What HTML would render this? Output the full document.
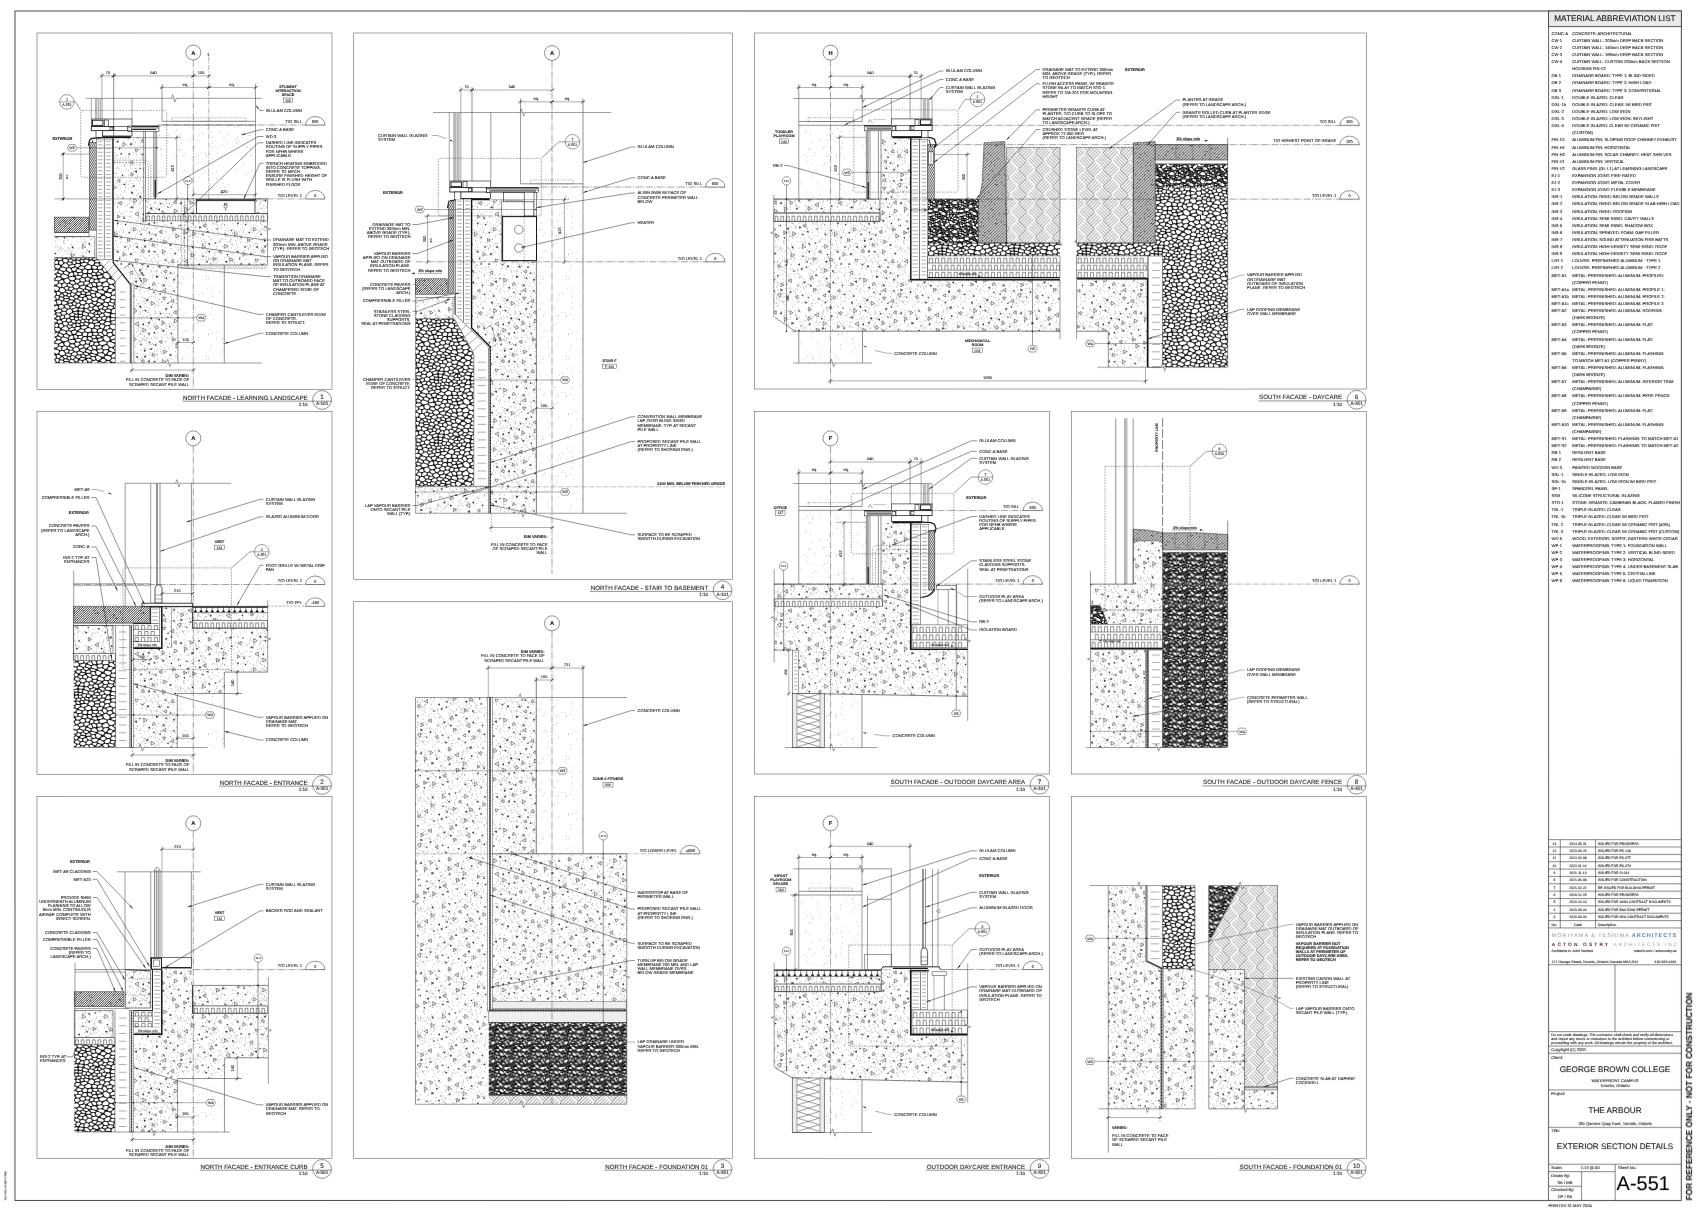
<!DOCTYPE html><html><head><meta charset="utf-8"><title>A-551 Exterior Section Details</title><style>html,body{margin:0;padding:0;background:#fff}svg{display:block}text{font-family:"Liberation Sans",sans-serif;fill:#1a1a1a;text-rendering:geometricPrecision;stroke:#1a1a1a;stroke-width:0.1px}</style></head><body><svg width="1700" height="1213" viewBox="0 0 1700 1213" fill="none"><defs><pattern id="conc" width="120" height="110" patternUnits="userSpaceOnUse"><rect width="120" height="110" fill="#fff"/><path d="M28.56 59.87h0M44.39 66.43h0M75.09 7.21h0M1.58 92.12h0M31.12 25.78h0M119.48 51.73h0M100.38 52.4h0M76.69 16.57h0M76.18 95.48h0M62.78 81.54h0M80.57 7.04h0M90.99 65.02h0M36.15 3.41h0M103.86 52h0M86.26 96.67h0M85.7 101.32h0M47.4 88.1h0M53.35 102.91h0M105.46 10.72h0M16.32 23.87h0M115.86 47.98h0M75.2 33.11h0M60.87 42.45h0M42.11 64.36h0M70.11 99.46h0M81.84 102.18h0M102.77 109.01h0M80.55 17.94h0M103.28 106.11h0M108.56 62.6h0M85.66 23.22h0M99.79 63.09h0M34.19 6.98h0M102.47 108.88h0M10.62 88.07h0M49.26 16.58h0M35.27 84.57h0M104.73 4.86h0M73.74 4.94h0M86.21 36.4h0M105.71 107.87h0M60.65 109.84h0M37.16 8.47h0M71.97 3.45h0M23.69 44.87h0M73.26 17.18h0M5.09 95.46h0M37.66 105.45h0M107.6 41.56h0M55.25 57.21h0M77.27 65.52h0M67.11 68.21h0M112.87 55.77h0M51.74 79.23h0M28.52 33.12h0M117.34 57.32h0M65.81 1.26h0M49.83 63.8h0M2.41 67.74h0M75.86 6.61h0M75.28 51.29h0M81.51 38.78h0M84.83 81.18h0M2.66 6.66h0M81.12 105.96h0M30.13 50.19h0M71.12 35.2h0M43.67 34.39h0M44.3 65.52h0M36.05 41.49h0M92.67 2.96h0M68.31 80.87h0M37.2 24.48h0M96.46 26.26h0M22.49 47.88h0M83.77 11.2h0M38.64 36.71h0M100.02 48.23h0M102.66 18.62h0M40.41 71.53h0M106.19 49.62h0M27 13.3h0M63.56 20.99h0M96.81 92.23h0M22.03 30.65h0M96.87 70.61h0M96.75 37.98h0M15.56 32.11h0M95.26 29.83h0M41.56 45.86h0M50.37 45.05h0M110.47 17.16h0M0.56 103.76h0M105.6 108.56h0M52.12 104.52h0M111.29 24.43h0M89.46 92.04h0M79.56 57.09h0M34.69 37.52h0M27.3 7.49h0M70.64 31.57h0M97.22 4.96h0M108.43 76.31h0M110.86 98.62h0M107.96 63.46h0M1.58 81.98h0M20.62 32.99h0M79.55 57.75h0M49.65 103.29h0M73.46 37.55h0M30.3 94.78h0M57.26 86.06h0M42.22 21.71h0M64.16 89.85h0M20.56 87.08h0M110.61 88.67h0M98.82 0.83h0M75.43 94.88h0M5.99 29.85h0M32.23 58h0M50.76 52.02h0M93.18 0.2h0M6.58 13.95h0M14.96 7.53h0M116.96 93.99h0M10.34 55.23h0M37.91 34.6h0M42.15 71.16h0M70.39 39.69h0M22.93 36.17h0M14.85 61.11h0M85.93 41.83h0M9.59 19.64h0M44.79 66.49h0M93.91 41.83h0M96.14 68.52h0M51.79 40.97h0M59.54 77.32h0M50.46 76.35h0M55.3 26.96h0M64.3 76.47h0M8.59 46.74h0M51.1 96.76h0M112.38 41.17h0M107.74 87h0M31.46 51.06h0M14.78 89.45h0M79.47 97.61h0M95.1 73.43h0M88.05 62.02h0M12.38 64.65h0M0.59 15.79h0M92.92 4.87h0M11.02 10.92h0M105.66 19.71h0M2.82 92.57h0M14.55 92.83h0M80.82 91.98h0M114.29 63.7h0M95.85 3.99h0M92.09 56.25h0M85.82 11.74h0M89.88 102.8h0M7.34 35.67h0M67.68 91.09h0M29.06 19.77h0M30 67.76h0M90.43 43.31h0M44.1 43.63h0M42.03 46h0M9.99 55.03h0M116.77 45.41h0M89.69 17.67h0M82.9 83.17h0M80.86 56.88h0M58.05 70.72h0M107.69 16.43h0M11.5 82.3h0M109.99 56.9h0M53.17 79.08h0M22.33 29.41h0M23.9 64.42h0M37.78 25.55h0M82.94 104.88h0M35.5 77.59h0M49.58 93.9h0M70.16 29.39h0M26.11 2.54h0M57.54 42.1h0M20.67 39.65h0M38.65 85.16h0M17.23 109.03h0M57.55 65.89h0M56.17 91.81h0M98.59 61.28h0M57.76 79.28h0M102.8 44.03h0M88.03 105.63h0M56.09 25.26h0M28.17 78.95h0M81.04 105.46h0M102.47 26.63h0M22.75 28.45h0M22.46 77.52h0M103.03 98.97h0M30.6 95.16h0M37.61 46.56h0M87.48 9.45h0M11.12 91.73h0M35.01 39.23h0M69.64 74.31h0M0.83 36.83h0M52.35 53.45h0M25.21 64.36h0M114.64 43h0M65.32 13.11h0M32.97 73.2h0M13.5 97.59h0M109.05 10.66h0M112.95 41.16h0M92.69 83.31h0M35.46 74.35h0M78.49 88.67h0M31.87 82.96h0M115.36 74.01h0M64.34 12.46h0M59.27 38.74h0M86.17 74.64h0M67.97 20.02h0M77.48 69.4h0M21.49 97.89h0M78.64 13.54h0M111.82 15.55h0M39.78 79.25h0M71.69 61.04h0M77.7 50.35h0M37.49 19.4h0M8.23 78.74h0M90.54 59.74h0M88.76 39.51h0M31.9 42.17h0M104.7 4.63h0M60.57 27.19h0M92.27 38.95h0M39.94 44.37h0M64.98 84.89h0M42.35 93.16h0M13.46 29.75h0M11.96 12.4h0M93.48 80h0M22.18 20.81h0M50 81.76h0M97.89 82.36h0M71.03 16.11h0M47.81 21.3h0M63.31 62.52h0M24.25 27.52h0M93.8 3.31h0M96.38 98.03h0M113.92 42.15h0M66.31 64.14h0M76.04 107.47h0M82.4 32.93h0M103.2 53.25h0M72.16 79.95h0M0.28 84.75h0M79.43 54.11h0M62.84 50.66h0M23.21 58.25h0M4.45 55.05h0M77.52 48.86h0M67.92 105.49h0M107.05 14.91h0M95.09 68.56h0M6.07 39.59h0M28.01 8.56h0M64.67 102.28h0M38.77 95.76h0M83.36 14.78h0M102.99 66.12h0M111.24 78.75h0M88.77 37.8h0M96.8 102.49h0M103.38 48.07h0M90.82 53.35h0M13.09 4.7h0M9.35 22.03h0M19.3 54.69h0M83.91 59.12h0M50.65 71.42h0M36.56 51.08h0M90.85 44.16h0M21.67 98.94h0M86.36 40.36h0M44.52 58.23h0M71.58 24.62h0M0.32 22.99h0M93.98 15.78h0M55.2 21.48h0M25.11 18.78h0M48.45 18.51h0M3.3 12.11h0M20.19 53.93h0M7.17 2.47h0M53.76 44.85h0M84.41 5.62h0M48.4 43.63h0M3.2 106.21h0M26.27 10.37h0M56.95 18.12h0M74.69 38.1h0M14.87 5.71h0M87.32 30.26h0M94.54 51.19h0M111.95 33.06h0M30 29.24h0M97.76 69.2h0M41.37 10.31h0M81.89 106.62h0M71.07 0.4h0M3.64 9.96h0M20.44 4.03h0M6.47 71.97h0M108.04 22.08h0M116.86 52.46h0M96.43 100.91h0M112.81 3.76h0M36.57 66.76h0M113.58 9.66h0M35.21 93.49h0M13.76 42.88h0M40.1 74.81h0M111.42 19.21h0M88.78 80.73h0M100.28 60.87h0M110.82 39.91h0M49.77 25.23h0M93.54 52.87h0M32.33 18.67h0M86.48 66.63h0M85.28 42.55h0M58.45 16.93h0M85.28 2.52h0M56.03 83.43h0M81.28 10.68h0M28.46 92.8h0M77.09 96.64h0M104.67 49.49h0M107.63 80.61h0M40.05 40.71h0M8.65 43.93h0M114.68 11.55h0M68.27 12.11h0M9.71 71.41h0M28.88 5.37h0M18.32 70.9h0M70.27 1.28h0M27.59 106.4h0M26.41 61.87h0M50.35 85.93h0M72.52 86.75h0M64.23 20.7h0M21.31 8.7h0M99.06 12.38h0M2.88 106.31h0M23.91 98.26h0M10.29 51.18h0M26.73 91.24h0M73.85 70.6h0M91.37 95.89h0M41.53 66.34h0M53.47 12.2h0M100.25 65.38h0M97.78 22.66h0M64.7 51.06h0M87.36 8.5h0M41.54 53.3h0M8.58 60.8h0M88.24 46.51h0M77.81 66.65h0M25.7 38.56h0M119.49 36.87h0M51.7 9.26h0M26.15 18.18h0M111.71 79.9h0M104.97 108.52h0M73.46 102.45h0M64.29 46.06h0M113.77 99.34h0M113.95 53.26h0M92.82 44.77h0M119.68 101.23h0M35.05 102.76h0M22.15 10.55h0M86.68 32.37h0M62.33 70.32h0M4.87 81.97h0M33.12 47.56h0M41.37 81.63h0M89.62 31.6h0M12.4 32.93h0M49.33 8.53h0M18.39 83.9h0M84.05 107.4h0M117.56 96.38h0M44.71 17.75h0M37.43 50.95h0M63.11 59.63h0M43.17 93.8h0M34.22 50.95h0M106.42 88.79h0M35.69 26.69h0M96.8 1.11h0M15.78 58.39h0M64.3 18.23h0M6.03 22.43h0M92.4 51.23h0M117.51 86.41h0M117.51 3.86h0M22.2 1.45h0M51.88 37.21h0M6.15 60.06h0M11.26 34.28h0M29.67 88.23h0M50.19 28.64h0M5.28 47.25h0M75.3 74.27h0M109.51 88.94h0M29.68 14.92h0M91 86.85h0M61.06 91.41h0M66.22 30.76h0M20.25 1.88h0M77.17 98.67h0M108.74 51.42h0M79.86 102.15h0M97.68 66.29h0M49.73 57.03h0M20.49 20.12h0M82.05 109.13h0M65.65 44.9h0M42.23 50.04h0M96.35 49.78h0M115.11 17.08h0M37.79 57.42h0M49.43 93.62h0M99.31 102.45h0M73.5 3.37h0M68.94 60.47h0M58.51 30.78h0M85.13 100.28h0M12.29 73.56h0M44.56 56.63h0M107.48 105.64h0M77.23 21.46h0M110.49 19.92h0M46 91.1h0M37.94 29.8h0M113.99 103.82h0M38.09 43.18h0M33.83 14.47h0M30.03 107.82h0M9.51 25.27h0M24 8.75h0M63.15 81.73h0M100.59 69.42h0M98.14 0.59h0M33.86 105.73h0M8.33 29.44h0M57.94 29.46h0M65.54 5.19h0M28.31 105.33h0M17.31 99.6h0M21.35 109.21h0M80.95 71.16h0M17.07 6h0M91.14 19.38h0M22.75 90.5h0M104.98 5.37h0M115.29 58.82h0M45.89 11.78h0M46.78 108.63h0M33.69 14.44h0M17.43 13.96h0M42.29 100.65h0M9.24 21.12h0M112.72 109.66h0M117.59 27.05h0M42.52 104.59h0M58.21 77.38h0M37.59 2.35h0M41.44 82.3h0M93.83 62.58h0M55.69 59.19h0M53.07 58.79h0M99.96 22.05h0M71.32 102.61h0M101.8 19.74h0M115.61 92.4h0M20.15 29.25h0M24.28 5.84h0M117.4 45.02h0M104.72 12.6h0M1.67 95.68h0M95.28 109.07h0M82.26 57.78h0M91.92 10.18h0M64.85 48.53h0M17.56 66.04h0M38.78 55.7h0M44.82 34.99h0M43.01 66.11h0M117.66 102.98h0M103.46 91.87h0M34.42 107.44h0M32.37 13.55h0M60.1 80.54h0M40.92 70.98h0M33.89 106.36h0M54.35 52.56h0M63.77 96.24h0M118.38 58.13h0M52.99 67.96h0M8.31 46.8h0M101.7 85.52h0M7.12 93.99h0M46.08 107.94h0M43.99 23.61h0M65.84 97.22h0M51.73 95.42h0M85.36 39.77h0M36.07 55.59h0M47.88 40.98h0M78.21 96.26h0M70.13 16.08h0M26.39 40.8h0M73.76 15.35h0M9.79 35.27h0M33.96 3.24h0M64.66 101.34h0M64.12 81.12h0M99.41 92.15h0M109.57 48.55h0M81.89 13.28h0M105.6 41.61h0M57.04 97.93h0M34.41 20.89h0M98.83 65.87h0M10.18 3.09h0M42.15 0.82h0M99.89 20.2h0M32.9 42.77h0M61.41 47.56h0M75.44 72.58h0M52.35 10.67h0M117.49 76.03h0M10.03 48.59h0M90.43 109.1h0M7.92 1.04h0M57.59 46.43h0M107.33 90.91h0M39.79 46.06h0M69.94 97.26h0M24.23 43.11h0M10.61 70.54h0M3.19 102.86h0M62.85 63.13h0M10.23 25.55h0M56.25 94.31h0M64.69 31.31h0M117.85 72.76h0M63.41 22.26h0M35.83 98.98h0M15.95 58.47h0M74.4 39.03h0M92.24 100.1h0M102.9 81.18h0M24.43 6.59h0M51.94 34.33h0M23.27 95.85h0M25.93 90.5h0M112.52 13.17h0M109.63 43.69h0M25.43 20.51h0M4.53 54.86h0M46.12 93.66h0M99.96 6.27h0M48.16 42.81h0M21.32 27.58h0M31.6 76.35h0M40.82 12.23h0M26.45 48.64h0M67.78 27h0M83.95 23.7h0M80.5 67.03h0M21.09 82.62h0M47.31 59.35h0M71.73 69.09h0M53.08 6.16h0M94.4 94.56h0M58.82 63.69h0M32.22 98.85h0M82.28 24.41h0M98.1 108.47h0M41.51 109.51h0M57.98 19.66h0M86.03 37.28h0M87.88 64.18h0M12.92 58.09h0M102.1 52.56h0M64.72 94.95h0M53.6 54.2h0M69.94 90.62h0M24.37 10.29h0M91.34 60.78h0M36.33 98.14h0M106.15 59.56h0M118.61 91.96h0M89.77 32.04h0M1.3 74.65h0M88.21 38.57h0M57.45 62.39h0M29.98 76.74h0M67.5 42.41h0M13.15 60.93h0M38.36 79.74h0M20.7 43.38h0M23.55 44.91h0M69.17 11.76h0M6.58 53.05h0M24.19 55.56h0M20.06 11.09h0M64.5 101.55h0M104.22 56.71h0M47.68 7.27h0M33.16 34.57h0M112.98 12.89h0M113.76 52.44h0M52.09 28.85h0M115.51 20.47h0M68.56 56.18h0M23.94 24.53h0M118.25 86.99h0M88.01 99.32h0M11.83 77.39h0M90.06 24.79h0M54.85 107.19h0M39.21 83.86h0M19.83 73.39h0M32.33 55.97h0M44.69 95.74h0M89.38 55.46h0M82.47 47.04h0M96.51 28.32h0M65.3 64.42h0M46.57 5.13h0M20.39 70.45h0M25.36 83.4h0M60.59 104.84h0M101.74 80.01h0M44.7 4.79h0M66.8 82.02h0M110.53 22.29h0M19.01 107.85h0M88.73 53.31h0M88.62 16.44h0M65.29 73.55h0M72.45 17.73h0M16.41 68.73h0M106.12 15.19h0M0.85 9.11h0M94.23 42.99h0M54.69 109.34h0M73.34 28.97h0M84.12 0.22h0M33.78 76.85h0M20.5 3.59h0M62.19 36.06h0M116.54 11.18h0M96.26 42.73h0M96.65 48.96h0M80.09 35.93h0M26.95 49.77h0M96.02 37.98h0M27.59 45.75h0M11.51 34.73h0M68.74 60.01h0M71.69 31.9h0M2.98 2.91h0M40.68 21.61h0M68.28 29.19h0M91.43 66.15h0M79.48 80.91h0M62.59 46.92h0M37.01 6.92h0M95.33 55.01h0M11.97 101.93h0M69.84 68.59h0M52.64 13.87h0M119.94 18.5h0M43.95 109.93h0M14.65 54.94h0M57.56 27.24h0M110.95 45.56h0M1.39 52.09h0M0.57 77.93h0M104.28 99.62h0M5.75 74.27h0M36.57 51.99h0M36.05 33.55h0M15.93 68.83h0M10.63 106.06h0M5.26 106.05h0M22.99 9.18h0M89.38 58.4h0M92.27 55.93h0M75.66 9.09h0M80.86 56.37h0M115.47 0.68h0M8.2 74.39h0M111.14 46.39h0M85.31 61.66h0M46.91 51.2h0M72.2 3.18h0M36.67 81.19h0M30.97 52.05h0M30.81 39.34h0M78.07 81.81h0M114.82 52.45h0M24.33 37.06h0M7.02 26.35h0M70.15 67.22h0M28.98 19.98h0M11.77 19.65h0M60.17 28.07h0M106.04 62.13h0M40.82 47.42h0M4.8 80.62h0M90.13 40h0M87.06 29.97h0M26.34 25.11h0M23.6 66.64h0M77.05 80.05h0M12.45 84.29h0M57.39 41.63h0M60.37 47.6h0M24.01 43.45h0M77.53 78.67h0M109.8 21.38h0M106.92 88.04h0M85.56 107.75h0M16.55 85.43h0M107.93 13.42h0M71.36 104.17h0M35.16 94.08h0M108.76 47.86h0M17.42 23.71h0M99.58 46.44h0M37.88 48.72h0M111.38 27.94h0M2.19 104.41h0M38.03 42.4h0M117.1 31.01h0M10.29 97.65h0M29.26 24.37h0M112.52 25.23h0M108.14 36.64h0M36.39 23.74h0M65.08 61.61h0M47.8 55.82h0M35.77 92.14h0M112.06 82.84h0M98.37 7.78h0M30.04 22.41h0M18.58 106.53h0M108.63 100.56h0M66.94 12.82h0M51.24 6.18h0M108.56 29.21h0M34.58 104.03h0M24.06 101.49h0M37.34 73.13h0M12.8 98.82h0M47.84 37.96h0M78.52 65.27h0M30.12 13.66h0M69.06 2.71h0M104.58 37.81h0M20.35 36.07h0M13.66 34.83h0M65.19 44.76h0M40.11 31.99h0M58.38 85.66h0M52.53 84.47h0M57.92 13.24h0M20.43 93.24h0M57.51 42.07h0M61.88 93.08h0M45.04 39.77h0M43.92 1.19h0M65.38 52.71h0M59.49 49.68h0M56.7 78.7h0M22.34 107.95h0M13.76 95.3h0M21.01 87.47h0M31.26 8.61h0M64.88 92.29h0M101.46 96.47h0M117.56 5.85h0M45.48 11.76h0M90.62 49.67h0M89.29 87.53h0M119.88 74.45h0M105.03 60.33h0M9.68 98.02h0M10.93 9.43h0M99.64 30.86h0M79.49 3.15h0M25.3 78.72h0M4.52 56.17h0M112.5 23.57h0M84.57 81.82h0M74.4 84.3h0M83.78 1.57h0M23.02 59.01h0M116.38 23.87h0M70.42 14.12h0M101.62 48.97h0M62.64 73.63h0M16.38 80.17h0M95.99 94.55h0M33.77 25.78h0M19.79 98.93h0M52.56 42.88h0M62.46 76.84h0M38.17 36.99h0M91.95 85.44h0M35.52 8.1h0M111.37 80.27h0M71.31 44.51h0M115.06 47.37h0M25.99 11.04h0M42.13 66.08h0M43.74 104.18h0M77.98 50.4h0M79.24 66.19h0M74.11 54.47h0M62.76 54.04h0M99.76 21.11h0M94.26 32.81h0M101.85 8.01h0M58.2 48.72h0M85.39 22.26h0M31.49 14.62h0M67.37 63.42h0M0.06 19.57h0M23.96 105.29h0M54.6 62.21h0M34.76 72.57h0M97.56 73.83h0M0.17 48.35h0M58.66 4.9h0M94.79 35.07h0M35.2 68.78h0M70.18 54.61h0M103.12 57.08h0M41.18 7.08h0M66.35 39.98h0M64.39 38.22h0M0.83 4.16h0M18.95 10.33h0M102.17 63.88h0M28.62 78.17h0M76.14 6.82h0M90.15 25.17h0M119.68 15.61h0M34.3 27.4h0M103.46 90.05h0M69.53 16.39h0M51.44 77.22h0M6.95 101.3h0M100.96 102.49h0M83.83 67.94h0M117.01 29.36h0M36.67 13.55h0M21.65 87.83h0M11.43 81.85h0M47.55 96.54h0M91.16 75.55h0M101.4 4.68h0M31.85 40.55h0M51.52 73.74h0M105.5 81.4h0M111.44 76.56h0M42.78 55.86h0M89.82 89.64h0M44.39 39.09h0M73.74 25.12h0M105.96 0.01h0M77.84 53.42h0M23.4 62.72h0M56.9 105.83h0M106.16 64.52h0M104.57 97.2h0M19.82 91.01h0M100 108.99h0M91.16 43.13h0M24.77 71.81h0M25.29 83.3h0M68.92 90.84h0M42.78 33.33h0M108.53 72.88h0M45.39 61.67h0M52.26 70.72h0M62.01 31.41h0M117.56 97.38h0M91.04 30.6h0M23.31 80.42h0M98.68 71.8h0M25.62 79.24h0M62.79 41.07h0M70.67 49.36h0M77.85 82.68h0M117.93 12.23h0M68.53 103.99h0M78.84 63.76h0M102.36 3.45h0M95.12 68.55h0M70.11 34.18h0M74.31 13.79h0M63.06 28.35h0M111.8 88.51h0M56.74 83.05h0M46.18 57.6h0M19.38 94.37h0M91.69 83.6h0M9.99 90.14h0M1.44 62.17h0M58.54 6.52h0M50.61 97.58h0M74.91 34.59h0M97.72 39.1h0M107.65 44.1h0M9.31 106.89h0M8.53 27.84h0M92.53 12.67h0M65.3 94.5h0M70.8 38.29h0M90.96 90.82h0M69.52 68.96h0M38.68 44.82h0M119.02 106.9h0M0.2 21.59h0M27.03 87.22h0M24.07 18.63h0M91.91 18.58h0M117.29 50.09h0M107.83 90.17h0M24.86 86.42h0M49.79 24.44h0M5.53 77.35h0M67.33 33.35h0M99.94 21.67h0M53.37 9.6h0M42.05 97.32h0M60.01 16.89h0M28.39 70.88h0M33.33 97.59h0M7.27 95.58h0M74.63 90.45h0M42.51 7.6h0M20.66 68.95h0M3.11 12.12h0M93.87 96.58h0M102.73 92.12h0M66.6 96.28h0M83.71 61.31h0M51.08 2.68h0M10.76 27.46h0M55.31 13.31h0M116.46 63.41h0M88.85 98.2h0M27.15 97.48h0M114.97 29.42h0M15.06 88h0M106.77 87.84h0M49 66.24h0M13.67 25.79h0M50.26 81.92h0M10.65 102.11h0M3.58 106.66h0M28.43 90.07h0M98.17 104.99h0M56.42 76.87h0M35.04 91.61h0M13.06 97.21h0M71.08 6.81h0M112.96 34.76h0M8.18 28.49h0M3.28 30.94h0M85.19 108.74h0M75.76 93.94h0M98.67 78.62h0M46.13 27.7h0M18.72 60.17h0M24.5 81.39h0M38.46 63.72h0M65.57 69.07h0M18.64 28.19h0M82.64 23.45h0M80.58 106.15h0M46.7 105.78h0M73.71 103.88h0M63.15 82.81h0M81.91 21.48h0M62.15 63.9h0M55.64 72.6h0M109.09 87.45h0M97.47 15.78h0M84.38 69.01h0M112.6 0.28h0M20.69 107.32h0M44.7 77.62h0M71.01 43.78h0M52.63 61.84h0M118.22 58.67h0M94.83 33.38h0M85.41 66.51h0M89.21 96.75h0M9.58 106.38h0M73.22 28.58h0M55.72 10.65h0M27.73 92.16h0M85.34 95.29h0M19.48 11.9h0M45.52 54.53h0M85.3 32.81h0M88.47 64.26h0M34.64 86.65h0M8.84 65.14h0M22.54 4.69h0M57.4 57.18h0M73.5 41.28h0M111.54 86.26h0M18.48 0.52h0M115.27 45.22h0M12.59 19.55h0M84.02 19.43h0M44.77 74.45h0M42.28 71.89h0M113.8 87.22h0M75.39 68.82h0M37.15 70.45h0M77.89 64.57h0M58.89 82.67h0M24.54 78.48h0M117.42 3.95h0M30.25 108.43h0M9.9 89.96h0M69.72 7.65h0M75.56 0.84h0M101.92 33.26h0M110.87 98.74h0M16.39 44.33h0M18.3 83.36h0M11.44 8.11h0M13.93 94.46h0M29.65 35.53h0M53.54 60.7h0M49.58 104.18h0M40.87 52.35h0M103.46 26.8h0M20.88 91.99h0M37.91 98.11h0M98.65 41.02h0M39.95 11.15h0M104.82 48.68h0M41.06 19.42h0M27.11 96.13h0M15.68 61h0M74.96 57.24h0M60.28 43.72h0M23 90.31h0M107.62 62.03h0M30.2 100.35h0M24.21 18.8h0M75.1 91.46h0M68.67 12.07h0M117.47 17.18h0M41.24 108.71h0M95.06 83.13h0M9.09 93.7h0M48.01 1.18h0M94.69 102.33h0M5.71 49.96h0M108.18 36.57h0M36.35 85.68h0M52.95 109.79h0M102.72 94.44h0M84.84 21.43h0M82.44 63.64h0M57.94 62.31h0M36.63 21.76h0M109.46 40.36h0M12.7 107.41h0M61.29 74.34h0M40.7 16.38h0M39.89 91.68h0M32.87 100.35h0M36.53 98.67h0M21.48 48.8h0M15.46 16.34h0M62.7 40.15h0M64.5 23.81h0M37.26 35.4h0M107.8 8.9h0M49.95 93.99h0M68.66 28.13h0M119.67 11.92h0M16.44 1.87h0M52.7 94.46h0M33.88 31.41h0M95.78 8.53h0M2.08 72.98h0M10.58 58.01h0M17.37 66.19h0M102.16 49.83h0M32.8 68.57h0M84.02 6.26h0M28.78 41.43h0M60.7 30.1h0M78.99 28.1h0M108.57 38.69h0M26.59 8.63h0M15.19 23.71h0M105.92 45.83h0M53.16 105.57h0M115.99 84.23h0M28.82 36.01h0M60.61 28.39h0M41.65 23.38h0M28.94 82.44h0M72.4 49.01h0M56.6 67.48h0M82.16 2.51h0M101.2 50.89h0M41.04 105.44h0M90.8 38.55h0M2.94 48.09h0" stroke="#555" stroke-width="0.55" stroke-linecap="round" fill="none"/><path d="M54.51 42.46L50.84 42.12L52.96 39.11ZM14.9 103.94L18.34 101.95L18.35 105.93ZM55.73 9.28L52.71 11.03L52.71 7.54ZM35.14 24.67L32.3 26.31L32.29 23.04ZM42.57 70.2L45.81 68.33L45.82 72.07ZM33.45 62.05L35.75 64.69L32.31 65.37ZM42.45 77.11L46.01 77.24L44.12 80.25ZM13.94 64.4L10.93 66.14L10.93 62.66ZM21.14 31.31L24.07 29.61L24.08 33ZM116.32 77.45L113.08 79.32L113.08 75.58ZM39.07 -2.35L35.84 -0.49L35.84 -4.21ZM39.07 107.65L35.84 109.51L35.84 105.79ZM17.19 90.7L13.67 92.73L13.67 88.67ZM96.3 69.76L93.69 71.8L93.22 68.52ZM53.19 92.3L56.16 90.58L56.17 94.01ZM27.12 60.05L23.85 61.94L23.85 58.16ZM96.11 38.93L93.07 40.69L93.07 37.18ZM45.73 31.55L42.37 33.49L42.37 29.61ZM107.73 50.47L104.65 52.26L104.64 48.69ZM50.76 81.24L53.78 79.49L53.79 82.98ZM113.27 39.52L109.82 41.51L109.82 37.54ZM16.49 9.46L13.38 11.25L13.38 7.67ZM57.77 100.96L54.38 102.92L54.37 99ZM-1.91 93.22L1.06 91.5L1.07 94.93ZM118.09 93.22L121.06 91.5L121.07 94.93ZM74.46 35.28L71.19 37.17L71.19 33.39ZM60.88 72.95L60.4 77.01L57.12 74.56ZM117.79 14.28L114.43 16.22L114.43 12.34ZM43.53 51.44L46.3 49.83L46.31 53.04ZM91.56 98.56L88.11 100.55L88.11 96.57ZM82.73 5.59L86.11 3.63L86.12 7.54ZM6.18 34.37L2.92 36.26L2.92 32.49ZM42.09 100.92L44.95 102.91L41.8 104.4ZM64.01 65L60.88 66.81L60.88 63.2ZM64.27 41.39L67.56 39.48L67.57 43.28ZM99.96 0.27L96.48 2.28L96.48 -1.73ZM99.96 110.27L96.48 112.28L96.48 108.27ZM14.95 38.94L18.49 39.52L16.22 42.3ZM73.08 92.73L70.11 94.45L70.11 91.01ZM106.71 103.48L103.16 105.53L103.16 101.43ZM91.46 55.84L93.63 58.77L90 59.18ZM66.96 12.72L63.76 14.57L63.76 10.88ZM61.04 45.78L58.12 47.46L58.12 44.1ZM91.4 89.25L88.35 91.01L88.35 87.49ZM26.33 0.05L22.93 2.01L22.92 -1.92ZM26.33 110.05L22.93 112.01L22.92 108.08ZM39.1 11.93L41.97 10.27L41.98 13.58ZM67.99 60.6L71.29 58.69L71.3 62.5ZM106.35 65.64L109.9 63.58L109.91 67.69ZM67.5 98.99L64.36 100.81L64.35 97.18ZM9.54 52.59L12.72 50.74L12.73 54.42ZM100.96 30.12L101.09 33.26L98.31 31.81ZM108.24 26.36L104.72 28.4L104.72 24.33ZM78.15 78.55L75.04 77.13L77.82 75.14ZM46.9 21.69L43.74 23.51L43.74 19.87ZM10.42 19.98L7.52 21.65L7.52 18.3ZM82.7 24.54L85.78 27.04L82.08 28.46ZM102.81 75.4L105.75 73.69L105.76 77.09ZM-2.77 70.59L-0.05 69.02L-0.05 72.16ZM117.23 70.59L119.95 69.02L119.95 72.16ZM59.2 15.93L55.9 17.84L55.9 14.03ZM95.13 95L98.46 93.06L98.46 96.91ZM34.69 83.28L31.12 85.34L31.12 81.22ZM76.26 13.7L72.7 15.76L72.69 11.65ZM0.24 106.61L-2.57 108.23L-2.57 104.99ZM120.24 106.61L117.43 108.23L117.43 104.99Z" stroke="#222" stroke-width="0.5" fill="none"/><path d="M25.73 80.19L28.1 78.82L28.1 81.55ZM10.25 97.26L12.58 95.91L12.59 98.6ZM6.7 3.71L5.84 5.75L4.51 3.98ZM52.78 59.73L54.71 58.61L54.71 60.84ZM3.12 74.42L5.07 73.29L5.07 75.54ZM96.07 9.03L97.82 8.02L97.82 10.04ZM89.51 64.8L91.93 64.91L90.62 66.95ZM6.44 26.9L4.44 28.06L4.44 25.75ZM106.39 34.22L108.42 33.8L107.77 35.77ZM47.77 45.67L49.37 47.42L47.05 47.92ZM104.5 -1.71L102.15 -0.36L102.15 -3.07ZM104.5 108.29L102.15 109.64L102.15 106.93ZM20.99 44.48L22.81 43.43L22.81 45.53ZM33.32 31.7L35.35 30.52L35.36 32.87ZM52.69 70.92L54.6 69.81L54.61 72.02ZM81.57 7.39L79.19 8.76L79.19 6.02ZM12.28 76.04L14.4 74.81L14.41 77.26ZM39.27 93.65L41.15 92.56L41.16 94.73ZM96.56 23.06L94.8 24.07L94.8 22.04ZM100.4 98.56L102.31 97.45L102.31 99.65ZM88.24 104.19L90.36 102.96L90.37 105.41ZM29.57 19L31.71 17.74L31.73 20.22ZM78.33 98.66L76.2 99.9L76.2 97.43ZM44.35 40.23L46.28 39.11L46.28 41.34ZM85.69 83.94L85.23 81.49L87.58 82.32ZM87.16 77.41L88.93 76.38L88.94 78.43ZM38.08 46.85L40.27 45.59L40.27 48.11ZM4.68 -3.02L4.94 -0.73L2.83 -1.64ZM4.68 106.98L4.94 109.27L2.83 108.36ZM86.31 11.81L88.52 10.53L88.52 13.09ZM50.7 105.73L50.07 107.71L48.68 106.18ZM105.17 58.56L107.41 57.26L107.42 59.85ZM50.2 3.55L52.04 2.48L52.04 4.61ZM32.81 72.2L34.56 71.19L34.57 73.21ZM0.75 38.78L-0.97 39.77L-0.97 37.79ZM120.75 38.78L119.03 39.77L119.03 37.79ZM50.36 87.11L52.18 86.06L52.19 88.16ZM65.74 1.22L67.63 0.13L67.63 2.31ZM65.74 111.22L67.63 110.13L67.63 112.31ZM110.85 96.92L111.46 94.66L113.11 96.31ZM14.54 61.65L16.9 60.28L16.91 63.01ZM27.42 102.84L29.65 101.54L29.66 104.12ZM1.79 88.11L3.46 87.15L3.47 89.08ZM121.79 88.11L123.46 87.15L123.47 89.08ZM29.5 98.33L31.88 96.95L31.88 99.7ZM77.74 44.57L79.91 43.32L79.92 45.82ZM59.09 5.53L60.91 4.47L60.92 6.58ZM82.84 48.08L82.11 50.6L80.29 48.71ZM111.85 62.4L114 61.15L114.01 63.64ZM21.86 104.25L23.93 103.05L23.94 105.44ZM63.24 17.77L65.06 16.72L65.06 18.82ZM-3.81 31.74L-1.52 30.42L-1.52 33.06ZM116.19 31.74L118.48 30.42L118.48 33.06ZM30.54 11.58L29.58 13.47L28.42 11.7ZM69.04 72.04L71.29 70.73L71.3 73.34ZM9.67 34.66L10.97 32.5L12.19 34.71ZM19.75 14.31L21.77 13.13L21.78 15.47ZM10.63 44.67L8.23 44.74L9.37 42.63ZM24.05 90.72L26.01 89.58L26.02 91.85ZM97.5 78.86L99.48 77.71L99.48 80ZM109.09 87.44L111.43 86.09L111.44 88.79ZM87.9 31.69L89.89 30.54L89.89 32.83ZM49.13 25.08L51.33 23.8L51.34 26.35ZM10.51 82.78L12.82 81.44L12.83 84.12ZM33.16 2.66L35.08 1.54L35.09 3.77ZM33.16 112.66L35.08 111.54L35.09 113.77ZM-3.43 3.18L-1.38 1.99L-1.37 4.36ZM116.57 3.18L118.62 1.99L118.63 4.36ZM56.61 55.68L58.56 54.55L58.56 56.8ZM106.63 82.61L104.7 83.72L104.7 81.5ZM78.25 1.67L78.55 -0.66L80.42 0.75ZM78.25 111.67L78.55 109.34L80.42 110.75ZM27.7 3.8L29.73 2.62L29.74 4.97ZM27.5 31.36L29.77 30.04L29.78 32.67ZM18.68 86.68L21.01 85.33L21.01 88.03ZM114.41 51.02L112.33 52.22L112.33 49.82ZM67.94 77.27L66.18 78.29L66.18 76.25ZM37.66 99.44L39.87 98.16L39.87 100.71ZM1.31 65.33L3.16 64.26L3.16 66.39ZM121.31 65.33L123.16 64.26L123.16 66.39ZM44.83 0.8L42.61 2.09L42.6 -0.48ZM44.83 110.8L42.61 112.09L42.6 109.52ZM27.85 67.72L29.95 66.49L29.96 68.93ZM85.28 47.77L86.57 46.02L87.44 48.02ZM8.07 12.68L9.91 11.61L9.91 13.73ZM97.59 55.73L95.04 56.09L96 53.7ZM26.49 46.4L28.79 45.07L28.79 47.73ZM81.56 14.56L83.43 13.47L83.43 15.64ZM82.43 37.31L82.46 35L84.45 36.19ZM73.97 27.18L71.8 28.43L71.8 25.92ZM23.69 26.61L25.86 25.36L25.86 27.87ZM107.54 71.5L109.93 70.12L109.93 72.88ZM77.66 90.89L79.63 89.74L79.64 92.02ZM59.39 93.24L61.7 91.91L61.71 94.57ZM44.58 88.98L46.84 87.67L46.85 90.29ZM83.15 62.52L85.2 61.33L85.21 63.7ZM21.28 58.54L19.5 59.57L19.5 57.51ZM42.46 64.94L44.36 63.84L44.36 66.03ZM60.48 71.35L60.53 68.6L62.88 70.02ZM59.67 -0.37L57.85 0.69L57.85 -1.42ZM59.67 109.63L57.85 110.69L57.85 108.58ZM112.62 10.49L110.88 11.5L110.88 9.49ZM15.49 27.01L17.82 25.66L17.83 28.35ZM0.07 17.53L1.96 16.43L1.97 18.62ZM120.07 17.53L121.96 16.43L121.97 18.62ZM104.05 14.3L105.92 13.22L105.92 15.38ZM46.75 83.3L48.61 82.22L48.61 84.37ZM49.34 53.16L51.18 52.1L51.18 54.22ZM36.28 58.17L35.93 55.45L38.45 56.5ZM36.91 14.45L35.69 16.46L34.55 14.4ZM81.36 75.36L83.28 74.25L83.29 76.48ZM45.21 58.78L46.5 57.11L47.3 59.06ZM88.19 40.92L87.57 42.94L86.13 41.39ZM0.93 42.42L2.58 44.14L0.27 44.71ZM120.93 42.42L122.58 44.14L120.27 44.71ZM87.85 23.79L89.85 22.63L89.86 24.95ZM73.96 103.14L71.6 104.5L71.6 101.78ZM56.66 33.6L54.48 34.85L54.48 32.34ZM66.38 8.69L68.72 7.33L68.73 10.04ZM104.88 41.78L107.13 40.48L107.13 43.08ZM26.14 20.83L23.95 22.09L23.95 19.56ZM49.23 97.13L47.56 98.1L47.56 96.17ZM38.86 74.04L40.7 72.97L40.7 75.1ZM75.07 51L73.2 52.09L73.2 49.92Z" stroke="none" fill="#333"/></pattern><pattern id="lconc" width="90" height="80" patternUnits="userSpaceOnUse"><rect width="90" height="80" fill="#fff"/><path d="M56.06 59.34h0M71.57 75.4h0M66.59 73.79h0M2.61 37.25h0M84.9 51.92h0M81.08 9.06h0M42.22 19.73h0M48.94 45.92h0M1.18 17.34h0M25.15 73.31h0M68.92 12.77h0M71.74 11.1h0M55.57 10.14h0M0.16 69.71h0M18.85 17.24h0M88.42 69.79h0M26.04 76.92h0M48.53 54.23h0M18.43 75.28h0M62.16 77.33h0M80.44 23.9h0M32.51 13.28h0M13.11 5.21h0M27.12 48.25h0M0.3 54.23h0M30.41 24.8h0M73.67 38.46h0M28.42 38.5h0M63.42 4.56h0M87.76 1.83h0M67.48 67.59h0M1.63 63.02h0M32.96 46.28h0M0.82 3.74h0M16.28 76.41h0M17.69 60.46h0M83.67 75.36h0M30.99 28.38h0M47.22 62.05h0M9.72 59.87h0M71.75 68.78h0M3.3 75.66h0M8.21 27.26h0M54.97 73.45h0M30.6 73.94h0M49.06 25h0M28.51 14.2h0M7.04 11.91h0M62.03 79.74h0M14.54 3.88h0M88.8 42.68h0M36.53 18.99h0M53.46 66.1h0M41.01 33.74h0M5.01 73.29h0M2.94 39.49h0M75.46 10.45h0M65.85 75.98h0M56.74 63.04h0M9.6 34.76h0M13.43 67.58h0M26.53 36.25h0M89.94 68.18h0M87.84 36.28h0M43.93 58.36h0M43.11 23.28h0M36.34 11.72h0M33.93 79.07h0M86.38 50.16h0M44.94 27.08h0M8.02 21.78h0M70.38 69.39h0M32.52 62.88h0M69.74 55.57h0M59.76 60.77h0M32.71 56.36h0M25.28 38.85h0M69.28 55.27h0M26.45 75.64h0M58.47 46.45h0M1.04 43.76h0M22.56 53.73h0M41.66 65.33h0M58.27 63.81h0M31.31 51.53h0M66.4 66.26h0M31.5 67.43h0M78.29 55.07h0M87.85 76.52h0M46.63 42.35h0M14.96 66.93h0M84.36 38.18h0M62.23 57.57h0M65.73 13.75h0M70.23 46.47h0M59.9 33.66h0M56.14 61.98h0M57.32 57.63h0M2.49 12.8h0M39.7 52.01h0M19.71 54.88h0M56.78 3.35h0M42.44 18.1h0M4.87 10.68h0M28.56 14.52h0M17.4 2.85h0M41.88 30.42h0M55.06 47.21h0M21.41 72.25h0M0.06 32.43h0" stroke="#555" stroke-width="0.45" stroke-linecap="round" fill="none"/></pattern><pattern id="stone" width="72" height="63" patternUnits="userSpaceOnUse"><rect width="72" height="63" fill="#1a1a1a"/><path d="M-1.3 57.3Q-2.1 57.0 -3.1 57.3Q-4.0 57.5 -4.8 58.6Q-5.5 59.6 -5.2 60.5Q-4.9 61.3 -3.9 61.6Q-2.9 61.8 -1.2 60.9Q0.5 59.9 -0.1 58.8Q-0.6 57.6 -1.3 57.3ZM-3.6 31.7Q-4.2 31.9 -4.4 32.8Q-4.6 33.7 -3.5 34.3Q-2.5 34.9 -1.1 34.7Q0.4 34.6 0.5 34.0Q0.6 33.5 -1.2 32.5Q-3.0 31.5 -3.6 31.7ZM-0.5 20.6Q-2.0 21.0 -2.7 22.4Q-3.5 23.7 -3.4 24.0Q-3.2 24.3 -0.8 24.1Q1.7 23.8 1.3 22.0Q0.9 20.2 -0.5 20.6ZM0.7 49.7Q1.6 48.8 -0.3 48.3Q-2.3 47.8 -3.1 49.0Q-3.9 50.2 -3.8 50.4Q-3.7 50.6 -2.0 50.6Q-0.2 50.6 0.7 49.7ZM-0.8 18.0Q-1.7 16.5 -2.6 16.2Q-3.4 15.9 -4.2 16.2Q-4.9 16.5 -5.2 17.4Q-5.4 18.3 -3.8 19.2Q-2.2 20.2 -1.1 19.8Q0.1 19.5 -0.8 18.0ZM-2.0 38.0Q-0.9 38.4 0.4 37.5Q1.7 36.5 1.2 35.9Q0.6 35.4 -0.8 35.6Q-2.3 35.7 -2.7 36.7Q-3.2 37.6 -2.0 38.0ZM-4.3 10.6Q-4.8 11.0 -3.9 12.1Q-3.1 13.2 -1.5 12.6Q0.0 11.9 -0.3 11.3Q-0.7 10.7 -2.3 10.5Q-3.8 10.2 -4.3 10.6ZM-2.2 7.6Q-3.2 7.9 -3.3 8.7Q-3.5 9.4 -2.0 9.7Q-0.6 9.9 0.3 9.1Q1.2 8.4 0.0 7.8Q-1.1 7.2 -2.2 7.6ZM0.1 52.2Q-0.3 51.4 -2.0 51.4Q-3.8 51.5 -3.9 51.7Q-4.0 51.9 -2.9 53.0Q-1.8 54.2 -0.7 53.6Q0.4 52.9 0.1 52.2ZM54.9 -3.0Q54.3 -3.7 51.7 -3.1Q49.0 -2.5 49.7 -1.0Q50.3 0.5 51.0 0.5Q51.6 0.6 53.5 -0.5Q55.3 -1.5 55.4 -1.9Q55.5 -2.3 54.9 -3.0ZM37.9 -0.3Q38.4 -1.7 35.9 -2.1Q33.4 -2.6 32.7 -2.2Q32.1 -1.7 32.6 -0.5Q33.1 0.8 34.2 1.1Q35.4 1.4 36.4 1.3Q37.4 1.1 37.9 -0.3ZM60.8 -0.8Q60.2 -1.5 58.2 -1.7Q56.3 -1.9 56.2 -1.6Q56.1 -1.3 56.9 -0.3Q57.7 0.7 58.7 0.8Q59.8 1.0 60.6 0.4Q61.5 -0.1 60.8 -0.8ZM11.1 -1.9Q10.6 -0.6 10.9 -0.4Q11.1 -0.1 13.0 0.2Q14.9 0.5 15.3 0.4Q15.6 0.2 15.9 -0.5Q16.2 -1.3 13.9 -2.3Q11.5 -3.2 11.1 -1.9ZM44.7 0.4Q45.5 1.8 47.0 1.7Q48.5 1.5 49.0 1.1Q49.5 0.8 48.8 -0.9Q48.1 -2.5 47.6 -2.7Q47.0 -2.9 45.5 -2.0Q43.9 -1.1 44.7 0.4ZM63.1 -0.3Q64.0 -0.2 65.1 -0.8Q66.3 -1.5 66.0 -2.3Q65.7 -3.1 64.1 -3.3Q62.4 -3.6 61.7 -2.7Q61.0 -1.9 61.7 -1.1Q62.3 -0.4 63.1 -0.3ZM2.2 0.2Q2.6 -0.7 1.7 -1.5Q0.8 -2.3 -0.7 -1.4Q-2.2 -0.6 -1.8 0.2Q-1.3 0.9 0.3 1.0Q1.9 1.2 2.2 0.2ZM6.2 50.7Q7.1 50.6 7.5 49.8Q7.9 49.0 6.5 48.1Q5.1 47.2 4.4 47.4Q3.7 47.5 3.1 48.3Q2.5 49.1 3.9 49.9Q5.2 50.8 6.2 50.7ZM54.9 60.0Q54.3 59.3 51.7 59.9Q49.0 60.5 49.7 62.0Q50.3 63.5 51.0 63.5Q51.6 63.6 53.5 62.5Q55.3 61.5 55.4 61.1Q55.5 60.7 54.9 60.0ZM36.6 2.2Q35.6 2.2 34.7 3.9Q33.8 5.5 34.0 5.7Q34.1 6.0 36.1 6.2Q38.1 6.5 37.9 4.3Q37.6 2.1 36.6 2.2ZM36.1 40.9Q33.8 40.4 32.9 41.5Q32.0 42.5 33.7 43.7Q35.3 44.9 36.5 45.0Q37.7 45.1 38.6 44.1Q39.5 43.1 38.9 42.2Q38.3 41.3 36.1 40.9ZM26.8 2.8Q25.6 3.2 25.5 4.0Q25.3 4.7 26.2 5.4Q27.1 6.2 28.3 5.3Q29.6 4.5 29.3 3.6Q29.1 2.7 28.5 2.5Q27.9 2.3 26.8 2.8ZM67.4 12.6Q66.4 11.3 65.5 11.3Q64.6 11.3 63.1 12.6Q61.7 13.8 61.7 14.0Q61.8 14.2 64.3 15.0Q66.7 15.8 67.5 15.5Q68.2 15.2 68.3 14.5Q68.4 13.9 67.4 12.6ZM69.4 0.5Q68.9 -0.3 67.9 -0.6Q66.9 -0.9 65.7 -0.2Q64.6 0.4 64.9 1.5Q65.2 2.6 66.0 3.0Q66.8 3.4 67.9 3.1Q69.1 2.7 69.5 2.0Q69.9 1.3 69.4 0.5ZM67.1 7.3Q66.3 6.8 64.7 7.1Q63.1 7.5 62.8 7.9Q62.6 8.3 63.6 9.4Q64.6 10.5 65.5 10.5Q66.5 10.5 67.1 10.0Q67.7 9.6 67.8 8.7Q67.9 7.8 67.1 7.3ZM53.7 43.9Q54.4 43.9 55.2 43.4Q56.0 43.0 55.9 41.5Q55.8 40.0 54.2 40.5Q52.5 41.0 52.2 41.7Q52.0 42.3 52.5 43.1Q52.9 43.9 53.7 43.9ZM13.4 32.8Q14.1 33.2 15.9 32.0Q17.7 30.8 17.2 30.2Q16.7 29.7 15.2 29.5Q13.7 29.3 12.9 29.8Q12.0 30.4 12.3 31.4Q12.6 32.5 13.4 32.8ZM31.6 23.7Q32.1 25.2 33.8 25.9Q35.5 26.7 36.4 26.3Q37.3 25.9 37.5 25.6Q37.7 25.2 37.5 23.9Q37.4 22.6 35.7 21.7Q34.1 20.7 33.3 20.9Q32.5 21.0 31.8 21.6Q31.0 22.3 31.6 23.7ZM55.0 18.4Q53.1 19.2 53.0 20.2Q53.0 21.3 54.2 21.4Q55.3 21.6 56.3 21.0Q57.3 20.5 57.6 19.1Q57.8 17.7 57.4 17.6Q57.0 17.5 55.0 18.4ZM18.4 27.8Q17.5 29.3 18.3 29.9Q19.1 30.6 20.1 30.2Q21.2 29.9 21.6 28.7Q21.9 27.6 20.6 27.0Q19.2 26.4 18.4 27.8ZM49.2 25.4Q50.1 25.1 50.3 23.9Q50.6 22.7 48.2 21.9Q45.9 21.0 45.5 21.1Q45.1 21.3 44.9 22.3Q44.6 23.4 45.7 24.5Q46.9 25.5 47.6 25.6Q48.3 25.7 49.2 25.4ZM14.7 48.0Q15.7 47.2 14.6 45.8Q13.6 44.5 12.4 45.2Q11.1 45.9 11.1 46.9Q11.1 48.0 12.4 48.4Q13.7 48.8 14.7 48.0ZM28.8 1.7Q29.4 1.9 30.8 1.4Q32.2 0.9 31.8 -0.3Q31.3 -1.5 30.9 -1.5Q30.5 -1.5 29.1 -0.7Q27.7 0.1 27.9 0.8Q28.2 1.5 28.8 1.7ZM53.3 32.3Q52.2 31.1 50.5 31.2Q48.8 31.2 48.3 31.4Q47.9 31.7 48.0 33.0Q48.1 34.4 49.2 34.9Q50.4 35.5 51.2 35.5Q52.0 35.4 53.2 34.5Q54.5 33.5 53.3 32.3ZM67.6 42.7Q67.2 43.5 68.3 44.1Q69.4 44.8 70.0 44.4Q70.6 44.1 70.3 42.9Q70.0 41.8 69.0 41.8Q68.0 41.9 67.6 42.7ZM22.0 38.4Q24.7 39.1 25.1 38.6Q25.4 38.1 24.7 36.7Q24.1 35.2 22.7 35.2Q21.3 35.2 20.6 35.6Q19.9 35.9 19.6 36.8Q19.3 37.7 22.0 38.4ZM68.9 57.3Q68.0 57.5 67.2 58.6Q66.5 59.6 66.8 60.5Q67.1 61.3 68.1 61.6Q69.1 61.8 70.8 60.9Q72.5 59.9 71.9 58.8Q71.4 57.6 70.7 57.3Q69.9 57.0 68.9 57.3ZM35.9 52.2Q35.5 51.0 34.1 50.8Q32.6 50.6 31.7 51.3Q30.8 51.9 31.4 53.0Q32.0 54.0 33.4 54.3Q34.8 54.5 35.5 53.9Q36.3 53.3 35.9 52.2ZM36.1 7.1Q34.1 6.8 33.1 7.9Q32.1 9.1 32.8 9.7Q33.4 10.2 35.2 10.2Q37.1 10.3 37.9 9.4Q38.7 8.6 38.4 8.0Q38.1 7.4 36.1 7.1ZM20.9 18.7Q21.1 19.7 22.6 20.0Q24.1 20.4 24.8 19.9Q25.6 19.5 25.7 18.8Q25.8 18.1 25.5 17.9Q25.2 17.6 22.9 17.7Q20.7 17.8 20.9 18.7ZM27.3 28.3Q27.6 29.4 29.0 29.9Q30.4 30.4 32.5 29.6Q34.6 28.8 34.8 28.1Q35.0 27.4 33.4 26.7Q31.8 26.0 29.4 26.6Q26.9 27.3 27.3 28.3ZM56.7 53.7Q55.6 53.7 54.4 54.8Q53.2 55.8 53.9 57.1Q54.7 58.5 56.7 57.6Q58.7 56.6 58.3 55.1Q57.8 53.6 56.7 53.7ZM60.4 16.1Q59.3 17.1 61.4 18.2Q63.6 19.3 64.6 18.7Q65.7 18.2 66.0 17.3Q66.2 16.5 63.9 15.8Q61.5 15.0 60.4 16.1ZM56.2 45.9Q57.3 47.4 57.6 47.4Q57.8 47.3 58.6 46.1Q59.3 44.8 59.0 44.5Q58.8 44.2 57.7 43.9Q56.5 43.7 55.8 44.1Q55.1 44.5 56.2 45.9ZM44.4 4.0Q44.4 4.4 45.4 5.5Q46.4 6.6 46.9 6.6Q47.5 6.6 48.5 5.7Q49.5 4.7 49.0 3.6Q48.4 2.4 47.0 2.5Q45.5 2.7 44.9 3.1Q44.4 3.6 44.4 4.0ZM56.7 28.2Q58.3 28.8 60.1 27.8Q61.9 26.9 61.1 26.0Q60.2 25.2 58.8 25.2Q57.4 25.2 56.2 26.2Q55.0 27.1 55.1 27.3Q55.1 27.6 56.7 28.2ZM-3.4 25.4Q-3.5 25.6 -2.4 27.0Q-1.3 28.4 0.2 28.3Q1.7 28.3 2.6 27.5Q3.5 26.7 2.8 25.7Q2.2 24.7 -0.5 24.9Q-3.2 25.1 -3.4 25.4ZM6.2 33.2Q5.2 32.2 4.7 32.2Q4.2 32.1 2.8 32.8Q1.4 33.6 1.3 34.2Q1.2 34.8 1.9 35.5Q2.6 36.2 3.6 36.4Q4.6 36.6 5.7 36.0Q6.8 35.4 7.0 34.8Q7.1 34.3 6.2 33.2ZM58.2 60.5Q60.3 60.7 61.0 59.8Q61.7 59.0 61.1 58.3Q60.6 57.6 59.9 57.5Q59.3 57.3 57.5 58.3Q55.7 59.3 55.9 59.8Q56.2 60.2 58.2 60.5ZM18.1 40.7Q17.5 39.7 15.9 40.5Q14.2 41.3 14.0 42.1Q13.8 42.9 15.9 42.8Q18.0 42.7 18.4 42.2Q18.8 41.7 18.1 40.7ZM14.1 35.5Q13.6 36.6 15.7 37.3Q17.8 38.1 18.1 37.9Q18.4 37.7 18.7 36.8Q19.0 35.9 16.8 35.2Q14.5 34.4 14.1 35.5ZM22.0 9.9Q21.6 9.1 20.8 8.7Q20.1 8.3 19.0 8.4Q17.9 8.6 17.0 9.9Q16.1 11.3 16.2 11.6Q16.2 11.8 18.1 12.5Q19.9 13.2 20.6 13.0Q21.3 12.7 21.8 11.8Q22.3 10.8 22.0 9.9ZM48.8 53.5Q49.1 54.6 50.8 54.9Q52.5 55.2 53.6 54.3Q54.6 53.4 53.1 52.6Q51.6 51.7 50.1 52.1Q48.6 52.4 48.8 53.5ZM11.6 4.0Q12.2 4.0 12.8 3.7Q13.5 3.5 13.9 2.4Q14.4 1.3 12.7 1.0Q11.0 0.8 10.6 1.4Q10.1 2.1 10.6 3.0Q11.0 3.9 11.6 4.0ZM56.6 4.1Q57.6 4.6 58.8 4.4Q60.1 4.1 59.8 3.0Q59.5 1.8 58.6 1.7Q57.7 1.5 56.7 2.6Q55.7 3.7 56.6 4.1ZM39.5 59.6Q39.3 61.1 41.3 61.2Q43.3 61.3 44.8 60.4Q46.4 59.5 46.0 58.5Q45.6 57.5 43.8 57.1Q42.0 56.6 40.9 57.3Q39.8 58.0 39.5 59.6ZM68.1 30.9Q68.8 30.6 69.4 29.7Q70.0 28.8 68.9 27.5Q67.9 26.2 65.9 26.8Q63.9 27.4 64.4 28.9Q64.8 30.3 66.1 30.7Q67.5 31.1 68.1 30.9ZM61.0 36.0Q60.4 36.2 59.6 37.5Q58.9 38.8 60.5 39.7Q62.2 40.6 63.5 40.0Q64.9 39.4 65.1 38.9Q65.3 38.4 64.2 37.3Q63.2 36.1 62.4 36.0Q61.7 35.8 61.0 36.0ZM4.1 17.6Q4.9 16.3 4.0 15.8Q3.2 15.4 1.2 15.9Q-0.8 16.4 0.1 17.8Q1.0 19.3 2.1 19.1Q3.3 19.0 4.1 17.6ZM6.5 57.4Q6.7 58.6 8.9 58.8Q11.1 59.0 11.6 58.0Q12.0 57.0 9.2 56.5Q6.3 56.1 6.5 57.4ZM28.4 10.1Q27.8 10.8 28.2 12.0Q28.5 13.1 29.8 13.4Q31.2 13.8 31.9 12.3Q32.7 10.7 32.0 10.1Q31.4 9.5 30.2 9.5Q29.0 9.4 28.4 10.1ZM9.0 12.4Q9.2 13.1 10.9 13.7Q12.5 14.3 14.0 13.1Q15.4 12.0 15.3 11.8Q15.3 11.6 13.8 11.1Q12.3 10.7 10.5 11.2Q8.7 11.7 9.0 12.4ZM59.2 5.2Q57.9 5.4 57.6 6.6Q57.4 7.8 58.2 8.1Q58.9 8.5 60.4 8.2Q61.8 8.0 62.0 7.6Q62.3 7.1 61.4 6.0Q60.6 4.9 59.2 5.2ZM48.7 35.6Q47.6 35.1 45.8 35.7Q44.1 36.3 43.6 36.9Q43.1 37.6 44.8 38.6Q46.5 39.6 47.6 39.1Q48.7 38.7 49.3 37.4Q49.8 36.2 48.7 35.6ZM42.5 15.1Q41.8 15.3 41.1 16.4Q40.3 17.4 41.0 18.6Q41.7 19.7 43.2 20.1Q44.7 20.5 45.2 20.4Q45.6 20.2 46.1 19.1Q46.7 17.9 46.1 17.1Q45.6 16.2 44.4 15.6Q43.3 15.0 42.5 15.1ZM15.3 19.6Q15.4 18.0 14.1 17.5Q12.8 17.0 11.8 17.7Q10.9 18.3 10.7 19.1Q10.6 20.0 11.1 20.4Q11.5 20.9 13.3 21.1Q15.1 21.2 15.3 19.6ZM19.7 50.0Q20.1 49.4 19.4 48.5Q18.7 47.6 17.5 47.6Q16.4 47.6 15.3 48.5Q14.2 49.4 14.5 50.2Q14.7 51.0 15.6 51.3Q16.5 51.6 17.9 51.1Q19.4 50.6 19.7 50.0ZM22.8 48.9Q24.7 48.8 25.4 47.5Q26.0 46.2 25.0 45.8Q24.1 45.4 22.4 45.7Q20.7 46.0 20.1 46.6Q19.4 47.2 20.1 48.1Q20.8 49.0 22.8 48.9ZM34.0 57.1Q35.1 56.4 34.8 55.8Q34.6 55.3 33.3 55.1Q32.0 54.9 31.3 55.8Q30.7 56.7 31.8 57.3Q32.9 57.9 34.0 57.1ZM22.2 54.7Q21.1 55.5 21.4 56.3Q21.8 57.1 23.2 57.6Q24.7 58.1 25.4 58.0Q26.1 57.8 26.3 57.6Q26.5 57.3 26.0 56.1Q25.5 54.9 24.5 54.4Q23.4 54.0 22.2 54.7ZM8.1 7.6Q8.4 7.3 8.4 6.4Q8.3 5.6 7.5 5.5Q6.7 5.3 5.7 5.7Q4.6 6.1 4.5 6.8Q4.3 7.6 6.0 7.7Q7.7 7.8 8.1 7.6ZM9.9 19.0Q10.0 18.3 7.8 17.6Q5.6 16.9 4.8 18.0Q4.1 19.2 5.1 19.7Q6.1 20.3 7.9 20.0Q9.7 19.7 9.9 19.0ZM14.4 60.0Q16.7 61.0 17.1 60.8Q17.6 60.6 17.7 60.0Q17.8 59.4 16.5 58.2Q15.3 57.0 14.1 57.1Q12.9 57.2 12.5 58.1Q12.0 59.1 14.4 60.0ZM62.7 35.2Q63.3 35.3 65.0 34.5Q66.6 33.6 66.8 32.7Q67.0 31.8 65.7 31.5Q64.5 31.1 63.5 31.6Q62.4 32.1 62.3 33.6Q62.1 35.1 62.7 35.2ZM0.3 43.9Q1.1 44.0 2.2 43.0Q3.4 42.1 3.4 42.0Q3.3 41.8 1.4 41.3Q-0.4 40.9 -0.8 41.2Q-1.2 41.5 -0.9 42.7Q-0.5 43.9 0.3 43.9ZM48.5 45.6Q46.8 44.9 46.1 45.1Q45.5 45.2 45.1 46.4Q44.7 47.5 45.9 48.0Q47.2 48.5 48.7 47.7Q50.2 46.9 50.2 46.6Q50.2 46.2 48.5 45.6ZM21.9 0.6Q22.1 -0.0 21.6 -0.5Q21.1 -1.0 19.6 -1.4Q18.0 -1.7 17.5 -1.4Q17.1 -1.2 16.8 -0.4Q16.5 0.3 18.1 1.2Q19.7 2.1 20.7 1.7Q21.7 1.2 21.9 0.6ZM67.2 51.0Q67.2 50.4 65.2 49.7Q63.1 48.9 62.8 49.0Q62.4 49.2 62.1 50.6Q61.8 52.0 62.9 52.5Q64.1 52.9 65.7 52.2Q67.2 51.6 67.2 51.0ZM5.0 55.9Q4.6 55.8 2.5 56.6Q0.3 57.5 0.8 58.3Q1.3 59.1 3.5 58.8Q5.8 58.6 5.6 57.3Q5.5 56.1 5.0 55.9ZM15.8 23.3Q15.9 24.6 17.5 25.1Q19.0 25.5 19.6 24.7Q20.2 23.9 19.5 22.9Q18.8 22.0 17.3 22.0Q15.7 22.0 15.8 23.3ZM30.4 15.8Q31.1 14.7 29.7 14.3Q28.2 13.9 27.1 14.3Q26.0 14.7 25.9 15.8Q25.8 17.0 26.1 17.2Q26.4 17.5 28.0 17.2Q29.6 17.0 30.4 15.8ZM14.0 56.2Q15.3 56.2 16.3 55.4Q17.3 54.7 16.7 53.6Q16.2 52.4 15.3 52.1Q14.4 51.8 13.3 52.5Q12.2 53.1 12.5 54.7Q12.8 56.3 14.0 56.2ZM11.5 31.5Q11.2 30.6 9.9 30.2Q8.5 29.9 7.3 30.9Q6.1 31.9 6.9 32.8Q7.7 33.7 9.7 33.1Q11.7 32.5 11.5 31.5ZM4.6 24.1Q3.4 24.6 3.9 25.6Q4.3 26.5 5.8 26.7Q7.3 26.9 8.4 26.0Q9.5 25.1 9.4 24.9Q9.4 24.7 7.6 24.1Q5.8 23.5 4.6 24.1ZM-0.3 6.0Q-0.5 6.6 0.7 7.2Q2.0 7.9 2.7 7.8Q3.4 7.7 3.6 6.8Q3.8 5.9 3.0 5.4Q2.2 4.9 1.1 5.1Q-0.1 5.4 -0.3 6.0ZM41.5 47.0Q43.8 47.3 44.2 46.2Q44.6 45.0 43.5 44.3Q42.4 43.7 41.3 43.6Q40.2 43.6 39.3 44.6Q38.4 45.6 38.7 46.1Q39.1 46.7 41.5 47.0ZM1.8 56.0Q3.9 55.1 3.6 54.5Q3.3 54.0 2.2 53.8Q1.0 53.6 -0.2 54.3Q-1.4 55.0 -1.5 55.6Q-1.6 56.3 -0.9 56.6Q-0.3 56.8 1.8 56.0ZM69.6 55.6Q69.7 54.9 68.6 53.7Q67.4 52.5 66.0 53.0Q64.6 53.6 64.8 54.3Q64.9 55.1 66.3 55.9Q67.8 56.7 68.7 56.5Q69.6 56.3 69.6 55.6ZM6.2 36.7Q5.2 37.2 5.5 38.2Q5.8 39.3 7.1 39.5Q8.4 39.8 9.6 39.1Q10.9 38.5 11.0 38.1Q11.1 37.8 9.1 37.0Q7.2 36.1 6.2 36.7ZM17.5 16.9Q19.2 16.6 19.3 15.3Q19.4 14.0 17.7 13.3Q16.0 12.6 14.5 13.8Q13.0 14.9 13.1 15.6Q13.2 16.3 14.6 16.7Q15.9 17.2 17.5 16.9ZM39.6 14.5Q38.4 13.9 36.2 14.6Q34.0 15.3 35.0 16.4Q36.1 17.5 37.8 17.3Q39.6 17.0 40.3 16.0Q40.9 15.1 39.6 14.5ZM54.9 13.7Q54.5 14.5 55.8 15.6Q57.1 16.7 57.7 16.8Q58.3 16.8 59.6 15.6Q60.9 14.4 59.7 13.5Q58.5 12.7 56.9 12.7Q55.4 12.8 54.9 13.7ZM69.5 38.7Q68.2 38.3 67.2 38.5Q66.1 38.7 65.9 39.1Q65.7 39.6 66.8 40.3Q67.9 41.0 69.0 41.0Q70.2 40.9 70.6 40.6Q71.0 40.3 70.9 39.7Q70.8 39.2 69.5 38.7ZM5.2 43.7Q3.9 42.8 2.9 43.6Q1.8 44.5 2.7 45.6Q3.6 46.6 4.3 46.5Q5.0 46.4 5.7 45.5Q6.5 44.6 5.2 43.7ZM41.3 9.5Q39.3 9.1 38.5 10.0Q37.8 10.8 38.2 11.9Q38.7 13.1 40.2 13.8Q41.6 14.5 42.3 14.3Q43.1 14.2 43.7 13.1Q44.3 12.0 43.8 10.9Q43.2 9.9 41.3 9.5ZM53.0 57.3Q52.3 56.0 50.6 55.7Q48.8 55.4 47.6 56.4Q46.4 57.3 46.9 58.3Q47.3 59.3 47.9 59.5Q48.5 59.7 51.1 59.2Q53.7 58.6 53.0 57.3ZM35.9 31.1Q34.8 29.6 32.8 30.4Q30.8 31.2 30.6 32.4Q30.4 33.6 31.0 34.0Q31.5 34.4 33.8 34.3Q36.1 34.1 36.6 33.3Q37.1 32.5 35.9 31.1ZM58.3 34.4Q60.1 35.4 60.7 35.2Q61.3 35.1 61.4 33.6Q61.6 32.1 60.2 31.6Q58.9 31.2 57.6 32.3Q56.4 33.5 58.3 34.4ZM30.4 34.6Q29.8 34.2 27.4 34.5Q24.9 34.9 25.5 36.3Q26.1 37.7 28.2 37.5Q30.3 37.2 30.6 36.1Q30.9 35.0 30.4 34.6ZM57.3 48.4Q56.6 48.7 57.2 50.7Q57.7 52.7 59.3 52.3Q60.9 52.0 61.3 50.6Q61.6 49.1 59.8 48.6Q58.1 48.1 57.3 48.4ZM27.9 21.1Q26.0 20.2 25.3 20.7Q24.6 21.1 24.8 22.1Q25.0 23.2 27.4 22.6Q29.8 22.0 27.9 21.1ZM15.6 1.1Q15.3 1.3 14.8 2.4Q14.4 3.5 15.5 3.9Q16.6 4.3 17.9 3.7Q19.2 3.0 17.6 2.0Q15.9 1.0 15.6 1.1ZM45.2 52.5Q42.7 52.7 42.2 53.6Q41.8 54.4 42.0 55.1Q42.2 55.8 44.0 56.2Q45.8 56.7 47.0 55.8Q48.3 54.8 48.0 53.6Q47.7 52.4 45.2 52.5ZM28.1 50.4Q30.3 51.2 31.2 50.6Q32.0 50.0 31.8 49.3Q31.6 48.7 29.3 47.5Q26.9 46.4 26.2 47.8Q25.5 49.2 25.7 49.5Q25.8 49.7 28.1 50.4ZM24.3 32.9Q24.2 31.5 22.9 31.1Q21.5 30.7 20.6 31.0Q19.8 31.2 20.6 32.8Q21.4 34.3 22.9 34.3Q24.3 34.3 24.3 32.9ZM54.0 12.0Q53.5 11.4 52.1 11.2Q50.7 11.0 50.3 11.3Q49.9 11.7 50.3 12.8Q50.8 13.9 51.5 14.2Q52.1 14.4 52.9 14.3Q53.7 14.2 54.1 13.4Q54.6 12.5 54.0 12.0ZM38.0 46.5Q37.6 45.9 36.5 45.9Q35.3 45.8 33.9 47.1Q32.4 48.5 32.6 49.2Q32.8 49.8 34.3 50.0Q35.8 50.2 36.6 49.9Q37.4 49.5 37.9 48.3Q38.4 47.1 38.0 46.5ZM9.0 26.6Q7.9 27.5 8.3 28.3Q8.7 29.1 10.1 29.4Q11.5 29.7 12.3 29.2Q13.1 28.6 12.9 27.5Q12.6 26.3 11.4 26.0Q10.1 25.7 9.0 26.6ZM38.7 4.2Q38.9 6.1 41.2 5.2Q43.6 4.3 43.6 4.0Q43.6 3.7 41.1 3.1Q38.5 2.4 38.7 4.2ZM72.5 34.0Q72.6 33.5 70.8 32.5Q69.0 31.5 68.4 31.7Q67.8 31.9 67.6 32.8Q67.4 33.7 68.5 34.3Q69.5 34.9 70.9 34.7Q72.4 34.6 72.5 34.0ZM42.7 29.4Q42.3 28.5 40.0 27.6Q37.6 26.7 36.7 27.1Q35.8 27.5 35.6 28.2Q35.4 29.0 36.6 30.5Q37.8 32.0 39.2 32.0Q40.5 31.9 41.8 31.2Q43.1 30.4 42.7 29.4ZM0.5 11.1Q0.9 11.7 1.8 11.9Q2.7 12.1 3.3 11.7Q3.9 11.2 3.5 9.9Q3.1 8.7 2.6 8.7Q2.1 8.7 1.1 9.6Q0.1 10.4 0.5 11.1ZM45.4 31.4Q43.7 31.0 42.5 31.7Q41.3 32.5 42.6 34.0Q44.0 35.4 45.6 34.9Q47.2 34.3 47.1 33.1Q47.0 31.8 45.4 31.4ZM36.8 40.0Q38.5 40.5 40.0 39.2Q41.5 37.9 39.3 37.1Q37.2 36.4 36.1 38.0Q35.0 39.6 36.8 40.0ZM28.3 53.8Q26.4 54.7 26.8 55.8Q27.3 56.9 28.5 56.7Q29.8 56.4 30.5 55.4Q31.3 54.4 30.7 53.6Q30.2 52.8 28.3 53.8ZM5.9 0.6Q6.1 -0.4 4.8 -0.4Q3.4 -0.4 3.0 0.5Q2.7 1.5 4.1 1.6Q5.6 1.7 5.9 0.6ZM12.7 7.7Q12.2 8.1 12.4 9.0Q12.6 9.9 14.0 10.3Q15.4 10.7 16.3 9.5Q17.1 8.2 15.2 7.8Q13.3 7.3 12.7 7.7ZM6.8 14.4Q8.4 13.2 8.2 12.6Q7.9 12.0 6.2 11.9Q4.6 11.8 3.9 12.3Q3.2 12.8 3.4 13.7Q3.6 14.6 4.4 15.1Q5.2 15.5 6.8 14.4ZM71.4 20.6Q70.0 21.0 69.3 22.4Q68.5 23.7 68.6 24.0Q68.8 24.3 71.2 24.1Q73.7 23.8 73.2 22.0Q72.7 20.1 71.4 20.6ZM33.3 20.0Q34.0 19.9 34.7 19.0Q35.3 18.0 34.2 16.7Q33.0 15.5 32.5 15.4Q32.0 15.3 31.2 16.3Q30.3 17.4 31.4 18.8Q32.5 20.1 33.3 20.0ZM64.2 44.7Q63.9 45.2 64.1 45.7Q64.3 46.3 66.5 46.1Q68.7 45.9 68.8 45.7Q68.8 45.5 67.7 44.8Q66.5 44.0 65.5 44.2Q64.5 44.3 64.2 44.7ZM4.5 20.4Q3.5 19.8 2.6 20.0Q1.8 20.1 2.2 22.0Q2.6 23.9 4.0 23.4Q5.4 22.8 5.5 21.9Q5.6 21.0 4.5 20.4ZM21.2 26.3Q22.5 26.9 24.0 26.7Q25.4 26.5 24.9 25.1Q24.3 23.7 22.6 24.0Q20.9 24.3 20.4 25.0Q19.9 25.7 21.2 26.3ZM55.6 25.6Q56.7 24.7 55.9 23.6Q55.2 22.4 53.9 22.2Q52.7 22.1 52.1 22.4Q51.4 22.7 51.2 23.9Q50.9 25.1 52.7 25.8Q54.4 26.5 55.6 25.6ZM51.4 41.4Q51.7 40.8 50.4 40.2Q49.0 39.5 48.1 39.8Q47.1 40.2 47.7 41.1Q48.2 42.0 49.7 41.9Q51.2 41.9 51.4 41.4ZM32.7 60.8Q32.1 61.3 32.6 62.5Q33.1 63.8 34.2 64.1Q35.4 64.4 36.4 64.3Q37.4 64.1 37.9 62.7Q38.4 61.3 35.9 60.9Q33.4 60.4 32.7 60.8ZM65.3 26.0Q67.7 25.3 67.9 25.0Q68.0 24.7 67.9 24.3Q67.7 24.0 65.5 23.1Q63.2 22.1 62.6 22.4Q62.0 22.7 61.4 23.7Q60.9 24.7 61.9 25.6Q62.8 26.6 65.3 26.0ZM8.7 59.6Q6.8 59.5 6.6 60.7Q6.5 61.8 8.2 61.9Q9.9 62.0 10.2 60.9Q10.6 59.8 8.7 59.6ZM1.7 40.5Q3.6 40.9 4.3 40.2Q5.0 39.5 4.7 38.4Q4.4 37.4 3.4 37.2Q2.5 37.0 1.0 38.0Q-0.4 39.1 -0.3 39.6Q-0.2 40.1 1.7 40.5ZM32.7 59.2Q32.6 58.7 31.3 58.0Q30.0 57.3 28.5 57.7Q26.9 58.1 28.7 59.4Q30.5 60.6 31.0 60.6Q31.5 60.7 32.1 60.2Q32.8 59.8 32.7 59.2ZM54.5 9.5Q55.4 8.5 54.3 8.1Q53.2 7.7 51.9 8.3Q50.6 8.8 50.8 9.5Q50.9 10.2 52.2 10.4Q53.5 10.6 54.5 9.5ZM12.3 40.2Q11.2 39.3 10.1 39.8Q9.0 40.4 9.4 41.1Q9.7 41.8 11.4 42.1Q13.1 42.5 13.2 41.8Q13.4 41.1 12.3 40.2ZM49.8 3.2Q50.3 4.4 51.5 4.5Q52.7 4.6 53.5 4.2Q54.3 3.7 53.0 2.6Q51.6 1.4 50.9 1.4Q50.2 1.3 49.7 1.7Q49.2 2.1 49.8 3.2ZM45.2 8.5Q44.0 9.6 44.5 10.6Q45.0 11.5 47.1 11.3Q49.2 11.1 49.7 10.8Q50.1 10.4 49.9 9.6Q49.7 8.8 48.6 8.1Q47.5 7.4 47.0 7.4Q46.4 7.4 45.2 8.5ZM25.7 45.1Q26.8 45.5 28.5 44.1Q30.1 42.8 27.6 41.6Q25.0 40.4 24.4 41.0Q23.8 41.7 24.2 43.2Q24.5 44.7 25.7 45.1ZM59.4 46.3Q58.8 47.4 60.4 47.9Q62.1 48.4 62.4 48.3Q62.8 48.1 63.2 47.4Q63.6 46.7 63.3 46.1Q63.1 45.5 61.6 45.4Q60.0 45.2 59.4 46.3ZM7.3 53.9Q8.7 52.6 8.0 52.0Q7.2 51.4 6.3 51.5Q5.4 51.6 4.7 52.6Q4.1 53.6 4.4 54.3Q4.8 55.0 5.4 55.1Q6.0 55.3 7.3 53.9ZM44.0 22.2Q44.3 21.3 42.9 20.9Q41.5 20.6 39.8 21.5Q38.2 22.5 38.3 23.6Q38.5 24.7 41.2 24.0Q43.8 23.2 44.0 22.2ZM25.6 6.1Q24.7 5.3 23.2 5.5Q21.7 5.7 21.2 6.7Q20.7 7.7 21.3 8.0Q21.9 8.3 24.3 7.6Q26.6 6.8 25.6 6.1ZM51.9 45.4Q51.0 46.1 51.0 46.5Q51.1 46.9 52.2 47.6Q53.4 48.3 54.9 48.0Q56.5 47.8 55.4 46.3Q54.3 44.8 53.6 44.7Q52.8 44.7 51.9 45.4ZM36.0 60.0Q38.3 60.4 38.6 59.2Q38.9 58.1 37.3 57.5Q35.7 57.0 34.6 57.8Q33.5 58.6 33.5 59.1Q33.6 59.6 36.0 60.0ZM12.4 5.8Q12.0 4.9 11.4 4.8Q10.8 4.7 10.0 5.1Q9.1 5.5 9.2 6.3Q9.3 7.1 10.4 7.3Q11.6 7.5 12.1 7.1Q12.7 6.7 12.4 5.8ZM71.7 48.3Q69.7 47.8 68.9 49.0Q68.1 50.2 68.2 50.4Q68.3 50.6 70.0 50.6Q71.8 50.6 72.7 49.7Q73.6 48.8 71.7 48.3ZM53.2 29.0Q54.3 27.8 54.2 27.6Q54.1 27.3 52.3 26.6Q50.5 25.8 49.6 26.1Q48.8 26.4 48.9 28.4Q49.0 30.3 50.6 30.3Q52.1 30.3 53.2 29.0ZM30.2 3.5Q30.4 4.4 31.8 4.7Q33.1 5.0 33.9 3.6Q34.7 2.1 33.7 1.8Q32.8 1.6 31.3 2.1Q29.9 2.6 30.2 3.5ZM48.8 17.4Q50.3 17.4 50.9 16.2Q51.5 15.1 51.0 14.9Q50.5 14.7 48.5 15.4Q46.5 16.1 47.0 16.8Q47.4 17.5 48.8 17.4ZM54.2 34.9Q52.8 35.8 54.5 37.5Q56.2 39.1 57.1 38.9Q58.0 38.6 58.8 37.3Q59.5 36.0 57.5 35.0Q55.5 34.0 54.2 34.9ZM8.1 16.8Q10.4 17.6 11.4 17.0Q12.3 16.4 12.3 15.7Q12.2 15.1 10.6 14.5Q9.0 13.9 7.4 15.0Q5.9 16.1 8.1 16.8ZM-1.8 30.1Q-2.3 30.9 -0.6 31.8Q1.0 32.8 2.3 32.2Q3.5 31.5 2.6 30.3Q1.7 29.1 0.2 29.2Q-1.2 29.2 -1.8 30.1ZM20.2 4.6Q19.5 3.8 18.3 4.4Q17.1 5.0 17.3 6.3Q17.6 7.5 18.7 7.5Q19.9 7.5 20.4 6.4Q20.9 5.4 20.2 4.6ZM48.0 50.4Q48.3 51.6 49.9 51.2Q51.4 50.9 52.1 49.9Q52.7 48.9 51.7 48.3Q50.6 47.7 49.2 48.4Q47.7 49.2 48.0 50.4ZM37.1 50.6Q36.4 50.9 36.7 52.0Q37.1 53.1 39.1 53.5Q41.1 53.9 41.5 53.1Q42.0 52.3 41.8 52.0Q41.6 51.7 39.7 51.0Q37.7 50.3 37.1 50.6ZM35.1 37.7Q36.5 35.8 36.3 35.4Q36.1 35.0 33.9 35.1Q31.7 35.3 31.4 36.3Q31.1 37.4 32.4 38.5Q33.7 39.6 35.1 37.7ZM13.2 21.9Q11.6 21.8 10.9 23.1Q10.1 24.4 10.2 24.6Q10.3 24.9 11.6 25.2Q12.9 25.5 14.0 25.1Q15.0 24.7 15.0 23.4Q14.9 22.0 13.2 21.9ZM71.2 18.0Q70.3 16.5 69.4 16.2Q68.6 15.9 67.8 16.2Q67.1 16.5 66.8 17.4Q66.6 18.3 68.2 19.2Q69.8 20.2 70.9 19.8Q72.1 19.5 71.2 18.0ZM7.8 42.8Q8.9 42.0 8.5 41.3Q8.2 40.6 6.9 40.3Q5.6 40.1 4.9 40.8Q4.2 41.6 4.2 41.8Q4.2 42.0 5.5 42.8Q6.8 43.5 7.8 42.8ZM73.2 35.9Q72.6 35.4 71.2 35.6Q69.7 35.7 69.3 36.7Q68.8 37.6 70.0 38.0Q71.1 38.4 72.4 37.5Q73.7 36.5 73.2 35.9ZM56.2 61.4Q56.1 61.7 56.9 62.7Q57.7 63.7 58.7 63.8Q59.8 64.0 60.6 63.4Q61.5 62.9 60.8 62.2Q60.2 61.5 58.2 61.3Q56.3 61.1 56.2 61.4ZM26.2 60.4Q26.3 62.1 26.7 62.3Q27.2 62.5 28.4 61.7Q29.6 61.0 27.8 59.9Q26.0 58.8 26.2 60.4ZM39.8 36.4Q42.3 37.3 42.8 36.6Q43.3 36.0 41.9 34.4Q40.4 32.8 39.2 32.8Q37.9 32.9 37.3 33.7Q36.8 34.6 37.1 35.0Q37.3 35.5 39.8 36.4ZM11.1 61.1Q10.6 62.4 10.9 62.6Q11.1 62.9 13.0 63.2Q14.9 63.5 15.3 63.4Q15.6 63.2 15.9 62.5Q16.2 61.7 13.9 60.7Q11.5 59.8 11.1 61.1ZM41.1 2.2Q43.9 2.9 44.3 2.5Q44.7 2.2 43.9 0.7Q43.1 -0.9 41.2 -0.9Q39.3 -1.0 38.8 0.2Q38.2 1.5 41.1 2.2ZM38.7 48.6Q38.3 49.6 40.0 50.2Q41.7 50.9 42.5 49.5Q43.3 48.1 41.2 47.8Q39.1 47.6 38.7 48.6ZM22.6 16.9Q24.9 16.8 25.0 15.7Q25.1 14.7 23.4 14.1Q21.6 13.5 20.9 13.8Q20.3 14.0 20.3 15.5Q20.2 17.0 22.6 16.9ZM10.1 33.9Q7.9 34.5 7.8 35.0Q7.7 35.4 9.6 36.2Q11.6 37.1 12.2 36.8Q12.8 36.5 13.2 35.2Q13.7 33.9 13.0 33.6Q12.2 33.2 10.1 33.9ZM60.9 42.7Q59.6 43.8 59.8 44.1Q60.0 44.4 61.6 44.5Q63.2 44.7 63.4 44.3Q63.7 43.9 62.9 42.7Q62.1 41.5 60.9 42.7ZM69.7 10.5Q68.2 10.2 67.7 10.6Q67.2 11.0 68.1 12.1Q68.9 13.2 70.5 12.6Q72.0 11.9 71.7 11.3Q71.3 10.7 69.7 10.5ZM57.4 8.9Q56.4 8.6 55.3 9.8Q54.3 11.0 54.8 11.5Q55.3 12.0 56.7 11.9Q58.2 11.8 58.3 10.5Q58.4 9.2 57.4 8.9ZM10.4 10.2Q11.8 9.9 11.6 9.1Q11.3 8.3 10.2 8.1Q9.0 7.9 8.7 8.2Q8.3 8.4 8.7 9.5Q9.0 10.6 10.4 10.2ZM-1.2 3.8Q-0.3 4.5 0.8 4.3Q2.0 4.1 2.2 3.2Q2.4 2.3 0.5 2.0Q-1.4 1.8 -1.7 2.4Q-2.1 3.0 -1.2 3.8ZM47.0 43.3Q47.5 42.4 46.9 41.4Q46.3 40.4 46.0 40.4Q45.7 40.3 44.4 41.7Q43.2 43.1 44.2 43.8Q45.2 44.4 45.9 44.2Q46.5 44.1 47.0 43.3ZM17.4 21.1Q18.9 21.1 19.6 20.5Q20.3 19.9 20.0 18.8Q19.8 17.7 18.0 17.8Q16.3 18.0 16.1 19.6Q15.9 21.1 17.4 21.1ZM41.4 6.0Q38.8 7.0 39.1 7.7Q39.5 8.3 41.4 8.7Q43.4 9.0 44.5 8.0Q45.6 7.0 44.8 6.0Q43.9 5.1 41.4 6.0ZM51.3 18.7Q50.4 18.2 48.9 18.3Q47.5 18.3 47.0 19.3Q46.5 20.3 48.8 21.1Q51.0 22.0 51.6 21.7Q52.2 21.4 52.2 20.3Q52.2 19.2 51.3 18.7ZM12.8 51.8Q13.9 51.2 13.6 50.4Q13.4 49.6 12.0 49.2Q10.7 48.7 9.7 49.0Q8.8 49.2 8.4 50.1Q7.9 50.9 8.7 51.5Q9.5 52.2 10.6 52.3Q11.7 52.4 12.8 51.8ZM-1.5 45.1Q-2.3 45.6 -2.4 45.9Q-2.5 46.3 -2.3 46.6Q-2.2 47.0 -0.1 47.5Q1.9 48.0 2.4 47.5Q2.9 47.1 1.9 45.9Q1.0 44.8 0.1 44.8Q-0.8 44.7 -1.5 45.1ZM48.1 28.5Q48.0 26.5 47.4 26.5Q46.7 26.4 45.0 27.4Q43.2 28.3 43.6 29.3Q43.9 30.2 45.6 30.6Q47.4 31.0 47.8 30.8Q48.2 30.5 48.1 28.5ZM20.1 58.7Q18.6 59.6 18.5 60.1Q18.4 60.5 19.8 60.8Q21.2 61.1 22.5 59.9Q23.8 58.7 22.7 58.3Q21.5 57.9 20.1 58.7ZM60.6 9.1Q59.3 9.3 59.2 10.6Q59.0 12.0 60.1 12.6Q61.2 13.2 62.5 12.0Q63.8 10.9 62.9 9.9Q61.9 8.9 60.6 9.1ZM56.8 6.5Q57.0 5.3 56.0 4.8Q55.1 4.3 54.2 4.8Q53.3 5.3 53.4 6.1Q53.5 7.0 55.0 7.3Q56.5 7.7 56.8 6.5ZM36.3 21.0Q37.7 21.8 39.3 20.9Q40.8 20.0 40.2 18.9Q39.6 17.9 37.9 18.1Q36.1 18.4 35.5 19.3Q34.8 20.2 36.3 21.0ZM15.4 45.4Q16.5 46.8 17.6 46.8Q18.7 46.8 19.3 46.2Q19.9 45.6 19.0 44.5Q18.1 43.5 16.2 43.7Q14.3 44.0 15.4 45.4ZM19.2 42.6Q18.8 43.1 19.7 44.1Q20.6 45.1 22.1 44.9Q23.6 44.6 23.3 43.3Q23.0 42.1 21.3 42.1Q19.5 42.2 19.2 42.6ZM24.2 51.6Q25.1 50.1 24.9 49.9Q24.8 49.7 22.8 49.8Q20.8 49.8 20.5 50.3Q20.2 50.8 21.7 52.0Q23.2 53.1 24.2 51.6ZM28.2 7.7Q29.0 8.6 30.2 8.6Q31.3 8.7 32.3 7.5Q33.3 6.3 31.8 5.8Q30.2 5.2 28.8 6.0Q27.5 6.9 28.2 7.7ZM63.9 54.4Q63.7 53.6 62.5 53.2Q61.3 52.8 60.0 53.1Q58.7 53.5 59.1 55.0Q59.6 56.5 60.2 56.6Q60.8 56.8 62.4 56.0Q64.1 55.2 63.9 54.4ZM53.6 37.8Q52.0 36.2 51.3 36.3Q50.6 36.4 50.1 37.6Q49.6 38.8 50.9 39.5Q52.3 40.2 53.7 39.8Q55.2 39.3 53.6 37.8ZM28.2 40.9Q31.0 42.2 32.0 41.2Q32.9 40.1 31.7 39.1Q30.5 38.0 28.3 38.3Q26.1 38.6 25.8 39.1Q25.4 39.6 28.2 40.9ZM22.6 12.0Q22.2 12.8 23.9 13.4Q25.6 13.9 26.6 13.5Q27.6 13.2 27.3 12.2Q27.0 11.2 25.1 11.2Q23.1 11.2 22.6 12.0ZM27.1 1.0Q26.8 0.3 26.3 0.0Q25.8 -0.2 24.3 0.0Q22.9 0.2 22.7 0.7Q22.6 1.3 23.9 1.9Q25.3 2.5 26.3 2.1Q27.3 1.6 27.1 1.0ZM4.4 2.5Q3.2 2.6 3.0 3.4Q2.8 4.3 3.5 4.8Q4.3 5.3 5.2 4.9Q6.2 4.6 5.9 3.6Q5.6 2.5 4.4 2.5ZM3.4 30.0Q4.4 31.2 4.8 31.3Q5.3 31.4 6.6 30.3Q7.9 29.3 7.5 28.5Q7.1 27.7 5.7 27.5Q4.2 27.3 3.3 28.0Q2.5 28.8 3.4 30.0ZM58.4 19.1Q58.2 20.5 59.9 21.2Q61.7 21.9 62.3 21.7Q62.9 21.4 63.0 20.7Q63.1 20.0 60.9 18.9Q58.6 17.7 58.4 19.1ZM67.6 19.9Q66.0 18.9 65.0 19.5Q64.0 20.1 63.8 20.7Q63.7 21.4 65.8 22.3Q67.9 23.1 68.5 22.0Q69.1 20.8 67.6 19.9ZM40.8 39.6Q39.1 41.0 39.7 41.9Q40.2 42.8 41.3 42.8Q42.3 42.8 43.6 41.4Q44.9 40.0 43.7 39.1Q42.4 38.2 40.8 39.6ZM24.4 27.5Q22.8 27.8 22.4 28.8Q22.1 29.9 23.3 30.3Q24.6 30.7 25.7 30.1Q26.8 29.5 26.4 28.4Q25.9 27.3 24.4 27.5ZM70.8 5.8Q71.1 5.1 70.1 4.4Q69.2 3.6 68.2 3.9Q67.1 4.1 67.0 5.1Q66.8 6.1 67.6 6.6Q68.4 7.1 69.5 6.8Q70.6 6.4 70.8 5.8ZM24.6 3.8Q24.8 3.2 23.4 2.6Q22.1 2.0 21.1 2.4Q20.1 2.9 20.9 3.9Q21.6 4.9 23.0 4.6Q24.5 4.4 24.6 3.8ZM12.5 37.6Q11.9 37.8 11.8 38.2Q11.7 38.6 12.8 39.5Q13.9 40.5 15.6 39.7Q17.3 38.9 15.2 38.1Q13.1 37.3 12.5 37.6ZM44.9 14.9Q45.9 15.5 47.9 14.7Q49.9 14.0 49.5 13.0Q49.1 12.0 47.1 12.2Q45.1 12.4 44.5 13.4Q43.9 14.4 44.9 14.9ZM37.6 56.7Q39.3 57.3 40.4 56.6Q41.4 56.0 41.2 55.4Q41.0 54.8 38.9 54.3Q36.9 53.9 36.2 54.5Q35.4 55.1 35.7 55.6Q35.9 56.2 37.6 56.7ZM43.3 49.8Q42.4 51.4 42.5 51.6Q42.7 51.9 45.0 51.7Q47.4 51.5 47.1 50.4Q46.9 49.3 45.5 48.8Q44.2 48.3 43.3 49.8ZM48.8 62.1Q48.1 60.5 47.6 60.3Q47.0 60.1 45.5 61.0Q43.9 61.9 44.7 63.4Q45.5 64.8 47.0 64.7Q48.5 64.5 49.0 64.1Q49.5 63.8 48.8 62.1ZM8.2 20.8Q6.4 21.1 6.3 21.9Q6.2 22.8 7.8 23.3Q9.5 23.8 10.1 22.6Q10.8 21.4 10.4 21.0Q10.0 20.6 8.2 20.8ZM65.6 3.7Q64.9 3.4 63.2 4.1Q61.5 4.7 62.2 5.7Q63.0 6.6 64.5 6.3Q66.0 6.0 66.2 5.0Q66.3 4.1 65.6 3.7ZM65.8 56.6Q64.5 55.9 63.0 56.6Q61.5 57.4 62.0 58.0Q62.5 58.6 64.1 58.8Q65.8 59.1 66.4 58.2Q67.1 57.3 65.8 56.6ZM31.2 21.0Q31.8 20.5 30.7 19.2Q29.6 17.9 28.1 18.1Q26.7 18.3 26.6 18.9Q26.5 19.5 28.5 20.5Q30.6 21.5 31.2 21.0ZM17.2 34.4Q19.5 35.2 20.1 34.9Q20.6 34.6 19.7 33.0Q18.9 31.4 18.6 31.3Q18.4 31.3 16.7 32.5Q14.9 33.6 17.2 34.4ZM25.0 53.7Q25.8 54.1 27.9 53.0Q29.9 51.9 27.8 51.3Q25.8 50.6 24.9 52.0Q24.1 53.4 25.0 53.7ZM49.2 6.1Q48.3 7.0 49.2 7.5Q50.1 8.1 51.4 7.5Q52.7 7.0 52.6 6.2Q52.5 5.4 51.3 5.4Q50.2 5.3 49.2 6.1ZM72.0 7.8Q70.9 7.2 69.8 7.6Q68.8 7.9 68.7 8.7Q68.5 9.4 70.0 9.7Q71.4 9.9 72.3 9.1Q73.2 8.4 72.0 7.8ZM44.3 26.8Q46.0 25.8 45.0 24.9Q44.0 24.0 41.1 25.0Q38.2 26.0 40.4 26.8Q42.6 27.7 44.3 26.8ZM29.5 44.4Q27.8 45.8 29.8 46.8Q31.9 47.9 33.2 46.6Q34.5 45.4 32.9 44.2Q31.3 43.0 29.5 44.4ZM10.3 47.0Q10.3 46.0 8.7 45.6Q7.1 45.2 6.5 46.0Q5.8 46.7 7.2 47.6Q8.6 48.4 9.4 48.2Q10.3 47.9 10.3 47.0ZM54.7 49.1Q53.5 49.1 52.9 50.1Q52.3 51.1 53.9 52.0Q55.5 52.9 56.1 52.8Q56.8 52.7 56.3 50.8Q55.8 49.0 54.7 49.1ZM-2.9 14.6Q-3.0 15.2 -2.2 15.4Q-1.4 15.7 0.6 15.1Q2.7 14.6 2.6 13.8Q2.4 13.0 1.5 12.7Q0.7 12.5 -1.1 13.3Q-2.8 14.1 -2.9 14.6ZM27.9 23.4Q25.5 23.9 25.9 25.2Q26.3 26.5 28.8 25.9Q31.2 25.2 30.8 24.0Q30.3 22.8 27.9 23.4ZM21.0 52.5Q19.6 51.4 18.3 51.8Q17.1 52.3 17.6 53.4Q18.1 54.5 19.3 54.7Q20.4 54.9 21.4 54.2Q22.4 53.6 21.0 52.5ZM3.6 59.7Q1.4 60.0 1.3 60.0Q1.3 60.1 2.3 60.9Q3.3 61.8 4.5 61.7Q5.6 61.6 5.8 60.5Q5.9 59.4 3.6 59.7ZM2.3 52.9Q3.4 53.1 3.9 52.3Q4.5 51.4 3.3 50.6Q2.1 49.8 1.3 50.5Q0.5 51.1 0.9 51.9Q1.3 52.7 2.3 52.9ZM21.3 41.3Q23.2 41.2 23.7 40.6Q24.3 39.9 21.6 39.2Q18.8 38.5 18.5 38.8Q18.1 39.1 18.8 40.2Q19.5 41.3 21.3 41.3ZM7.8 9.9Q7.5 8.7 5.7 8.5Q3.9 8.4 4.3 9.7Q4.8 11.0 6.4 11.1Q8.0 11.2 7.8 9.9ZM37.4 12.1Q37.0 11.1 35.2 11.1Q33.5 11.1 32.7 12.7Q31.9 14.2 32.6 14.4Q33.2 14.7 35.5 13.9Q37.8 13.1 37.4 12.1ZM12.0 44.4Q13.3 43.7 13.2 43.5Q13.1 43.4 11.3 43.0Q9.5 42.6 8.4 43.4Q7.3 44.2 9.0 44.7Q10.6 45.2 12.0 44.4ZM62.6 3.4Q64.3 2.7 64.0 1.7Q63.7 0.6 63.0 0.6Q62.2 0.5 61.3 1.0Q60.3 1.6 60.6 2.8Q60.9 4.0 62.6 3.4ZM51.7 43.5Q51.3 42.8 49.8 42.8Q48.2 42.8 47.8 43.5Q47.4 44.3 49.0 44.9Q50.5 45.4 51.3 44.8Q52.1 44.2 51.7 43.5ZM16.9 25.8Q15.5 25.4 14.5 25.8Q13.5 26.2 13.7 27.3Q14.0 28.5 15.3 28.7Q16.7 28.9 17.5 27.5Q18.3 26.2 16.9 25.8ZM56.9 31.9Q58.3 30.6 58.1 30.1Q58.0 29.6 56.5 29.0Q54.9 28.4 53.9 29.5Q52.9 30.7 54.2 31.9Q55.5 33.2 56.9 31.9ZM64.0 40.7Q62.9 41.2 63.7 42.3Q64.5 43.4 65.4 43.3Q66.4 43.2 66.8 42.4Q67.2 41.6 66.2 40.9Q65.1 40.2 64.0 40.7ZM15.1 6.8Q16.7 7.2 16.5 6.2Q16.3 5.1 15.0 4.7Q13.8 4.2 13.3 4.5Q12.8 4.7 13.2 5.6Q13.5 6.5 15.1 6.8ZM71.3 53.6Q72.4 52.9 72.1 52.2Q71.7 51.4 70.0 51.4Q68.2 51.5 68.1 51.7Q68.0 51.9 69.1 53.0Q70.2 54.2 71.3 53.6ZM65.0 36.8Q66.0 37.8 67.0 37.7Q68.0 37.5 68.4 36.5Q68.8 35.5 67.9 35.0Q67.0 34.4 65.5 35.1Q64.1 35.9 65.0 36.8ZM61.7 61.9Q62.3 62.6 63.1 62.7Q64.0 62.8 65.1 62.2Q66.3 61.5 66.0 60.7Q65.7 59.9 64.1 59.7Q62.4 59.4 61.7 60.3Q61.0 61.1 61.7 61.9ZM60.6 23.5Q61.1 22.6 59.4 21.9Q57.7 21.2 56.9 21.7Q56.0 22.2 56.8 23.3Q57.5 24.4 58.8 24.4Q60.1 24.3 60.6 23.5ZM23.6 60.3Q21.9 61.6 22.3 62.0Q22.7 62.4 24.1 62.2Q25.4 62.0 25.3 60.5Q25.2 58.9 23.6 60.3ZM20.3 21.0Q19.6 21.6 20.2 22.5Q20.9 23.4 22.4 23.2Q23.9 22.9 23.8 22.1Q23.7 21.2 22.3 20.8Q20.9 20.5 20.3 21.0ZM55.0 16.0Q53.8 15.1 53.1 15.2Q52.4 15.3 51.7 16.4Q51.1 17.6 51.9 18.0Q52.7 18.4 54.4 17.7Q56.1 17.0 55.0 16.0ZM56.8 41.4Q56.9 42.9 57.9 43.1Q58.9 43.3 60.1 42.2Q61.3 41.1 59.8 40.3Q58.2 39.4 57.4 39.7Q56.6 39.9 56.8 41.4ZM6.7 3.5Q7.0 4.5 7.8 4.7Q8.6 4.8 9.4 4.5Q10.2 4.1 9.8 3.3Q9.3 2.5 7.9 2.5Q6.5 2.5 6.7 3.5ZM28.6 30.7Q27.3 30.2 26.2 30.8Q25.1 31.4 25.1 32.7Q25.2 34.0 27.4 33.7Q29.6 33.4 29.8 32.3Q29.9 31.2 28.6 30.7ZM-0.7 61.6Q-2.2 62.4 -1.8 63.2Q-1.3 63.9 0.3 64.0Q1.9 64.2 2.2 63.2Q2.6 62.3 1.7 61.5Q0.8 60.7 -0.7 61.6ZM68.9 47.0Q68.8 46.8 66.5 47.0Q64.3 47.1 64.0 47.7Q63.7 48.2 65.6 48.9Q67.4 49.6 68.2 48.4Q69.1 47.3 68.9 47.0ZM60.6 30.9Q62.0 31.3 63.0 30.9Q64.0 30.4 63.3 28.9Q62.7 27.4 60.7 28.4Q58.8 29.5 59.0 29.9Q59.1 30.4 60.6 30.9ZM6.7 0.8Q6.5 1.7 7.9 1.7Q9.4 1.7 9.8 1.0Q10.3 0.3 10.1 0.1Q10.0 -0.1 8.4 -0.1Q6.9 -0.1 6.7 0.8ZM24.7 8.3Q22.5 9.0 22.8 9.7Q23.1 10.4 25.1 10.3Q27.2 10.3 27.7 9.7Q28.2 9.0 27.6 8.3Q26.9 7.6 24.7 8.3ZM20.6 56.5Q20.2 55.7 19.1 55.5Q17.9 55.3 17.0 56.0Q16.1 56.6 17.2 57.7Q18.3 58.8 19.6 58.0Q20.9 57.3 20.6 56.5ZM54.0 0.2Q52.5 1.1 53.8 2.1Q55.0 3.2 56.0 2.1Q56.9 1.1 56.2 0.2Q55.5 -0.6 54.0 0.2ZM9.5 55.7Q11.9 56.1 11.7 54.7Q11.4 53.3 10.4 53.1Q9.5 53.0 8.3 54.2Q7.1 55.4 9.5 55.7ZM67.9 66.1Q69.1 65.7 69.5 65.0Q69.9 64.3 69.4 63.5Q68.9 62.7 67.9 62.4Q66.9 62.1 65.7 62.8Q64.6 63.4 64.9 64.5Q65.2 65.6 66.0 66.0Q66.8 66.4 67.9 66.1ZM31.8 62.7Q31.3 61.5 30.9 61.5Q30.5 61.5 29.1 62.3Q27.7 63.1 27.9 63.8Q28.2 64.5 28.8 64.7Q29.4 64.9 30.8 64.4Q32.2 63.9 31.8 62.7ZM18.1 64.2Q19.7 65.1 20.7 64.7Q21.7 64.2 21.9 63.6Q22.1 63.0 21.6 62.5Q21.1 62.0 19.6 61.6Q18.0 61.3 17.5 61.6Q17.1 61.8 16.8 62.6Q16.5 63.3 18.1 64.2ZM5.9 63.6Q6.1 62.6 4.8 62.6Q3.4 62.6 3.0 63.5Q2.7 64.5 4.1 64.6Q5.6 64.7 5.9 63.6ZM43.9 63.7Q43.1 62.1 41.2 62.1Q39.3 62.0 38.8 63.2Q38.2 64.4 41.0 65.2Q43.9 65.9 44.3 65.5Q44.7 65.2 43.9 63.7ZM24.3 63.0Q22.9 63.2 22.7 63.7Q22.6 64.3 23.9 64.9Q25.3 65.5 26.3 65.1Q27.3 64.6 27.1 64.0Q26.8 63.3 26.3 63.0Q25.8 62.8 24.3 63.0ZM10.1 63.1Q10.0 62.9 8.4 62.9Q6.9 62.9 6.7 63.8Q6.5 64.7 7.9 64.7Q9.4 64.7 9.8 64.0Q10.3 63.3 10.1 63.1ZM54.0 63.2Q52.5 64.1 53.8 65.1Q55.0 66.2 56.0 65.1Q56.9 64.1 56.2 63.2Q55.5 62.4 54.0 63.2ZM71.3 -1.4Q69.8 -0.6 70.2 0.2Q70.7 0.9 72.3 1.0Q73.9 1.2 74.2 0.2Q74.6 -0.7 73.7 -1.5Q72.8 -2.3 71.3 -1.4ZM72.2 28.3Q73.7 28.3 74.6 27.5Q75.5 26.7 75.0 25.8Q74.5 24.8 71.6 24.9Q68.8 25.1 68.6 25.4Q68.5 25.6 69.6 27.0Q70.7 28.4 72.2 28.3ZM76.0 15.8Q75.2 15.4 73.2 15.9Q71.2 16.4 72.3 17.9Q73.3 19.4 74.3 19.2Q75.3 19.0 76.1 17.6Q76.9 16.3 76.0 15.8ZM71.2 41.2Q70.8 41.5 71.1 42.7Q71.5 43.9 72.3 43.9Q73.1 44.0 74.2 43.0Q75.4 42.1 75.4 42.0Q75.3 41.8 73.4 41.3Q71.6 40.9 71.2 41.2ZM77.6 57.3Q77.5 56.1 77.0 55.9Q76.6 55.8 74.5 56.6Q72.3 57.5 72.8 58.3Q73.3 59.1 75.5 58.8Q77.8 58.6 77.6 57.3ZM74.7 7.8Q75.4 7.7 75.6 6.8Q75.8 5.9 75.0 5.4Q74.2 4.9 73.1 5.1Q71.9 5.4 71.7 6.0Q71.5 6.6 72.7 7.2Q74.0 7.9 74.7 7.8ZM71.1 56.6Q71.7 56.8 73.8 56.0Q75.9 55.1 75.6 54.5Q75.3 54.0 74.2 53.8Q73.0 53.6 71.8 54.3Q70.6 55.0 70.5 55.6Q70.4 56.3 71.1 56.6ZM73.1 9.6Q72.1 10.4 72.5 11.1Q72.9 11.7 73.8 11.9Q74.7 12.1 75.3 11.7Q75.9 11.2 75.5 9.9Q75.1 8.7 74.6 8.7Q74.1 8.7 73.1 9.6ZM73.0 38.0Q71.6 39.1 71.7 39.6Q71.8 40.1 73.7 40.5Q75.6 40.9 76.3 40.2Q77.0 39.5 76.7 38.4Q76.4 37.4 75.4 37.2Q74.5 37.0 73.0 38.0ZM74.6 30.3Q73.7 29.1 72.2 29.2Q70.8 29.2 70.2 30.1Q69.7 30.9 71.4 31.8Q73.0 32.8 74.3 32.2Q75.5 31.5 74.6 30.3ZM74.2 3.2Q74.4 2.3 74.2 2.2Q74.0 2.0 72.3 1.9Q70.6 1.8 70.3 2.4Q69.9 3.0 70.8 3.8Q71.7 4.5 72.8 4.3Q74.0 4.1 74.2 3.2ZM70.5 45.1Q69.7 45.6 69.6 45.9Q69.5 46.3 69.7 46.6Q69.8 47.0 71.9 47.5Q73.9 48.0 74.4 47.5Q74.9 47.1 73.9 45.9Q73.0 44.8 72.1 44.8Q71.2 44.7 70.5 45.1ZM74.6 13.8Q74.4 13.0 73.5 12.7Q72.7 12.5 70.9 13.3Q69.2 14.1 69.1 14.6Q69.0 15.2 69.8 15.4Q70.6 15.7 72.6 15.1Q74.7 14.6 74.6 13.8ZM72.9 51.9Q73.3 52.7 74.3 52.9Q75.4 53.1 75.9 52.3Q76.5 51.4 75.3 50.6Q74.1 49.8 73.3 50.5Q72.5 51.1 72.9 51.9ZM74.2 63.2Q74.6 62.3 73.7 61.5Q72.8 60.7 71.3 61.6Q69.8 62.4 70.2 63.2Q70.7 63.9 72.3 64.0Q73.9 64.2 74.2 63.2Z" fill="#fff"/></pattern><pattern id="gravel" width="18.2" height="18.2" patternUnits="userSpaceOnUse"><rect width="18.2" height="18.2" fill="#0c0c0c"/><g fill="#fff"><ellipse cx="10.19" cy="-1.38" rx="2.27" ry="1.27" transform="rotate(35 10.19 -1.38)"/><ellipse cx="10.19" cy="16.82" rx="2.27" ry="1.27" transform="rotate(35 10.19 16.82)"/><ellipse cx="9.24" cy="10.69" rx="2.29" ry="1.21" transform="rotate(35 9.24 10.69)"/><ellipse cx="1.71" cy="5.52" rx="2.1" ry="1.42" transform="rotate(-35 1.71 5.52)"/><ellipse cx="19.91" cy="5.52" rx="2.1" ry="1.42" transform="rotate(-35 19.91 5.52)"/><ellipse cx="14.74" cy="12.62" rx="2.18" ry="1.43"/><ellipse cx="-0.32" cy="-0.64" rx="0.99" ry="0.69" transform="rotate(20 -0.32 -0.64)"/><ellipse cx="-0.32" cy="17.56" rx="0.99" ry="0.69" transform="rotate(20 -0.32 17.56)"/><ellipse cx="17.88" cy="-0.64" rx="0.99" ry="0.69" transform="rotate(20 17.88 -0.64)"/><ellipse cx="17.88" cy="17.56" rx="0.99" ry="0.69" transform="rotate(20 17.88 17.56)"/><ellipse cx="11.2" cy="2.87" rx="1.37" ry="0.77"/><ellipse cx="4.4" cy="0.55" rx="1.1" ry="0.75"/><ellipse cx="4.4" cy="18.75" rx="1.1" ry="0.75"/><ellipse cx="8.32" cy="5.06" rx="1.21" ry="0.8"/><ellipse cx="5.74" cy="4.18" rx="1.38" ry="0.83" transform="rotate(-35 5.74 4.18)"/><ellipse cx="1.28" cy="13.95" rx="1.28" ry="0.71" transform="rotate(35 1.28 13.95)"/><ellipse cx="19.48" cy="13.95" rx="1.28" ry="0.71" transform="rotate(35 19.48 13.95)"/><ellipse cx="15.41" cy="7.03" rx="1.24" ry="0.93" transform="rotate(20 15.41 7.03)"/><ellipse cx="15.42" cy="0.01" rx="1.46" ry="0.98" transform="rotate(35 15.42 0.01)"/><ellipse cx="15.42" cy="18.21" rx="1.46" ry="0.98" transform="rotate(35 15.42 18.21)"/><ellipse cx="7.23" cy="1.33" rx="1.36" ry="1.09" transform="rotate(20 7.23 1.33)"/><ellipse cx="7.23" cy="19.53" rx="1.36" ry="1.09" transform="rotate(20 7.23 19.53)"/><ellipse cx="14.17" cy="4.91" rx="1.23" ry="1" transform="rotate(20 14.17 4.91)"/><ellipse cx="5.54" cy="16.1" rx="1.3" ry="0.95"/><ellipse cx="6.77" cy="8.25" rx="1.3" ry="0.72"/><ellipse cx="16.7" cy="3.71" rx="1.29" ry="0.68" transform="rotate(35 16.7 3.71)"/><ellipse cx="-0.36" cy="11.96" rx="1.33" ry="0.95"/><ellipse cx="17.84" cy="11.96" rx="1.33" ry="0.95"/><ellipse cx="13.41" cy="16.38" rx="1.28" ry="0.84" transform="rotate(20 13.41 16.38)"/><ellipse cx="6.4" cy="12.47" rx="1.52" ry="1.05"/><ellipse cx="12.01" cy="8.04" rx="1.42" ry="0.88"/><ellipse cx="7.84" cy="14.67" rx="0.44" ry="0.26"/><ellipse cx="15.24" cy="15.45" rx="0.52" ry="0.35"/><ellipse cx="10.38" cy="5.62" rx="0.66" ry="0.39"/><ellipse cx="0.35" cy="2.47" rx="0.68" ry="0.34"/><ellipse cx="18.55" cy="2.47" rx="0.68" ry="0.34"/><ellipse cx="2.56" cy="0.85" rx="0.45" ry="0.32"/><ellipse cx="3.63" cy="8.65" rx="0.56" ry="0.37"/><ellipse cx="0.2" cy="8.59" rx="0.45" ry="0.31"/><ellipse cx="18.4" cy="8.59" rx="0.45" ry="0.31"/><ellipse cx="13.15" cy="2.36" rx="0.64" ry="0.36"/><ellipse cx="17.19" cy="8.44" rx="0.54" ry="0.4"/><ellipse cx="3.73" cy="13.14" rx="0.55" ry="0.41"/><ellipse cx="11.68" cy="13.06" rx="0.65" ry="0.34"/><ellipse cx="16.56" cy="15.58" rx="0.49" ry="0.29"/><ellipse cx="13.98" cy="8.87" rx="0.55" ry="0.3"/><ellipse cx="2.56" cy="2.71" rx="0.62" ry="0.34"/><ellipse cx="9.39" cy="7.29" rx="0.63" ry="0.39"/><ellipse cx="1.2" cy="9.8" rx="0.61" ry="0.42"/><ellipse cx="12.5" cy="5.86" rx="0.49" ry="0.32"/><ellipse cx="3.71" cy="15.29" rx="0.43" ry="0.26"/><ellipse cx="16.87" cy="1.73" rx="0.58" ry="0.37"/><ellipse cx="8.26" cy="13.46" rx="0.47" ry="0.33"/><ellipse cx="-0.32" cy="14.65" rx="0.56" ry="0.34"/><ellipse cx="17.88" cy="14.65" rx="0.56" ry="0.34"/><ellipse cx="16.48" cy="10.01" rx="0.45" ry="0.33"/><ellipse cx="2.09" cy="11.36" rx="0.55" ry="0.33"/><ellipse cx="1.32" cy="1.57" rx="0.53" ry="0.33"/><ellipse cx="9.98" cy="13.58" rx="0.53" ry="0.34"/><ellipse cx="12.91" cy="10.36" rx="0.5" ry="0.29"/><ellipse cx="7.27" cy="17.01" rx="0.51" ry="0.33"/><ellipse cx="4.52" cy="6.58" rx="0.66" ry="0.35"/><ellipse cx="3.55" cy="10.26" rx="0.52" ry="0.28"/><ellipse cx="11.85" cy="14.64" rx="0.64" ry="0.45"/><ellipse cx="12.13" cy="4.67" rx="0.47" ry="0.29"/><ellipse cx="1.32" cy="16.76" rx="0.5" ry="0.33"/><ellipse cx="6.02" cy="6.23" rx="0.46" ry="0.27"/><ellipse cx="2.26" cy="-0.48" rx="0.58" ry="0.39"/><ellipse cx="2.26" cy="17.72" rx="0.58" ry="0.39"/><ellipse cx="2.26" cy="8.13" rx="0.45" ry="0.29"/><ellipse cx="16.35" cy="5.6" rx="0.45" ry="0.27"/><ellipse cx="9.1" cy="3.27" rx="0.58" ry="0.46"/><ellipse cx="4.33" cy="2.66" rx="0.6" ry="0.4"/><ellipse cx="7.47" cy="6.63" rx="0.4" ry="0.26"/><ellipse cx="17.05" cy="6.55" rx="0.4" ry="0.29"/><ellipse cx="3.03" cy="12.11" rx="0.49" ry="0.37"/><ellipse cx="15" cy="2.9" rx="0.65" ry="0.45"/><ellipse cx="4.62" cy="9.24" rx="0.43" ry="0.28"/><ellipse cx="2.41" cy="16.3" rx="0.55" ry="0.3"/><ellipse cx="12.76" cy="-0.04" rx="0.55" ry="0.31"/><ellipse cx="12.76" cy="18.16" rx="0.55" ry="0.31"/><ellipse cx="11.81" cy="11.34" rx="0.48" ry="0.29"/></g></pattern><pattern id="gravel2" width="31" height="29" patternUnits="userSpaceOnUse"><rect width="31" height="29" fill="#0c0c0c"/><g fill="#fff"><ellipse cx="21.24" cy="19.84" rx="2.11" ry="1.35" transform="rotate(35 21.24 19.84)"/><ellipse cx="5.76" cy="6.69" rx="2.31" ry="1.42"/><ellipse cx="6.98" cy="21.29" rx="1.88" ry="1.1" transform="rotate(20 6.98 21.29)"/><ellipse cx="16.47" cy="6.2" rx="2.06" ry="1.14" transform="rotate(20 16.47 6.2)"/><ellipse cx="13.38" cy="24.29" rx="2.11" ry="1.21" transform="rotate(35 13.38 24.29)"/><ellipse cx="0.45" cy="8" rx="2.36" ry="1.23"/><ellipse cx="31.45" cy="8" rx="2.36" ry="1.23"/><ellipse cx="27.01" cy="23.48" rx="2.06" ry="1.35" transform="rotate(20 27.01 23.48)"/><ellipse cx="24.61" cy="7.44" rx="2.31" ry="1.78" transform="rotate(35 24.61 7.44)"/><ellipse cx="13.32" cy="10.56" rx="2.31" ry="1.36" transform="rotate(20 13.32 10.56)"/><ellipse cx="9.73" cy="3.4" rx="2" ry="1.47"/><ellipse cx="24.75" cy="-0.42" rx="2.5" ry="1.61"/><ellipse cx="24.75" cy="28.58" rx="2.5" ry="1.61"/><ellipse cx="17.18" cy="21.7" rx="2.52" ry="1.41" transform="rotate(-35 17.18 21.7)"/><ellipse cx="20.98" cy="12.86" rx="1.09" ry="0.8" transform="rotate(-35 20.98 12.86)"/><ellipse cx="6.28" cy="15.16" rx="1.17" ry="0.75" transform="rotate(20 6.28 15.16)"/><ellipse cx="14.24" cy="17.56" rx="1.18" ry="0.81"/><ellipse cx="4.05" cy="14.23" rx="1.38" ry="0.86"/><ellipse cx="2.27" cy="18.89" rx="1.11" ry="0.72" transform="rotate(20 2.27 18.89)"/><ellipse cx="12.08" cy="20.85" rx="1.48" ry="1.04" transform="rotate(35 12.08 20.85)"/><ellipse cx="1.34" cy="4.11" rx="1.43" ry="0.93" transform="rotate(-35 1.34 4.11)"/><ellipse cx="32.34" cy="4.11" rx="1.43" ry="0.93" transform="rotate(-35 32.34 4.11)"/><ellipse cx="25.98" cy="18.53" rx="1.47" ry="0.9"/><ellipse cx="-0.89" cy="17.5" rx="1.05" ry="0.82" transform="rotate(20 -0.89 17.5)"/><ellipse cx="30.11" cy="17.5" rx="1.05" ry="0.82" transform="rotate(20 30.11 17.5)"/><ellipse cx="6.56" cy="17.9" rx="1.43" ry="0.99" transform="rotate(-35 6.56 17.9)"/><ellipse cx="18.33" cy="10.42" rx="1.18" ry="0.93" transform="rotate(-35 18.33 10.42)"/><ellipse cx="10.58" cy="8.56" rx="1.49" ry="0.85"/><ellipse cx="21.2" cy="3.26" rx="1.2" ry="0.85" transform="rotate(35 21.2 3.26)"/><ellipse cx="16.84" cy="1.13" rx="1.47" ry="0.84" transform="rotate(20 16.84 1.13)"/><ellipse cx="16.84" cy="30.13" rx="1.47" ry="0.84" transform="rotate(20 16.84 30.13)"/><ellipse cx="-0.94" cy="14.98" rx="1.22" ry="0.83"/><ellipse cx="30.06" cy="14.98" rx="1.22" ry="0.83"/><ellipse cx="20.75" cy="8.6" rx="1.32" ry="0.7" transform="rotate(35 20.75 8.6)"/><ellipse cx="15.54" cy="26.4" rx="1.17" ry="0.74" transform="rotate(35 15.54 26.4)"/><ellipse cx="2.69" cy="21.99" rx="1.1" ry="0.92" transform="rotate(-35 2.69 21.99)"/><ellipse cx="0.13" cy="22.44" rx="1.35" ry="0.84" transform="rotate(35 0.13 22.44)"/><ellipse cx="31.13" cy="22.44" rx="1.35" ry="0.84" transform="rotate(35 31.13 22.44)"/><ellipse cx="8.97" cy="12.61" rx="1.09" ry="0.68"/><ellipse cx="26.77" cy="3.25" rx="1.01" ry="0.83"/><ellipse cx="7.69" cy="25.17" rx="1.04" ry="0.78"/><ellipse cx="20.66" cy="27.13" rx="1.23" ry="0.81" transform="rotate(-35 20.66 27.13)"/><ellipse cx="28.53" cy="12.78" rx="1.42" ry="0.91"/><ellipse cx="19.24" cy="24.35" rx="1.48" ry="0.73"/><ellipse cx="25.19" cy="15.47" rx="1.18" ry="0.89"/><ellipse cx="1.61" cy="0.88" rx="1.16" ry="0.69" transform="rotate(20 1.61 0.88)"/><ellipse cx="1.61" cy="29.88" rx="1.16" ry="0.69" transform="rotate(20 1.61 29.88)"/><ellipse cx="9.56" cy="-0.11" rx="1.25" ry="0.7" transform="rotate(-35 9.56 -0.11)"/><ellipse cx="9.56" cy="28.89" rx="1.25" ry="0.7" transform="rotate(-35 9.56 28.89)"/><ellipse cx="28.34" cy="27.02" rx="1.25" ry="0.65"/><ellipse cx="-0.8" cy="2.58" rx="1.16" ry="0.81" transform="rotate(20 -0.8 2.58)"/><ellipse cx="30.2" cy="2.58" rx="1.16" ry="0.81" transform="rotate(20 30.2 2.58)"/><ellipse cx="3.99" cy="1.94" rx="1.19" ry="0.65" transform="rotate(20 3.99 1.94)"/><ellipse cx="19.25" cy="15.05" rx="1.12" ry="0.66" transform="rotate(20 19.25 15.05)"/><ellipse cx="8.73" cy="16.79" rx="1.23" ry="0.85" transform="rotate(-35 8.73 16.79)"/><ellipse cx="28.11" cy="8.13" rx="1.42" ry="0.81" transform="rotate(-35 28.11 8.13)"/><ellipse cx="21.84" cy="16.69" rx="1.19" ry="0.62" transform="rotate(20 21.84 16.69)"/><ellipse cx="17.47" cy="18.27" rx="1.36" ry="0.86" transform="rotate(35 17.47 18.27)"/><ellipse cx="24.27" cy="12.77" rx="1.29" ry="0.76" transform="rotate(-35 24.27 12.77)"/><ellipse cx="27.62" cy="16.18" rx="1.26" ry="0.83" transform="rotate(-35 27.62 16.18)"/><ellipse cx="4.1" cy="-1.19" rx="1.39" ry="0.87" transform="rotate(20 4.1 -1.19)"/><ellipse cx="4.1" cy="27.81" rx="1.39" ry="0.87" transform="rotate(20 4.1 27.81)"/><ellipse cx="22.66" cy="14.48" rx="1.17" ry="0.69" transform="rotate(35 22.66 14.48)"/><ellipse cx="14.5" cy="3.38" rx="1.26" ry="0.78"/><ellipse cx="24.4" cy="20.62" rx="1.42" ry="0.87"/><ellipse cx="2.19" cy="25.83" rx="1.25" ry="0.87"/><ellipse cx="11.31" cy="17.95" rx="1.07" ry="0.68"/><ellipse cx="6.81" cy="10.33" rx="1.05" ry="0.62"/><ellipse cx="15.16" cy="15.08" rx="1.17" ry="0.91" transform="rotate(35 15.16 15.08)"/><ellipse cx="0.5" cy="12.02" rx="1.53" ry="1.02"/><ellipse cx="31.5" cy="12.02" rx="1.53" ry="1.02"/><ellipse cx="-1.1" cy="0.11" rx="1.22" ry="0.72" transform="rotate(20 -1.1 0.11)"/><ellipse cx="-1.1" cy="29.11" rx="1.22" ry="0.72" transform="rotate(20 -1.1 29.11)"/><ellipse cx="29.9" cy="0.11" rx="1.22" ry="0.72" transform="rotate(20 29.9 0.11)"/><ellipse cx="29.9" cy="29.11" rx="1.22" ry="0.72" transform="rotate(20 29.9 29.11)"/><ellipse cx="17.99" cy="12.95" rx="1.28" ry="0.85" transform="rotate(-35 17.99 12.95)"/><ellipse cx="3.08" cy="11.28" rx="1.49" ry="0.86" transform="rotate(20 3.08 11.28)"/><ellipse cx="11.03" cy="6.07" rx="0.51" ry="0.43"/><ellipse cx="28.5" cy="17.94" rx="0.41" ry="0.29"/><ellipse cx="10.17" cy="15.05" rx="0.6" ry="0.39"/><ellipse cx="12.57" cy="6.33" rx="0.51" ry="0.29"/><ellipse cx="14.49" cy="-0.25" rx="0.46" ry="0.28"/><ellipse cx="14.49" cy="28.75" rx="0.46" ry="0.28"/><ellipse cx="4.64" cy="18.39" rx="0.66" ry="0.46"/><ellipse cx="3.17" cy="16.28" rx="0.44" ry="0.3"/><ellipse cx="28.43" cy="20.02" rx="0.61" ry="0.34"/><ellipse cx="26.64" cy="11.95" rx="0.62" ry="0.34"/><ellipse cx="1.37" cy="27.8" rx="0.48" ry="0.31"/><ellipse cx="0.91" cy="16.14" rx="0.49" ry="0.29"/><ellipse cx="18.83" cy="5.2" rx="0.4" ry="0.25"/><ellipse cx="21.44" cy="5.17" rx="0.59" ry="0.42"/><ellipse cx="1.83" cy="24.18" rx="0.39" ry="0.25"/><ellipse cx="16.9" cy="8.64" rx="0.51" ry="0.34"/><ellipse cx="-0.27" cy="20.26" rx="0.73" ry="0.45"/><ellipse cx="30.73" cy="20.26" rx="0.73" ry="0.45"/><ellipse cx="29.58" cy="4.33" rx="0.52" ry="0.36"/><ellipse cx="13.98" cy="19.53" rx="0.67" ry="0.4"/><ellipse cx="24.58" cy="10.44" rx="0.76" ry="0.42"/><ellipse cx="9.4" cy="24" rx="0.66" ry="0.37"/><ellipse cx="27.2" cy="6.27" rx="0.54" ry="0.36"/><ellipse cx="1.46" cy="14.77" rx="0.57" ry="0.39"/><ellipse cx="16.22" cy="28.26" rx="0.61" ry="0.45"/><ellipse cx="24.08" cy="4.17" rx="0.64" ry="0.36"/><ellipse cx="28.47" cy="5.06" rx="0.62" ry="0.43"/><ellipse cx="4.25" cy="19.73" rx="0.62" ry="0.41"/><ellipse cx="20.42" cy="10.43" rx="0.61" ry="0.38"/><ellipse cx="4.96" cy="10.67" rx="0.62" ry="0.38"/><ellipse cx="23.9" cy="25.98" rx="0.45" ry="0.3"/><ellipse cx="11.44" cy="13.02" rx="0.67" ry="0.48"/><ellipse cx="8.87" cy="9.67" rx="0.6" ry="0.39"/><ellipse cx="17.94" cy="28.26" rx="0.62" ry="0.4"/><ellipse cx="12.51" cy="14.65" rx="0.57" ry="0.38"/><ellipse cx="19.53" cy="7.06" rx="0.51" ry="0.28"/><ellipse cx="28.07" cy="0.09" rx="0.43" ry="0.24"/><ellipse cx="28.07" cy="29.09" rx="0.43" ry="0.24"/><ellipse cx="6.02" cy="24.76" rx="0.65" ry="0.39"/><ellipse cx="13.63" cy="1.46" rx="0.37" ry="0.24"/><ellipse cx="22.66" cy="21.84" rx="0.44" ry="0.32"/><ellipse cx="15.88" cy="10.32" rx="0.52" ry="0.4"/><ellipse cx="11.98" cy="28.51" rx="0.47" ry="0.4"/><ellipse cx="4.88" cy="23.49" rx="0.42" ry="0.28"/><ellipse cx="4.76" cy="12.27" rx="0.65" ry="0.4"/><ellipse cx="17.2" cy="15.92" rx="0.43" ry="0.33"/><ellipse cx="10.94" cy="22.68" rx="0.68" ry="0.38"/><ellipse cx="20.42" cy="1.5" rx="0.69" ry="0.47"/><ellipse cx="6.82" cy="-0.13" rx="0.48" ry="0.32"/><ellipse cx="6.82" cy="28.87" rx="0.48" ry="0.32"/><ellipse cx="26.02" cy="10.4" rx="0.69" ry="0.44"/><ellipse cx="23.1" cy="10.52" rx="0.46" ry="0.29"/><ellipse cx="9.45" cy="21.44" rx="0.42" ry="0.28"/><ellipse cx="3.3" cy="24.19" rx="0.5" ry="0.36"/><ellipse cx="10.43" cy="26.22" rx="0.55" ry="0.28"/><ellipse cx="9.37" cy="20.04" rx="0.59" ry="0.49"/><ellipse cx="5.7" cy="0.99" rx="0.63" ry="0.39"/><ellipse cx="-0.36" cy="27.4" rx="0.48" ry="0.33"/><ellipse cx="30.64" cy="27.4" rx="0.48" ry="0.33"/><ellipse cx="0.99" cy="20.89" rx="0.42" ry="0.29"/><ellipse cx="6.34" cy="3.89" rx="0.4" ry="0.28"/><ellipse cx="22.2" cy="0.72" rx="0.56" ry="0.31"/><ellipse cx="6.51" cy="12.22" rx="0.62" ry="0.44"/><ellipse cx="21.24" cy="6.77" rx="0.59" ry="0.38"/><ellipse cx="18.92" cy="8.6" rx="0.38" ry="0.25"/><ellipse cx="22.76" cy="24.41" rx="0.43" ry="0.31"/><ellipse cx="18.79" cy="2.88" rx="0.58" ry="0.43"/><ellipse cx="27.95" cy="11.06" rx="0.46" ry="0.32"/><ellipse cx="3.85" cy="4.31" rx="0.72" ry="0.47"/><ellipse cx="8.12" cy="1.11" rx="0.71" ry="0.5"/><ellipse cx="21.06" cy="-0.01" rx="0.59" ry="0.3"/><ellipse cx="21.06" cy="28.99" rx="0.59" ry="0.3"/><ellipse cx="21.54" cy="24.11" rx="0.55" ry="0.35"/><ellipse cx="12.46" cy="3.45" rx="0.5" ry="0.27"/><ellipse cx="9.21" cy="7.29" rx="0.46" ry="0.32"/><ellipse cx="23.95" cy="17.11" rx="0.6" ry="0.31"/><ellipse cx="15.49" cy="12.45" rx="0.5" ry="0.35"/><ellipse cx="24.16" cy="22.73" rx="0.63" ry="0.49"/><ellipse cx="4.63" cy="16.31" rx="0.76" ry="0.42"/><ellipse cx="19.63" cy="16.67" rx="0.48" ry="0.3"/><ellipse cx="18.61" cy="27.05" rx="0.51" ry="0.31"/><ellipse cx="11.08" cy="27.32" rx="0.4" ry="0.28"/><ellipse cx="14.36" cy="20.84" rx="0.38" ry="0.29"/><ellipse cx="22.39" cy="26.34" rx="0.46" ry="0.3"/><ellipse cx="29.41" cy="24.57" rx="0.59" ry="0.44"/><ellipse cx="24.32" cy="24.41" rx="0.45" ry="0.28"/><ellipse cx="8.32" cy="5.49" rx="0.44" ry="0.34"/><ellipse cx="29.79" cy="10.08" rx="0.6" ry="0.39"/><ellipse cx="-0.25" cy="25.44" rx="0.5" ry="0.29"/><ellipse cx="30.75" cy="25.44" rx="0.5" ry="0.29"/><ellipse cx="16.55" cy="3.22" rx="0.36" ry="0.3"/><ellipse cx="12.64" cy="4.99" rx="0.49" ry="0.37"/><ellipse cx="2.97" cy="6.03" rx="0.47" ry="0.27"/><ellipse cx="26.51" cy="25.93" rx="0.48" ry="0.3"/><ellipse cx="7.14" cy="26.92" rx="0.53" ry="0.3"/><ellipse cx="29.12" cy="22.09" rx="0.42" ry="0.27"/><ellipse cx="19.17" cy="0.2" rx="0.48" ry="0.32"/><ellipse cx="19.17" cy="29.2" rx="0.48" ry="0.32"/><ellipse cx="17.46" cy="25.87" rx="0.41" ry="0.3"/><ellipse cx="9.34" cy="27.08" rx="0.59" ry="0.32"/><ellipse cx="12.12" cy="1.56" rx="0.44" ry="0.36"/><ellipse cx="6.27" cy="26.19" rx="0.39" ry="0.22"/><ellipse cx="22.77" cy="2.5" rx="0.56" ry="0.3"/><ellipse cx="13.61" cy="13.31" rx="0.47" ry="0.33"/><ellipse cx="21.73" cy="11.13" rx="0.48" ry="0.34"/><ellipse cx="12.28" cy="16.37" rx="0.39" ry="0.31"/><ellipse cx="4.68" cy="25.92" rx="0.46" ry="0.29"/><ellipse cx="2.19" cy="12.87" rx="0.37" ry="0.3"/><ellipse cx="24" cy="2.26" rx="0.62" ry="0.36"/><ellipse cx="21.33" cy="22.48" rx="0.49" ry="0.36"/><ellipse cx="7.8" cy="8.68" rx="0.62" ry="0.37"/><ellipse cx="9.27" cy="5.77" rx="0.39" ry="0.25"/><ellipse cx="29.13" cy="18.91" rx="0.51" ry="0.34"/><ellipse cx="30.14" cy="5.43" rx="0.47" ry="0.31"/><ellipse cx="5.72" cy="2.34" rx="0.39" ry="0.31"/><ellipse cx="19.38" cy="18.22" rx="0.44" ry="0.22"/><ellipse cx="8.61" cy="18.94" rx="0.5" ry="0.29"/><ellipse cx="26.41" cy="13.95" rx="0.51" ry="0.31"/><ellipse cx="26.28" cy="5.29" rx="0.53" ry="0.29"/><ellipse cx="29.23" cy="23.05" rx="0.42" ry="0.26"/><ellipse cx="26.1" cy="21.01" rx="0.47" ry="0.29"/><ellipse cx="27.94" cy="1.73" rx="0.41" ry="0.26"/><ellipse cx="0.33" cy="18.97" rx="0.48" ry="0.37"/><ellipse cx="31.33" cy="18.97" rx="0.48" ry="0.37"/><ellipse cx="20.08" cy="5.69" rx="0.61" ry="0.34"/><ellipse cx="10.48" cy="16.23" rx="0.49" ry="0.31"/><ellipse cx="10.14" cy="10.83" rx="0.42" ry="0.29"/><ellipse cx="3.54" cy="9.09" rx="0.49" ry="0.36"/><ellipse cx="12.11" cy="26.75" rx="0.45" ry="0.26"/><ellipse cx="8.95" cy="22.86" rx="0.35" ry="0.26"/><ellipse cx="14.95" cy="8.41" rx="0.36" ry="0.25"/><ellipse cx="14.95" cy="1.15" rx="0.43" ry="0.36"/><ellipse cx="16.11" cy="16.53" rx="0.41" ry="0.28"/><ellipse cx="6.74" cy="13.49" rx="0.4" ry="0.28"/><ellipse cx="25.04" cy="25.67" rx="0.65" ry="0.44"/><ellipse cx="16.43" cy="11.57" rx="0.42" ry="0.25"/><ellipse cx="16.6" cy="24.71" rx="0.43" ry="0.3"/><ellipse cx="4.7" cy="24.72" rx="0.58" ry="0.37"/><ellipse cx="14.38" cy="5.17" rx="0.4" ry="0.3"/><ellipse cx="4.51" cy="9.6" rx="0.36" ry="0.28"/><ellipse cx="2.01" cy="16.24" rx="0.48" ry="0.28"/><ellipse cx="15.93" cy="19.23" rx="0.42" ry="0.25"/><ellipse cx="13.5" cy="27.58" rx="0.5" ry="0.3"/><ellipse cx="29.59" cy="11.33" rx="0.46" ry="0.31"/><ellipse cx="8.82" cy="14.5" rx="0.59" ry="0.37"/><ellipse cx="13.54" cy="7.48" rx="0.51" ry="0.38"/><ellipse cx="28.48" cy="21.22" rx="0.5" ry="0.38"/><ellipse cx="22.83" cy="4.31" rx="0.44" ry="0.32"/><ellipse cx="13.3" cy="-0.11" rx="0.39" ry="0.28"/><ellipse cx="13.3" cy="28.89" rx="0.39" ry="0.28"/><ellipse cx="4.37" cy="21.26" rx="0.59" ry="0.35"/><ellipse cx="8.3" cy="10.91" rx="0.41" ry="0.28"/><ellipse cx="9.64" cy="25.32" rx="0.44" ry="0.3"/><ellipse cx="5.31" cy="3.88" rx="0.49" ry="0.33"/><ellipse cx="25.4" cy="2.42" rx="0.45" ry="0.23"/><ellipse cx="10.94" cy="11.82" rx="0.52" ry="0.34"/><ellipse cx="10.56" cy="19.53" rx="0.55" ry="0.31"/><ellipse cx="22.12" cy="9.81" rx="0.61" ry="0.35"/><ellipse cx="13.6" cy="15.8" rx="0.43" ry="0.31"/><ellipse cx="11.29" cy="14.76" rx="0.41" ry="0.24"/><ellipse cx="22.09" cy="28.49" rx="0.38" ry="0.26"/><ellipse cx="0.48" cy="24.26" rx="0.54" ry="0.32"/><ellipse cx="31.48" cy="24.26" rx="0.54" ry="0.32"/><ellipse cx="6.82" cy="23.56" rx="0.46" ry="0.3"/><ellipse cx="27.14" cy="9.69" rx="0.56" ry="0.31"/><ellipse cx="26.98" cy="1.15" rx="0.55" ry="0.36"/><ellipse cx="7.52" cy="4.64" rx="0.45" ry="0.36"/><ellipse cx="20.01" cy="22.47" rx="0.61" ry="0.46"/><ellipse cx="23.31" cy="18.82" rx="0.43" ry="0.23"/><ellipse cx="25.09" cy="3.46" rx="0.47" ry="0.34"/><ellipse cx="0.78" cy="17.93" rx="0.42" ry="0.28"/></g></pattern><pattern id="weave" width="16.971" height="16.971" patternUnits="userSpaceOnUse"><rect width="16.971" height="16.971" fill="#fff"/><path d="M8.49 -8.49L0 0M10.18 -6.79L1.7 1.7M11.88 -5.09L3.39 3.39M13.58 -3.39L5.09 5.09M15.27 -1.7L6.79 6.79M0 0L8.49 8.49M-1.7 1.7L6.79 10.18M-3.39 3.39L5.09 11.88M-5.09 5.09L3.39 13.58M-6.79 6.79L1.7 15.27M25.46 -8.49L16.97 0M16.97 0L25.46 8.49M15.27 1.7L23.76 10.18M13.58 3.39L22.06 11.88M11.88 5.09L20.36 13.58M10.18 6.79L18.67 15.27M8.49 8.49L0 16.97M10.18 10.18L1.7 18.67M11.88 11.88L3.39 20.36M13.58 13.58L5.09 22.06M15.27 15.27L6.79 23.76M0 16.97L8.49 25.46M25.46 8.49L16.97 16.97M16.97 16.97L25.46 25.46" stroke="#111" stroke-width="0.5" fill="none"/></pattern><pattern id="clad" width="8.0" height="13.6" patternUnits="userSpaceOnUse"><rect width="8.0" height="13.6" fill="#fff"/><path d="M-8 13.6L0 0M-6 13.6L2 0M-4 13.6L4 0M-2 13.6L6 0M0 13.6L8 0M2 13.6L10 0M4 13.6L12 0M6 13.6L14 0M8 13.6L16 0" stroke="#222" stroke-width="0.8"/></pattern><pattern id="curb" width="39" height="39" patternUnits="userSpaceOnUse"><rect width="39" height="39" fill="#fff"/><path d="M-39 39L0 0M-37.5 39L1.5 0M-36 39L3 0M-34.5 39L4.5 0M-33 39L6 0M-31.5 39L7.5 0M-30 39L9 0M-28.5 39L10.5 0M-27 39L12 0M-25.5 39L13.5 0M-24 39L15 0M-22.5 39L16.5 0M-21 39L18 0M-19.5 39L19.5 0M-18 39L21 0M-16.5 39L22.5 0M-15 39L24 0M-13.5 39L25.5 0M-12 39L27 0M-10.5 39L28.5 0M-9 39L30 0M-7.5 39L31.5 0M-6 39L33 0M-4.5 39L34.5 0M-3 39L36 0M-1.5 39L37.5 0M0 39L39 0M1.5 39L40.5 0M3 39L42 0M4.5 39L43.5 0M6 39L45 0M7.5 39L46.5 0M9 39L48 0M10.5 39L49.5 0M12 39L51 0M13.5 39L52.5 0M15 39L54 0M16.5 39L55.5 0M18 39L57 0M19.5 39L58.5 0M21 39L60 0M22.5 39L61.5 0M24 39L63 0M25.5 39L64.5 0M27 39L66 0M28.5 39L67.5 0M30 39L69 0M31.5 39L70.5 0M33 39L72 0M34.5 39L73.5 0M36 39L75 0M37.5 39L76.5 0M39 39L78 0M40.5 39L79.5 0" stroke="#222" stroke-width="0.6"/><path d="M6.43 26.9h0M24.76 18.68h0M8.42 30.91h0M31.51 19.99h0M19.7 9.21h0M0.12 14.47h0M22.83 2.7h0M30.96 9.06h0M9.08 1.65h0M38.9 28.81h0M34.13 24.02h0M1.33 12.83h0M19.4 4.52h0M37.13 14.37h0M6.04 31.88h0M4.87 36.19h0M17.67 21.53h0M13.37 18.9h0M7.29 1.45h0M33.77 9.16h0M30.43 8.13h0M37.78 34.86h0M29.44 29.75h0M22.65 28.46h0M4.78 18.58h0M32.25 7.84h0M36 34.61h0M15.97 14.24h0M17.6 15.05h0M38.8 15.08h0M1.05 3.64h0M28.01 38.72h0M19.34 19.17h0M21.47 29.18h0M8.66 23.75h0M21.7 24.28h0M7.05 6.63h0M13.58 36.16h0M13.52 23.29h0M11.96 4.03h0M2.56 31.73h0M30.3 14.62h0M26.65 26.36h0M35.05 37.37h0M15.87 38.58h0M37.5 23.03h0M34.44 19.15h0M14.65 9.64h0M34.17 6.33h0M2.7 31.41h0M30.18 18.84h0M32.64 2.03h0M10.06 11.31h0M16.36 6.65h0M2.71 13.19h0M35.07 38.35h0M29.09 18.68h0M9.84 37.4h0M20.5 28.42h0M1.1 8.27h0" stroke="#111" stroke-width="0.9" stroke-linecap="round"/></pattern><pattern id="pav" width="46" height="46" patternUnits="userSpaceOnUse"><rect width="46" height="46" fill="#fff"/><path d="M-46 46L0 0M-43.7 46L2.3 0M-41.4 46L4.6 0M-39.1 46L6.9 0M-36.8 46L9.2 0M-34.5 46L11.5 0M-32.2 46L13.8 0M-29.9 46L16.1 0M-27.6 46L18.4 0M-25.3 46L20.7 0M-23 46L23 0M-20.7 46L25.3 0M-18.4 46L27.6 0M-16.1 46L29.9 0M-13.8 46L32.2 0M-11.5 46L34.5 0M-9.2 46L36.8 0M-6.9 46L39.1 0M-4.6 46L41.4 0M-2.3 46L43.7 0M0 46L46 0M2.3 46L48.3 0M4.6 46L50.6 0M6.9 46L52.9 0M9.2 46L55.2 0M11.5 46L57.5 0M13.8 46L59.8 0M16.1 46L62.1 0M18.4 46L64.4 0M20.7 46L66.7 0M23 46L69 0M25.3 46L71.3 0M27.6 46L73.6 0M29.9 46L75.9 0M32.2 46L78.2 0M34.5 46L80.5 0M36.8 46L82.8 0M39.1 46L85.1 0M41.4 46L87.4 0M43.7 46L89.7 0M46 46L92 0M48.3 46L94.3 0" stroke="#111" stroke-width="0.85"/><path d="M26.24 29.08h0M37.58 12.76h0M29.99 40.98h0M41.81 8.58h0M29.98 28.39h0M23.16 44.45h0M24.3 20.48h0M43.4 29.24h0M13.86 14.23h0M22.82 2.42h0M27.95 33.85h0M19.6 38.94h0M42.69 25.56h0M31.34 5.39h0M2.58 45.08h0M13.08 9.81h0M41.25 34.49h0M5.67 14.8h0M11.16 12.54h0M0.29 24.14h0M14 18.13h0M8.53 5.06h0M1.51 40.15h0M34.38 25.74h0M5.7 6.85h0M5.5 14.56h0M2.65 12.67h0M9.33 8.87h0M30.07 21.06h0M21.78 16.47h0M24.79 36.12h0M14.17 3.23h0M22.13 17.44h0M35.9 5.11h0M40.15 0.68h0M24.94 20.41h0M14.51 40.89h0M32.3 7.51h0M22.77 28.16h0M1.54 4.02h0M27.68 33.56h0M21.28 19.41h0M23.32 11.99h0M40.32 44.24h0M22.17 0.94h0M18.27 36.94h0M14.95 4.86h0M8.52 32.74h0M28.61 13.16h0M28.68 34.99h0M44.44 38.24h0M19.96 37.24h0M42.57 39.97h0M34.52 26.99h0M23.53 39.11h0M28.75 33.18h0M10.48 4.24h0M12.44 26.84h0M26.36 9.14h0M8.68 43.7h0M3.29 42.61h0M35.51 26.39h0M45.8 31.27h0M0.31 43.2h0M19.02 42.16h0M37.44 6.35h0M1.83 0.96h0M35.91 36.41h0M10.49 5.19h0M16.86 36.77h0M34.08 39.89h0M44.53 34.72h0M38.44 0.75h0M0.3 39.67h0M28.46 15.03h0M5.9 15.29h0M15.6 22.8h0M20.69 9.3h0M3.77 9.34h0M5.9 4.61h0M19.07 5.99h0M36.8 25.06h0M21.16 29.4h0M10.8 1.08h0M3.62 15.51h0M16.62 11.62h0M14.1 38.35h0M0.4 20.66h0M17.62 12.97h0M33.34 10.32h0" stroke="#111" stroke-width="0.9" stroke-linecap="round"/></pattern><pattern id="hatch" width="24.890" height="24.890" patternUnits="userSpaceOnUse"><rect width="24.890" height="24.890" fill="#fff"/><path d="M-24.89 24.89L0 0M-22.63 24.89L2.26 0M-20.36 24.89L4.53 0M-18.1 24.89L6.79 0M-15.84 24.89L9.05 0M-13.58 24.89L11.31 0M-11.31 24.89L13.58 0M-9.05 24.89L15.84 0M-6.79 24.89L18.1 0M-4.53 24.89L20.36 0M-2.26 24.89L22.63 0M0 24.89L24.89 0M2.26 24.89L27.15 0M4.53 24.89L29.42 0M6.79 24.89L31.68 0M9.05 24.89L33.94 0M11.31 24.89L36.2 0M13.58 24.89L38.47 0M15.84 24.89L40.73 0M18.1 24.89L42.99 0M20.36 24.89L45.25 0M22.63 24.89L47.52 0M24.89 24.89L49.78 0M27.15 24.89L52.04 0M29.42 24.89L54.31 0M31.68 24.89L56.57 0M33.94 24.89L58.83 0M36.2 24.89L61.09 0M38.47 24.89L63.36 0M40.73 24.89L65.62 0M42.99 24.89L67.88 0M45.25 24.89L70.14 0M47.52 24.89L72.41 0M49.78 24.89L74.67 0" stroke="#222" stroke-width="0.6"/></pattern><pattern id="hatchd" width="23.900" height="23.900" patternUnits="userSpaceOnUse"><rect width="23.900" height="23.900" fill="#fff"/><path d="M-23.9 23.9L0 0M-22.06 23.9L1.84 0M-20.22 23.9L3.68 0M-18.38 23.9L5.52 0M-16.55 23.9L7.35 0M-14.71 23.9L9.19 0M-12.87 23.9L11.03 0M-11.03 23.9L12.87 0M-9.19 23.9L14.71 0M-7.35 23.9L16.55 0M-5.52 23.9L18.38 0M-3.68 23.9L20.22 0M-1.84 23.9L22.06 0M0 23.9L23.9 0M1.84 23.9L25.74 0M3.68 23.9L27.58 0M5.52 23.9L29.42 0M7.35 23.9L31.25 0M9.19 23.9L33.09 0M11.03 23.9L34.93 0M12.87 23.9L36.77 0M14.71 23.9L38.61 0M16.55 23.9L40.45 0M18.38 23.9L42.28 0M20.22 23.9L44.12 0M22.06 23.9L45.96 0M23.9 23.9L47.8 0M25.74 23.9L49.64 0M27.58 23.9L51.48 0M29.42 23.9L53.32 0M31.25 23.9L55.15 0M33.09 23.9L56.99 0M34.93 23.9L58.83 0M36.77 23.9L60.67 0M38.61 23.9L62.51 0M40.45 23.9L64.35 0M42.28 23.9L66.19 0M44.12 23.9L68.02 0M45.96 23.9L69.86 0M47.8 23.9L71.7 0" stroke="#111" stroke-width="0.62"/></pattern><pattern id="hatchl" width="24.890" height="24.890" patternUnits="userSpaceOnUse"><rect width="24.890" height="24.890" fill="#fff"/><path d="M-24.89 24.89L0 0M-21.78 24.89L3.11 0M-18.67 24.89L6.22 0M-15.56 24.89L9.33 0M-12.45 24.89L12.45 0M-9.33 24.89L15.56 0M-6.22 24.89L18.67 0M-3.11 24.89L21.78 0M0 24.89L24.89 0M3.11 24.89L28 0M6.22 24.89L31.11 0M9.33 24.89L34.22 0M12.45 24.89L37.34 0M15.56 24.89L40.45 0M18.67 24.89L43.56 0M21.78 24.89L46.67 0M24.89 24.89L49.78 0M28 24.89L52.89 0M31.11 24.89L56 0M34.22 24.89L59.11 0M37.34 24.89L62.23 0M40.45 24.89L65.34 0M43.56 24.89L68.45 0M46.67 24.89L71.56 0M49.78 24.89L74.67 0" stroke="#555" stroke-width="0.35"/></pattern><pattern id="hatchx" width="23.900" height="23.900" patternUnits="userSpaceOnUse"><rect width="23.900" height="23.900" fill="#fff"/><path d="M-23.9 0L0 23.9M-22.06 0L1.84 23.9M-20.22 0L3.68 23.9M-18.38 0L5.52 23.9M-16.55 0L7.35 23.9M-14.71 0L9.19 23.9M-12.87 0L11.03 23.9M-11.03 0L12.87 23.9M-9.19 0L14.71 23.9M-7.35 0L16.55 23.9M-5.52 0L18.38 23.9M-3.68 0L20.22 23.9M-1.84 0L22.06 23.9M0 0L23.9 23.9M1.84 0L25.74 23.9M3.68 0L27.58 23.9M5.52 0L29.42 23.9M7.35 0L31.25 23.9M9.19 0L33.09 23.9M11.03 0L34.93 23.9M12.87 0L36.77 23.9M14.71 0L38.61 23.9M16.55 0L40.45 23.9M18.38 0L42.28 23.9M20.22 0L44.12 23.9M22.06 0L45.96 23.9M23.9 0L47.8 23.9M25.74 0L49.64 23.9M27.58 0L51.48 23.9M29.42 0L53.32 23.9M31.25 0L55.15 23.9M33.09 0L56.99 23.9M34.93 0L58.83 23.9M36.77 0L60.67 23.9M38.61 0L62.51 23.9M40.45 0L64.35 23.9M42.28 0L66.19 23.9M44.12 0L68.02 23.9M45.96 0L69.86 23.9M47.8 0L71.7 23.9" stroke="#333" stroke-width="0.4"/></pattern></defs><g transform="rotate(0.003)" opacity="0.999"><g id="frames"><rect x="15" y="11" width="1666.3" height="1189.4" stroke="#333" stroke-width="0.9" fill="none"/><rect x="37" y="33" width="295" height="356.25" stroke="#555" stroke-width="0.55" fill="none"/><circle cx="322.1" cy="399.95" r="9.4" stroke="#222" stroke-width="0.5" fill="#fff"/><text x="322.1" y="398.95" font-size="6.4" text-anchor="middle">1</text><text x="322.1" y="405.35" font-size="4.6" text-anchor="middle">A-101</text><text x="307.7" y="399.55" font-size="6.2" text-anchor="end">NORTH FACADE - LEARNING LANDSCAPE</text><path d="M182.25 401.15L331.5 401.15" stroke="#222" stroke-width="0.5"/><text x="307.7" y="405.95" font-size="4.6" text-anchor="end">1:10</text><rect x="37" y="411.25" width="295" height="363" stroke="#555" stroke-width="0.55" fill="none"/><circle cx="322.1" cy="784.95" r="9.4" stroke="#222" stroke-width="0.5" fill="#fff"/><text x="322.1" y="783.95" font-size="6.4" text-anchor="middle">2</text><text x="322.1" y="790.35" font-size="4.6" text-anchor="middle">A-351</text><text x="307.7" y="784.55" font-size="6.2" text-anchor="end">NORTH FACADE - ENTRANCE</text><path d="M219.13 786.15L331.5 786.15" stroke="#222" stroke-width="0.5"/><text x="307.7" y="790.95" font-size="4.6" text-anchor="end">1:10</text><rect x="37" y="796.5" width="295" height="361.75" stroke="#555" stroke-width="0.55" fill="none"/><circle cx="322.1" cy="1168.95" r="9.4" stroke="#222" stroke-width="0.5" fill="#fff"/><text x="322.1" y="1167.95" font-size="6.4" text-anchor="middle">5</text><text x="322.1" y="1174.35" font-size="4.6" text-anchor="middle">A-501</text><text x="307.7" y="1168.55" font-size="6.2" text-anchor="end">NORTH FACADE - ENTRANCE CURB</text><path d="M199.84 1170.15L331.5 1170.15" stroke="#222" stroke-width="0.5"/><text x="307.7" y="1174.95" font-size="4.6" text-anchor="end">1:10</text><rect x="353.75" y="33" width="378.75" height="546.5" stroke="#555" stroke-width="0.55" fill="none"/><circle cx="722.6" cy="590.2" r="9.4" stroke="#222" stroke-width="0.5" fill="#fff"/><text x="722.6" y="589.2" font-size="6.4" text-anchor="middle">4</text><text x="722.6" y="595.6" font-size="4.6" text-anchor="middle">A-101</text><text x="708.2" y="589.8" font-size="6.2" text-anchor="end">NORTH FACADE - STAIR TO BASEMENT</text><path d="M590 591.4L732 591.4" stroke="#222" stroke-width="0.5"/><text x="708.2" y="596.2" font-size="4.6" text-anchor="end">1:10</text><rect x="353.75" y="601.75" width="378.75" height="556.5" stroke="#555" stroke-width="0.55" fill="none"/><circle cx="722.6" cy="1168.95" r="9.4" stroke="#222" stroke-width="0.5" fill="#fff"/><text x="722.6" y="1167.95" font-size="6.4" text-anchor="middle">3</text><text x="722.6" y="1174.35" font-size="4.6" text-anchor="middle">A-351</text><text x="708.2" y="1168.55" font-size="6.2" text-anchor="end">NORTH FACADE - FOUNDATION 01</text><path d="M604.59 1170.15L732 1170.15" stroke="#222" stroke-width="0.5"/><text x="708.2" y="1174.95" font-size="4.6" text-anchor="end">1:10</text><rect x="754.5" y="33" width="612" height="356" stroke="#555" stroke-width="0.55" fill="none"/><circle cx="1356.6" cy="399.7" r="9.4" stroke="#222" stroke-width="0.5" fill="#fff"/><text x="1356.6" y="398.7" font-size="6.4" text-anchor="middle">6</text><text x="1356.6" y="405.1" font-size="4.6" text-anchor="middle">A-351</text><text x="1342.2" y="399.3" font-size="6.2" text-anchor="end">SOUTH FACADE - DAYCARE</text><path d="M1258.45 400.9L1366 400.9" stroke="#222" stroke-width="0.5"/><text x="1342.2" y="405.7" font-size="4.6" text-anchor="end">1:10</text><rect x="754.5" y="411.5" width="295" height="362.5" stroke="#555" stroke-width="0.55" fill="none"/><circle cx="1039.6" cy="784.7" r="9.4" stroke="#222" stroke-width="0.5" fill="#fff"/><text x="1039.6" y="783.7" font-size="6.4" text-anchor="middle">7</text><text x="1039.6" y="790.1" font-size="4.6" text-anchor="middle">A-101</text><text x="1025.2" y="784.3" font-size="6.2" text-anchor="end">SOUTH FACADE - OUTDOOR DAYCARE AREA</text><path d="M889.77 785.9L1049 785.9" stroke="#222" stroke-width="0.5"/><text x="1025.2" y="790.7" font-size="4.6" text-anchor="end">1:10</text><rect x="1071.25" y="411.5" width="295.25" height="362.5" stroke="#555" stroke-width="0.55" fill="none"/><circle cx="1356.6" cy="784.7" r="9.4" stroke="#222" stroke-width="0.5" fill="#fff"/><text x="1356.6" y="783.7" font-size="6.4" text-anchor="middle">8</text><text x="1356.6" y="790.1" font-size="4.6" text-anchor="middle">A-351</text><text x="1342.2" y="784.3" font-size="6.2" text-anchor="end">SOUTH FACADE - OUTDOOR DAYCARE FENCE</text><path d="M1202.3 785.9L1366 785.9" stroke="#222" stroke-width="0.5"/><text x="1342.2" y="790.7" font-size="4.6" text-anchor="end">1:10</text><rect x="754.5" y="796.5" width="295" height="361.75" stroke="#555" stroke-width="0.55" fill="none"/><circle cx="1039.6" cy="1168.95" r="9.4" stroke="#222" stroke-width="0.5" fill="#fff"/><text x="1039.6" y="1167.95" font-size="6.4" text-anchor="middle">9</text><text x="1039.6" y="1174.35" font-size="4.6" text-anchor="middle">A-351</text><text x="1025.2" y="1168.55" font-size="6.2" text-anchor="end">OUTDOOR DAYCARE ENTRANCE</text><path d="M925.95 1170.15L1049 1170.15" stroke="#222" stroke-width="0.5"/><text x="1025.2" y="1174.95" font-size="4.6" text-anchor="end">1:10</text><rect x="1071.5" y="796.5" width="295" height="361.75" stroke="#555" stroke-width="0.55" fill="none"/><circle cx="1356.6" cy="1168.95" r="9.4" stroke="#222" stroke-width="0.5" fill="#fff"/><text x="1356.6" y="1167.95" font-size="6.4" text-anchor="middle">10</text><text x="1356.6" y="1174.35" font-size="4.6" text-anchor="middle">A-351</text><text x="1342.2" y="1168.55" font-size="6.2" text-anchor="end">SOUTH FACADE - FOUNDATION 01</text><path d="M1238.82 1170.15L1366 1170.15" stroke="#222" stroke-width="0.5"/><text x="1342.2" y="1174.95" font-size="4.6" text-anchor="end">1:10</text><text x="6.3" y="1200" font-size="2.3" transform="rotate(-90 6.3 1200)">Sheet Size: A0 (841 X 1189)</text></g><g id="sidebar"><path d="M1548.6 11L1548.6 1200.4" stroke="#333" stroke-width="0.8"/><rect x="1548.6" y="11" width="132.7" height="15.5" stroke="#333" stroke-width="0.8" fill="#e9e9e9"/><text x="1614.95" y="20.9" font-size="8.2" text-anchor="middle" style="fill:#111;stroke:#111">MATERIAL ABBREVIATION LIST</text><text font-size="4.15"><tspan x="1551.6" y="34.7">CONC-A</tspan><tspan x="1551.6" y="41.81">CW-1</tspan><tspan x="1551.6" y="48.93">CW-2</tspan><tspan x="1551.6" y="56.04">CW-3</tspan><tspan x="1551.6" y="63.15">CW-4</tspan><tspan x="1551.6" y="77.38">DB-1</tspan><tspan x="1551.6" y="84.49">DB-2</tspan><tspan x="1551.6" y="91.6">DB-3</tspan><tspan x="1551.6" y="98.72">DGL-1</tspan><tspan x="1551.6" y="105.83">DGL-1b</tspan><tspan x="1551.6" y="112.94">DGL-2</tspan><tspan x="1551.6" y="120.06">DGL-3</tspan><tspan x="1551.6" y="127.17">DGL-4</tspan><tspan x="1551.6" y="141.4">FIN-D1</tspan><tspan x="1551.6" y="148.51">FIN-H1</tspan><tspan x="1551.6" y="155.62">FIN-H2</tspan><tspan x="1551.6" y="162.73">FIN-V1</tspan><tspan x="1551.6" y="169.85">FIN-V2</tspan><tspan x="1551.6" y="176.96">EJ-1</tspan><tspan x="1551.6" y="184.07">EJ-2</tspan><tspan x="1551.6" y="191.19">EJ-3</tspan><tspan x="1551.6" y="198.3">INS-1</tspan><tspan x="1551.6" y="205.41">INS-2</tspan><tspan x="1551.6" y="212.53">INS-3</tspan><tspan x="1551.6" y="219.64">INS-4</tspan><tspan x="1551.6" y="226.75">INS-5</tspan><tspan x="1551.6" y="233.86">INS-6</tspan><tspan x="1551.6" y="240.98">INS-7</tspan><tspan x="1551.6" y="248.09">INS-8</tspan><tspan x="1551.6" y="255.2">INS-9</tspan><tspan x="1551.6" y="262.32">LVR-1</tspan><tspan x="1551.6" y="269.43">LVR-2</tspan><tspan x="1551.6" y="276.54">MET-A1</tspan><tspan x="1551.6" y="290.77">MET-A1a</tspan><tspan x="1551.6" y="297.88">MET-A1b</tspan><tspan x="1551.6" y="304.99">MET-A1c</tspan><tspan x="1551.6" y="312.11">MET-A2</tspan><tspan x="1551.6" y="326.33">MET-A3</tspan><tspan x="1551.6" y="340.56">MET-A4</tspan><tspan x="1551.6" y="354.79">MET-A5</tspan><tspan x="1551.6" y="369.01">MET-A6</tspan><tspan x="1551.6" y="383.24">MET-A7</tspan><tspan x="1551.6" y="397.46">MET-A8</tspan><tspan x="1551.6" y="411.69">MET-A9</tspan><tspan x="1551.6" y="425.92">MET-A10</tspan><tspan x="1551.6" y="440.14">MET-S1</tspan><tspan x="1551.6" y="447.25">MET-S2</tspan><tspan x="1551.6" y="454.37">RB-1</tspan><tspan x="1551.6" y="461.48">RB-2</tspan><tspan x="1551.6" y="468.59">WD-3</tspan><tspan x="1551.6" y="475.71">SGL-1</tspan><tspan x="1551.6" y="482.82">SGL-1b</tspan><tspan x="1551.6" y="489.93">SP-1</tspan><tspan x="1551.6" y="497.05">SSG</tspan><tspan x="1551.6" y="504.16">STO-1</tspan><tspan x="1551.6" y="511.27">TGL-1</tspan><tspan x="1551.6" y="518.38">TGL-1b</tspan><tspan x="1551.6" y="525.5">TGL-2</tspan><tspan x="1551.6" y="532.61">TGL-3</tspan><tspan x="1551.6" y="539.72">WD-5</tspan><tspan x="1551.6" y="546.84">WP-1</tspan><tspan x="1551.6" y="553.95">WP-2</tspan><tspan x="1551.6" y="561.06">WP-3</tspan><tspan x="1551.6" y="568.18">WP-4</tspan><tspan x="1551.6" y="575.29">WP-5</tspan><tspan x="1551.6" y="582.4">WP-6</tspan></text><text font-size="4.15"><tspan x="1572.3" y="34.7">CONCRETE: ARCHITECTURAL</tspan><tspan x="1572.3" y="41.81">CURTAIN WALL: 203mm DEEP BACK-SECTION</tspan><tspan x="1572.3" y="48.93">CURTAIN WALL: 140mm DEEP BACK-SECTION</tspan><tspan x="1572.3" y="56.04">CURTAIN WALL: 168mm DEEP BACK-SECTION</tspan><tspan x="1572.3" y="63.15">CURTAIN WALL: CUSTOM 203mm BACK SECTION</tspan><tspan x="1572.3" y="70.27">HOUSING FIN-V2</tspan><tspan x="1572.3" y="77.38">DRAINAGE BOARD: TYPE 1: BLIND-SIDED</tspan><tspan x="1572.3" y="84.49">DRAINAGE BOARD: TYPE 2: HIGH LOAD</tspan><tspan x="1572.3" y="91.6">DRAINAGE BOARD: TYPE 3: CONVENTIONAL</tspan><tspan x="1572.3" y="98.72">DOUBLE-GLAZED: CLEAR</tspan><tspan x="1572.3" y="105.83">DOUBLE-GLAZED: CLEAR: W/ BIRD FRIT</tspan><tspan x="1572.3" y="112.94">DOUBLE-GLAZED: LOW IRON</tspan><tspan x="1572.3" y="120.06">DOUBLE-GLAZED: LOW IRON: SKYLIGHT</tspan><tspan x="1572.3" y="127.17">DOUBLE GLAZED: CLEAR W/ CERAMIC FRIT</tspan><tspan x="1572.3" y="134.28">(CUSTOM)</tspan><tspan x="1572.3" y="141.4">ALUMINUM FIN: SLOPING ROOF CHIMNEY EXHAUST</tspan><tspan x="1572.3" y="148.51">ALUMINUM FIN: HORIZONTAL</tspan><tspan x="1572.3" y="155.62">ALUMINUM FIN: SOLAR CHIMNEY: HEAT SHELVES</tspan><tspan x="1572.3" y="162.73">ALUMINUM FIN: VERTICAL</tspan><tspan x="1572.3" y="169.85">GLASS FINS: (GL-L1) AT LEARNING LANDSCAPE</tspan><tspan x="1572.3" y="176.96">EXPANSION JOINT: FIRE-RATED</tspan><tspan x="1572.3" y="184.07">EXPANSION JOINT: METAL COVER</tspan><tspan x="1572.3" y="191.19">EXPANSION JOINT: FLEXIBLE MEMBRANE</tspan><tspan x="1572.3" y="198.3">INSULATION: RIGID: BELOW GRADE WALLS</tspan><tspan x="1572.3" y="205.41">INSULATION: RIGID: BELOW GRADE SLAB:HIGH LOAD</tspan><tspan x="1572.3" y="212.53">INSULATION: RIGID: ROOFING</tspan><tspan x="1572.3" y="219.64">INSULATION: SEMI-RIGID: CAVITY WALLS</tspan><tspan x="1572.3" y="226.75">INSULATION: SEMI-RIGID: SHADOW BOX</tspan><tspan x="1572.3" y="233.86">INSULATION: SPRAYED: FOAM: GAP FILLER</tspan><tspan x="1572.3" y="240.98">INSULATION: SOUND ATTENUATION FIRE BATTS</tspan><tspan x="1572.3" y="248.09">INSULATION: HIGH-DENSITY SEMI-RIGID: ROOF</tspan><tspan x="1572.3" y="255.2">INSULATION: HIGH-DENSITY SEMI-RIGID: ROOF</tspan><tspan x="1572.3" y="262.32">LOUVRE: PREFINISHED ALUMINUM - TYPE 1</tspan><tspan x="1572.3" y="269.43">LOUVRE: PREFINISHED ALUMINUM - TYPE 2</tspan><tspan x="1572.3" y="276.54">METAL: PREFINISHED: ALUMINUM: PROFILED:</tspan><tspan x="1572.3" y="283.66">(COPPER PENNY)</tspan><tspan x="1572.3" y="290.77">METAL: PREFINISHED: ALUMINUM: PROFILE 1:</tspan><tspan x="1572.3" y="297.88">METAL: PREFINISHED: ALUMINUM: PROFILE 2:</tspan><tspan x="1572.3" y="304.99">METAL: PREFINISHED: ALUMINUM: PROFILE 3</tspan><tspan x="1572.3" y="312.11">METAL: PREFINISHED: ALUMINUM: ROOFING</tspan><tspan x="1572.3" y="319.22">(DARK BRONZE)</tspan><tspan x="1572.3" y="326.33">METAL: PREFINISHED: ALUMINUM: FLAT:</tspan><tspan x="1572.3" y="333.45">(COPPER PENNY)</tspan><tspan x="1572.3" y="340.56">METAL: PREFINISHED: ALUMINUM: FLAT:</tspan><tspan x="1572.3" y="347.67">(DARK BRONZE)</tspan><tspan x="1572.3" y="354.79">METAL: PREFINISHED: ALUMINUM: FLASHING:</tspan><tspan x="1572.3" y="361.9">TO MATCH MET-A1 (COPPER PENNY)</tspan><tspan x="1572.3" y="369.01">METAL: PREFINISHED: ALUMINUM: FLASHING:</tspan><tspan x="1572.3" y="376.12">(DARK BRONZE)</tspan><tspan x="1572.3" y="383.24">METAL: PREFINISHED: ALUMINUM: INTERIOR TRIM</tspan><tspan x="1572.3" y="390.35">(CHAMPAGNE)</tspan><tspan x="1572.3" y="397.46">METAL: PREFINISHED: ALUMINUM: PERF. FENCE:</tspan><tspan x="1572.3" y="404.58">(COPPER PENNY)</tspan><tspan x="1572.3" y="411.69">METAL: PREFINISHED: ALUMINUM: FLAT:</tspan><tspan x="1572.3" y="418.8">(CHAMPAGNE)</tspan><tspan x="1572.3" y="425.92">METAL: PREFINISHED: ALUMINUM: FLASHING:</tspan><tspan x="1572.3" y="433.03">(CHAMPAGNE)</tspan><tspan x="1572.3" y="440.14">METAL: PREFINISHED: FLASHING: TO MATCH MET-A1</tspan><tspan x="1572.3" y="447.25">METAL: PREFINISHED: FLASHING: TO MATCH MET-A2</tspan><tspan x="1572.3" y="454.37">RESILIENT BASE</tspan><tspan x="1572.3" y="461.48">RESILIENT BASE</tspan><tspan x="1572.3" y="468.59">PAINTED WOODEN BASE</tspan><tspan x="1572.3" y="475.71">SINGLE-GLAZED: LOW IRON</tspan><tspan x="1572.3" y="482.82">SINGLE-GLAZED: LOW IRON W/ BIRD FRIT</tspan><tspan x="1572.3" y="489.93">SPANDREL PANEL</tspan><tspan x="1572.3" y="497.05">SILICONE STRUCTURAL GLAZING</tspan><tspan x="1572.3" y="504.16">STONE: GRANITE: CAMBRIAN BLACK: FLAMED FINISH</tspan><tspan x="1572.3" y="511.27">TRIPLE-GLAZED: CLEAR</tspan><tspan x="1572.3" y="518.38">TRIPLE-GLAZED: CLEAR W/ BIRD FRIT</tspan><tspan x="1572.3" y="525.5">TRIPLE-GLAZED: CLEAR W/ CERAMIC FRIT (40%)</tspan><tspan x="1572.3" y="532.61">TRIPLE-GLAZED: CLEAR W/ CERAMIC FRIT (CUSTOM)</tspan><tspan x="1572.3" y="539.72">WOOD: EXTERIOR: SOFFIT: EASTERN WHITE CEDAR</tspan><tspan x="1572.3" y="546.84">WATERPROOFING: TYPE 1: FOUNDATION WALL</tspan><tspan x="1572.3" y="553.95">WATERPROOFING: TYPE 2: VERTICAL BLIND-SIDED</tspan><tspan x="1572.3" y="561.06">WATERPROOFING: TYPE 3: HORIZONTAL</tspan><tspan x="1572.3" y="568.18">WATERPROOFING: TYPE 4: UNDER BASEMENT SLAB</tspan><tspan x="1572.3" y="575.29">WATERPROOFING: TYPE 5: CRYSTALLINE</tspan><tspan x="1572.3" y="582.4">WATERPROOFING: TYPE 6: LIQUID TRANSITION</tspan></text><path d="M1548.6 839.6L1681.3 839.6" stroke="#333" stroke-width="0.6"/><path d="M1548.6 846.96L1681.3 846.96" stroke="#333" stroke-width="0.6"/><path d="M1548.6 854.32L1681.3 854.32" stroke="#333" stroke-width="0.6"/><path d="M1548.6 861.68L1681.3 861.68" stroke="#333" stroke-width="0.6"/><path d="M1548.6 869.04L1681.3 869.04" stroke="#333" stroke-width="0.6"/><path d="M1548.6 876.4L1681.3 876.4" stroke="#333" stroke-width="0.6"/><path d="M1548.6 883.76L1681.3 883.76" stroke="#333" stroke-width="0.6"/><path d="M1548.6 891.12L1681.3 891.12" stroke="#333" stroke-width="0.6"/><path d="M1548.6 898.48L1681.3 898.48" stroke="#333" stroke-width="0.6"/><path d="M1548.6 905.84L1681.3 905.84" stroke="#333" stroke-width="0.6"/><path d="M1548.6 913.2L1681.3 913.2" stroke="#333" stroke-width="0.6"/><path d="M1548.6 920.56L1681.3 920.56" stroke="#333" stroke-width="0.6"/><path d="M1548.6 927.92L1681.3 927.92" stroke="#333" stroke-width="0.6"/><path d="M1560.3 839.6L1560.3 927.92" stroke="#333" stroke-width="0.6"/><path d="M1595.6 839.6L1595.6 927.92" stroke="#333" stroke-width="0.6"/><text x="1554.4" y="844.6" font-size="3.4" text-anchor="middle">13</text><text x="1578" y="844.6" font-size="3.4" text-anchor="middle">2024-05-31</text><text x="1597.8" y="844.6" font-size="3.4">ISSUED FOR PROGRESS</text><text x="1554.4" y="851.96" font-size="3.4" text-anchor="middle">12</text><text x="1578" y="851.96" font-size="3.4" text-anchor="middle">2023-09-20</text><text x="1597.8" y="851.96" font-size="3.4">ISSUED FOR PC-146</text><text x="1554.4" y="859.32" font-size="3.4" text-anchor="middle">11</text><text x="1578" y="859.32" font-size="3.4" text-anchor="middle">2022-02-08</text><text x="1597.8" y="859.32" font-size="3.4">ISSUED FOR PC-077</text><text x="1554.4" y="866.68" font-size="3.4" text-anchor="middle">10</text><text x="1578" y="866.68" font-size="3.4" text-anchor="middle">2022-01-14</text><text x="1597.8" y="866.68" font-size="3.4">ISSUED FOR PC-074</text><text x="1554.4" y="874.04" font-size="3.4" text-anchor="middle">9</text><text x="1578" y="874.04" font-size="3.4" text-anchor="middle">2021-11-10</text><text x="1597.8" y="874.04" font-size="3.4">ISSUED FOR SI-014</text><text x="1554.4" y="881.4" font-size="3.4" text-anchor="middle">8</text><text x="1578" y="881.4" font-size="3.4" text-anchor="middle">2021-06-08</text><text x="1597.8" y="881.4" font-size="3.4">ISSUED FOR CONSTRUCTION</text><text x="1554.4" y="888.76" font-size="3.4" text-anchor="middle">7</text><text x="1578" y="888.76" font-size="3.4" text-anchor="middle">2021-02-22</text><text x="1597.8" y="888.76" font-size="3.4">RE-ISSUED FOR BUILDING PERMIT</text><text x="1554.4" y="896.12" font-size="3.4" text-anchor="middle">6</text><text x="1578" y="896.12" font-size="3.4" text-anchor="middle">2020-12-15</text><text x="1597.8" y="896.12" font-size="3.4">ISSUED FOR PROGRESS</text><text x="1554.4" y="903.48" font-size="3.4" text-anchor="middle">5</text><text x="1578" y="903.48" font-size="3.4" text-anchor="middle">2020-10-13</text><text x="1597.8" y="903.48" font-size="3.4">ISSUED FOR 100% CONTRACT DOCUMENTS</text><text x="1554.4" y="910.84" font-size="3.4" text-anchor="middle">4</text><text x="1578" y="910.84" font-size="3.4" text-anchor="middle">2020-09-04</text><text x="1597.8" y="910.84" font-size="3.4">ISSUED FOR BUILDING PERMIT</text><text x="1554.4" y="918.2" font-size="3.4" text-anchor="middle">3</text><text x="1578" y="918.2" font-size="3.4" text-anchor="middle">2020-09-04</text><text x="1597.8" y="918.2" font-size="3.4">ISSUED FOR 90% CONTRACT DOCUMENTS</text><text x="1554.4" y="925.56" font-size="3.7" text-anchor="middle">No.</text><text x="1578" y="925.56" font-size="3.7" text-anchor="middle">Date</text><text x="1597.8" y="925.56" font-size="3.7">Description</text><text x="1551.6" y="937" font-size="5.6" style="fill:#999;stroke:none" letter-spacing="0.93">MORIYAMA &amp; TESHIMA <tspan font-weight="bold" style="fill:#4b7bab">ARCHITECTS</tspan></text><text x="1551.8" y="946" font-size="4.9" style="fill:#5a2328;stroke:none" font-weight="bold" letter-spacing="2.1">ACTON OSTRY <tspan font-weight="normal" style="fill:#a0a0a0" letter-spacing="1.72">ARCHITECTS INC</tspan></text><text x="1551.6" y="951.6" font-size="3.6">Architects in Joint Venture</text><text x="1676.6" y="951.6" font-size="3.6" text-anchor="end">mtarch.com  /  actonostry.ca</text><text x="1551.6" y="962.6" font-size="3.6">117 George Street, Toronto, Ontario Canada M5A 2N4</text><text x="1676.6" y="962.6" font-size="3.6" text-anchor="end">416-925-4484</text><path d="M1548.6 964.7L1681.3 964.7" stroke="#333" stroke-width="0.6"/><path d="M1615 964.7L1615 1031.6" stroke="#333" stroke-width="0.6"/><path d="M1548.6 1031.6L1681.3 1031.6" stroke="#333" stroke-width="0.6"/><text font-size="3.66"><tspan x="1551.3" y="1035.8">Do not scale drawings.  The contractor shall check and verify all dimensions</tspan><tspan x="1551.3" y="1040">and report any errors or omissions to the architect before commencing or</tspan><tspan x="1551.3" y="1044.2">proceeding with any work. All drawings remain the property of the architect.</tspan></text><path d="M1548.6 1046L1681.3 1046" stroke="#333" stroke-width="0.6"/><text x="1551.3" y="1051" font-size="4.1">Copyright (C) 2020</text><path d="M1548.6 1053.2L1681.3 1053.2" stroke="#333" stroke-width="0.6"/><text x="1551.3" y="1058.5" font-size="4.1">Client:</text><text x="1615" y="1072.4" font-size="8.2" text-anchor="middle" style="fill:#111;stroke:#111">GEORGE BROWN COLLEGE</text><text x="1615" y="1081.6" font-size="4.1" text-anchor="middle">WATERFRONT CAMPUS</text><text x="1615" y="1086.6" font-size="4.1" text-anchor="middle">Toronto, Ontario</text><path d="M1548.6 1089.9L1681.3 1089.9" stroke="#333" stroke-width="0.6"/><text x="1551.3" y="1095.4" font-size="4.1">Project:</text><text x="1615" y="1112.7" font-size="8.2" text-anchor="middle" style="fill:#111;stroke:#111">THE ARBOUR</text><text x="1615" y="1125" font-size="4.1" text-anchor="middle">185 Queens Quay East, Toronto, Ontario</text><path d="M1548.6 1127.3L1681.3 1127.3" stroke="#333" stroke-width="0.6"/><text x="1551.3" y="1132.4" font-size="4.1">Title:</text><text x="1615" y="1149" font-size="8.2" text-anchor="middle" style="fill:#111;stroke:#111">EXTERIOR SECTION DETAILS</text><path d="M1548.6 1164.2L1681.3 1164.2" stroke="#333" stroke-width="0.6"/><text x="1551.3" y="1169.2" font-size="4.1">Scale:</text><text x="1580.7" y="1169.2" font-size="4.1">1:10 @ A0</text><path d="M1548.6 1171.6L1615.2 1171.6" stroke="#333" stroke-width="0.6"/><text x="1551.3" y="1176.6" font-size="4.1">Drawn By:</text><text x="1565" y="1183.8" font-size="4.1" text-anchor="middle">SK / MB</text><path d="M1548.6 1186.2L1581.6 1186.2" stroke="#333" stroke-width="0.6"/><text x="1551.3" y="1191.4" font-size="4.1">Checked By:</text><text x="1565" y="1198.4" font-size="4.1" text-anchor="middle">CP / RA</text><path d="M1581.6 1171.6L1581.6 1200.4" stroke="#333" stroke-width="0.6"/><path d="M1615.2 1164.2L1615.2 1200.4" stroke="#333" stroke-width="0.6"/><text x="1618" y="1169.2" font-size="4.1">Sheet No.:</text><text x="1616.6" y="1189.8" font-size="20" style="fill:#000;stroke:#000">A-551</text><text x="1548.6" y="1207" font-size="4.06">PRINTED 31 MAY 2024</text><text x="1692.3" y="1200.2" font-size="8.8" font-weight="bold" style="fill:#111;stroke:#111" transform="rotate(-90 1692.3 1200.2)" textLength="207.7" lengthAdjust="spacingAndGlyphs">FOR REFERENCE ONLY - NOT FOR CONSTRUCTION</text></g><g id="p1"><rect x="157" y="125" width="98.5" height="73.9" stroke="none" fill="url(#lconc)"/><path d="M113.7 137.6L143.7 137.6L143.7 198.9L267.5 198.9L267.5 265L177.9 265L177.9 363L133.8 363L133.8 286L113.7 262Z" stroke="none" fill="url(#conc)"/><rect x="177.9" y="265" width="46.4" height="98" stroke="none" fill="url(#lconc)"/><rect x="54.3" y="236.6" width="40.5" height="21.2" stroke="none" fill="url(#conc)"/><path d="M54.3 257.8L96.6 257.8L115.4 281.5L115.4 363L54.3 363Z" stroke="none" fill="url(#stone)"/><rect x="54.3" y="217.1" width="34.6" height="15.4" stroke="none" fill="url(#pav)"/><path d="M86 98.3L261.8 98.3" stroke="#222" stroke-width="0.45"/><path d="M171.2 98.3L172.76 94.66L174.84 101.94L176.4 98.3" stroke="#222" stroke-width="0.45" fill="#fff"/><path d="M91.3 98.3L91.3 119" stroke="#222" stroke-width="0.4"/><path d="M95.4 98.3L95.4 119" stroke="#222" stroke-width="0.4"/><path d="M96.6 98.3L96.6 119" stroke="#222" stroke-width="0.4"/><path d="M98.3 98.3L98.3 119" stroke="#222" stroke-width="0.4"/><path d="M100.7 98.3L100.7 119" stroke="#222" stroke-width="0.4"/><path d="M102.1 98.3L102.1 119" stroke="#222" stroke-width="0.4"/><rect x="95.4" y="98.3" width="1.2" height="20.7" stroke="none" fill="#bbb"/><rect x="99.5" y="98.3" width="1.2" height="20.7" stroke="none" fill="#bbb"/><path d="M132 98.3L132 119" stroke="#222" stroke-width="0.4"/><path d="M162 84L162 121.3" stroke="#222" stroke-width="0.45"/><path d="M255.5 84L255.5 121.3" stroke="#222" stroke-width="0.45"/><path d="M162 121.3L255.5 121.3" stroke="#222" stroke-width="0.5"/><rect x="171.4" y="117.8" width="74.6" height="3.5" stroke="#333" stroke-width="0.4" fill="none" stroke-dasharray="1.2 1"/><path d="M158 125L255.5 125" stroke="#222" stroke-width="0.5"/><path d="M255.5 121.3L255.5 198.9" stroke="#222" stroke-width="0.45"/><rect x="91.3" y="119" width="40.7" height="7.4" stroke="#111" stroke-width="0.6" fill="#fff"/><rect x="92.5" y="120.2" width="10.5" height="5.2" stroke="#111" stroke-width="0.9" fill="none"/><rect x="104.5" y="120" width="4" height="6.4" stroke="#111" stroke-width="0.6" fill="none"/><rect x="91.3" y="126.4" width="22.4" height="4.3" stroke="#111" stroke-width="0.8" fill="#fff"/><rect x="110" y="127.3" width="3" height="2.7" stroke="#111" stroke-width="0.5" fill="none"/><rect x="102.5" y="130.7" width="29.5" height="5.3" stroke="#111" stroke-width="0.7" fill="#fff"/><rect x="96" y="130.7" width="6.5" height="6.8" stroke="#111" stroke-width="0.6" fill="#fff"/><path d="M102.5 137.2L131 137.2" stroke="#111" stroke-width="1.9"/><path d="M102 137.6L92 138.4L89.6 140L88.3 145.8" stroke="#111" stroke-width="1.2" fill="none"/><path d="M93 140L91.5 145" stroke="#111" stroke-width="0.8" fill="none"/><rect x="128" y="126" width="31" height="5.2" stroke="#111" stroke-width="0.5" fill="#fff"/><rect x="132.5" y="126.2" width="26.1" height="3" stroke="none" fill="url(#hatchd)"/><path d="M132 126.3L159 126.3" stroke="#111" stroke-width="1.1"/><path d="M132 129.5L156 129.5" stroke="#111" stroke-width="0.9"/><rect x="127.8" y="127" width="3.7" height="4" stroke="#111" stroke-width="0.7" fill="#fff"/><path d="M143.7 131L143.7 198.9" stroke="#222" stroke-width="0.5"/><path d="M145.5 131L145.5 198.9" stroke="#222" stroke-width="0.5"/><path d="M153.7 131L153.7 196.9" stroke="#222" stroke-width="0.5"/><path d="M155.2 131L155.2 196.9" stroke="#222" stroke-width="0.5"/><path d="M156.7 131L156.7 196.9" stroke="#222" stroke-width="0.5"/><path d="M155.2 180L155.2 198.9" stroke="#111" stroke-width="1.2"/><rect x="89.3" y="142.5" width="7" height="87.6" stroke="#222" stroke-width="0.5" fill="url(#clad)"/><rect x="96.3" y="139" width="7.9" height="120.6" stroke="#222" stroke-width="0.45" fill="#fff"/><path d="M97.9 141.22H102.6M97.9 144.92H102.6M97.9 148.62H102.6M97.9 152.32H102.6M97.9 156.02H102.6M97.9 159.72H102.6M97.9 163.42H102.6M97.9 167.12H102.6M97.9 170.82H102.6M97.9 174.52H102.6M97.9 178.22H102.6M97.9 181.92H102.6M97.9 185.62H102.6M97.9 189.32H102.6M97.9 193.02H102.6M97.9 196.72H102.6M97.9 200.42H102.6M97.9 204.12H102.6M97.9 207.82H102.6M97.9 211.52H102.6M97.9 215.22H102.6M97.9 218.92H102.6M97.9 222.62H102.6M97.9 226.32H102.6M97.9 230.02H102.6M97.9 233.72H102.6M97.9 237.42H102.6M97.9 241.12H102.6M97.9 244.82H102.6M97.9 248.52H102.6M97.9 252.22H102.6M97.9 255.92H102.6" stroke="#777" stroke-width="0.6" fill="none"/><rect x="104.2" y="139" width="8.3" height="120.6" stroke="#222" stroke-width="0.45" fill="#fff"/><path d="M105.8 141.22H110.9M105.8 144.92H110.9M105.8 148.62H110.9M105.8 152.32H110.9M105.8 156.02H110.9M105.8 159.72H110.9M105.8 163.42H110.9M105.8 167.12H110.9M105.8 170.82H110.9M105.8 174.52H110.9M105.8 178.22H110.9M105.8 181.92H110.9M105.8 185.62H110.9M105.8 189.32H110.9M105.8 193.02H110.9M105.8 196.72H110.9M105.8 200.42H110.9M105.8 204.12H110.9M105.8 207.82H110.9M105.8 211.52H110.9M105.8 215.22H110.9M105.8 218.92H110.9M105.8 222.62H110.9M105.8 226.32H110.9M105.8 230.02H110.9M105.8 233.72H110.9M105.8 237.42H110.9M105.8 241.12H110.9M105.8 244.82H110.9M105.8 248.52H110.9M105.8 252.22H110.9M105.8 255.92H110.9" stroke="#777" stroke-width="0.6" fill="none"/><path d="M113.1 137.6L113.1 262.5L131 285L131 363" stroke="#111" stroke-width="1.2" fill="none"/><path d="M112.2 262.5L129.6 285.5L129.6 363" stroke="#222" stroke-width="0.45" fill="none"/><path d="M133.8 363L133.8 286" stroke="#222" stroke-width="0.45" fill="none"/><path d="M131.9 286L131.9 363" stroke="#fff" stroke-width="0.45" stroke-dasharray="1.6 1.2"/><path d="M96.6 257.8L112.2 259.6L112.2 262.5L129.6 285.5L129.6 363L115.4 363L115.4 281.5Z" stroke="none" fill="#fff"/><path d="M96.6 257.8L115.4 281.5L115.4 363" stroke="#222" stroke-width="0.5" fill="none"/><path d="M96.6 259.6L112.2 259.6" stroke="#222" stroke-width="0.45" fill="none"/><path d="M103 267L109 261" stroke="#333" stroke-width="0.4"/><path d="M107 272L114 265" stroke="#333" stroke-width="0.4"/><path d="M111 277L118 270" stroke="#333" stroke-width="0.4"/><path d="M115 282L122 275" stroke="#333" stroke-width="0.4"/><path d="M120 292H125.5M120 299.7H125.5M120 307.4H125.5M120 315.1H125.5M120 322.8H125.5M120 330.5H125.5M120 338.2H125.5M120 345.9H125.5M120 353.6H125.5M120 361.3H125.5" stroke="#333" stroke-width="0.4" fill="none"/><rect x="54.3" y="217.1" width="34.6" height="15.4" stroke="#222" stroke-width="0.5" fill="none"/><path d="M54.3 232.5L89 232.5L89 236.6L54.3 236.6" stroke="#222" stroke-width="0.45" fill="none"/><path d="M54.3 236.6L94.8 236.6L94.8 257.8L54.3 257.8" stroke="#222" stroke-width="0.5" fill="none"/><path d="M54.3 257.8L96.6 257.8" stroke="#222" stroke-width="0.5"/><path d="M54.3 198.9L143.7 198.9" stroke="#333" stroke-width="0.45"/><path d="M143.7 198.9L267.5 198.9" stroke="#222" stroke-width="0.6"/><rect x="145.5" y="213.6" width="122" height="7.3" stroke="#222" stroke-width="0.45" fill="#fff"/><path d="M146.8 220.9V215.94H149.4V220.9M152 220.9V215.94H154.6V220.9M157.2 220.9V215.94H159.8V220.9M162.4 220.9V215.94H165V220.9M167.6 220.9V215.94H170.2V220.9M172.8 220.9V215.94H175.4V220.9M178 220.9V215.94H180.6V220.9M183.2 220.9V215.94H185.8V220.9M188.4 220.9V215.94H191V220.9M193.6 220.9V215.94H196.2V220.9M198.8 220.9V215.94H201.4V220.9M204 220.9V215.94H206.6V220.9M209.2 220.9V215.94H211.8V220.9M214.4 220.9V215.94H217V220.9M219.6 220.9V215.94H222.2V220.9M224.8 220.9V215.94H227.4V220.9M230 220.9V215.94H232.6V220.9M235.2 220.9V215.94H237.8V220.9M240.4 220.9V215.94H243V220.9M245.6 220.9V215.94H248.2V220.9M250.8 220.9V215.94H253.4V220.9M256 220.9V215.94H258.6V220.9M261.2 220.9V215.94H263.8V220.9" stroke="#222" stroke-width="0.5" fill="none"/><path d="M143.7 213.6L267.5 213.6" stroke="#222" stroke-width="0.6"/><rect x="143.7" y="198.9" width="1.8" height="22" stroke="#222" stroke-width="0.5" fill="#fff"/><path d="M145.5 220.9L113.7 220.9" stroke="#222" stroke-width="0.0" fill="none"/><path d="M267.5 198.9L267.5 265" stroke="#222" stroke-width="0.45"/><path d="M267.5 225.8L264.42 227.12L270.58 228.88L267.5 230.2" stroke="#222" stroke-width="0.45" fill="#fff"/><path d="M177.9 265L267.5 265" stroke="#222" stroke-width="0.6"/><path d="M177.9 265L177.9 363" stroke="#222" stroke-width="0.5"/><path d="M224.3 265L224.3 363" stroke="#222" stroke-width="0.5"/><path d="M54.3 363L261.8 363" stroke="#222" stroke-width="0.45"/><path d="M166.2 363L167.76 359.36L169.84 366.64L171.4 363" stroke="#222" stroke-width="0.45" fill="#fff"/><rect x="196.5" y="199.5" width="58.5" height="13.9" stroke="#111" stroke-width="0.7" fill="#fff"/><path d="M196.5 200.6L255 200.6" stroke="#111" stroke-width="0.9"/><circle cx="225.6" cy="206.3" r="1.7" stroke="#222" stroke-width="0.5" fill="none"/><path d="M225.6 208L225.6 211" stroke="#222" stroke-width="0.5"/><rect x="224.2" y="203.5" width="2.8" height="1.5" stroke="#222" stroke-width="0.4" fill="none"/><rect x="80.7" y="110.4" width="86" height="66.9" rx="2.5" stroke="#333" stroke-width="0.45" stroke-dasharray="1.6 1.2" fill="none"/><path d="M74.2 101.9L75.6 101.9L80.9 110.6" stroke="#222" stroke-width="0.45" fill="none"/><circle cx="66.9" cy="101.9" r="7.3" stroke="#222" stroke-width="0.45" fill="#fff"/><path d="M59.6 101.9L74.2 101.9" stroke="#222" stroke-width="0.4"/><text x="66.9" y="101" font-size="3.4" text-anchor="middle">2</text><text x="66.9" y="105.8" font-size="3.5" text-anchor="middle">A-552</text><path d="M113.7 160.2L146.5 160.2L150.8 164.5L150.8 198.9" stroke="#333" stroke-width="0.45" fill="none" stroke-dasharray="1.6 1.2"/><path d="M113.7 162.6L145.5 162.6L148.4 165.5L148.4 198.9" stroke="#333" stroke-width="0.45" fill="none" stroke-dasharray="1.6 1.2"/><path d="M181.4 198.9L181.4 265" stroke="#333" stroke-width="0.4" stroke-dasharray="1.6 1.2"/><path d="M184.4 198.9L184.4 265" stroke="#333" stroke-width="0.4" stroke-dasharray="1.6 1.2"/><path d="M181.4 265L181.4 268.5L267.5 268.5" stroke="#333" stroke-width="0.4" fill="none" stroke-dasharray="1.6 1.2"/><path d="M184.4 265L184.4 267L267.5 267" stroke="#333" stroke-width="0.4" fill="none" stroke-dasharray="1.6 1.2"/><path d="M187.6 184.5L187.6 265.5" stroke="#222" stroke-width="0.45"/><circle cx="187.6" cy="198.9" r="0.8" fill="#111"/><circle cx="187.6" cy="265.2" r="0.8" fill="#111"/><path d="M191.87 182.25L189.55 184.57L186.25 184.57L183.93 182.25L183.93 178.95L186.25 176.63L189.55 176.63L191.87 178.95Z" stroke="#222" stroke-width="0.45" fill="#fff"/><text x="187.9" y="181.7" font-size="2.9" text-anchor="middle">FL2</text><path d="M193.3 60L193.3 389.2" stroke="#333" stroke-width="0.45" stroke-dasharray="7 1.2 1.2 1.2"/><path d="M208.8 56.5L208.8 200" stroke="#333" stroke-width="0.4" stroke-dasharray="5 1.2 1.2 1.2"/><text x="208.8" y="55.8" font-size="4.2" text-anchor="middle">℄</text><circle cx="193.3" cy="52.5" r="7.5" stroke="#222" stroke-width="0.5" fill="#fff"/><text x="193.3" y="54.6" font-size="5.8" text-anchor="middle" font-weight="bold">A</text><path d="M101.9 73L101.9 98.3" stroke="#333" stroke-width="0.4"/><path d="M113.7 73L113.7 137.6" stroke="#222" stroke-width="0.5"/><path d="M99.7 75.9L115.9 75.9" stroke="#333" stroke-width="0.4"/><path d="M100.3 77.5L103.5 74.3" stroke="#111" stroke-width="0.7"/><path d="M112.1 77.5L115.3 74.3" stroke="#111" stroke-width="0.7"/><text x="107.8" y="74.1" font-size="4" text-anchor="middle">75</text><path d="M111.5 75.9L195.5 75.9" stroke="#333" stroke-width="0.4"/><path d="M112.1 77.5L115.3 74.3" stroke="#111" stroke-width="0.7"/><path d="M191.7 77.5L194.9 74.3" stroke="#111" stroke-width="0.7"/><text x="153.5" y="74.1" font-size="4" text-anchor="middle">540</text><path d="M191.1 75.9L211 75.9" stroke="#333" stroke-width="0.4"/><path d="M191.7 77.5L194.9 74.3" stroke="#111" stroke-width="0.7"/><path d="M207.2 77.5L210.4 74.3" stroke="#111" stroke-width="0.7"/><text x="201.05" y="74.1" font-size="4" text-anchor="middle">105</text><path d="M159.8 87.4L211 87.4" stroke="#333" stroke-width="0.4"/><path d="M160.4 89L163.6 85.8" stroke="#111" stroke-width="0.7"/><path d="M207.2 89L210.4 85.8" stroke="#111" stroke-width="0.7"/><text x="185.4" y="85.6" font-size="4" text-anchor="middle">eq.</text><path d="M206.6 87.4L257.7 87.4" stroke="#333" stroke-width="0.4"/><path d="M207.2 89L210.4 85.8" stroke="#111" stroke-width="0.7"/><path d="M253.9 89L257.1 85.8" stroke="#111" stroke-width="0.7"/><text x="232.15" y="85.6" font-size="4" text-anchor="middle">eq.</text><path d="M132 137.6L181 137.6" stroke="#333" stroke-width="0.4"/><path d="M176.7 135.4L176.7 201.1" stroke="#333" stroke-width="0.4"/><path d="M175.1 139.2L178.3 136" stroke="#111" stroke-width="0.7"/><path d="M175.1 200.5L178.3 197.3" stroke="#111" stroke-width="0.7"/><text x="173.6" y="168.25" font-size="4" text-anchor="middle" transform="rotate(-90 173.6 168.25)">415</text><path d="M60.6 154.1L89.3 154.1" stroke="#333" stroke-width="0.4"/><path d="M63.2 151.9L63.2 201.1" stroke="#333" stroke-width="0.4"/><path d="M61.6 155.7L64.8 152.5" stroke="#111" stroke-width="0.7"/><path d="M61.6 200.5L64.8 197.3" stroke="#111" stroke-width="0.7"/><text x="61.8" y="176.5" font-size="4" text-anchor="middle" transform="rotate(-90 61.8 176.5)">300</text><text x="67.8" y="176.5" font-size="3" text-anchor="middle" transform="rotate(-90 67.8 176.5)">min.</text><circle cx="63.2" cy="154.1" r="0.8" fill="#111"/><circle cx="63.2" cy="198.9" r="0.8" fill="#111"/><path d="M191.8 194.7L256.5 194.7" stroke="#333" stroke-width="0.4"/><path d="M191.7 196.3L194.9 193.1" stroke="#111" stroke-width="0.7"/><path d="M253.4 196.3L256.6 193.1" stroke="#111" stroke-width="0.7"/><text x="224.15" y="192.9" font-size="4" text-anchor="middle">420</text><path d="M76.7 147.8L156.7 147.8" stroke="#333" stroke-width="0.4"/><circle cx="90" cy="147.8" r="0.8" fill="#111"/><circle cx="156.7" cy="147.8" r="0.8" fill="#111"/><path d="M67.3 147.8L69.2 144.6L75 144.6L76.9 147.8L75 151L69.2 151Z" stroke="#222" stroke-width="0.45" fill="#fff"/><text x="72.1" y="149.1" font-size="3.7" text-anchor="middle">W2</text><path d="M115.4 317.8L196.5 317.8" stroke="#333" stroke-width="0.4"/><circle cx="115.4" cy="317.8" r="0.8" fill="#111"/><circle cx="178" cy="317.8" r="0.8" fill="#111"/><path d="M196.4 317.8L198.3 314.6L204.1 314.6L206 317.8L204.1 321L198.3 321Z" stroke="#222" stroke-width="0.45" fill="#fff"/><text x="201.2" y="319.1" font-size="3.7" text-anchor="middle">W4</text><path d="M176.2 342.5L195.1 342.5" stroke="#333" stroke-width="0.4"/><path d="M176.4 344.1L179.6 340.9" stroke="#111" stroke-width="0.7"/><path d="M191.7 344.1L194.9 340.9" stroke="#111" stroke-width="0.7"/><text x="185.65" y="340.7" font-size="4" text-anchor="middle">105</text><path d="M132 363L132 374" stroke="#333" stroke-width="0.4" stroke-dasharray="1.6 1.2"/><path d="M129.8 370L195.5 370" stroke="#333" stroke-width="0.4"/><path d="M130.4 371.6L133.6 368.4" stroke="#111" stroke-width="0.7"/><path d="M191.7 371.6L194.9 368.4" stroke="#111" stroke-width="0.7"/><text x="189.3" y="377.25" font-size="3.9" text-anchor="end" font-weight="bold">DIM VARIES:</text><text font-size="4.15" text-anchor="end"><tspan x="189.3" y="381.35">FILL IN CONCRETE TO FACE OF</tspan><tspan x="189.3" y="385.5">SCRAPED SECANT PILE WALL</tspan></text><path d="M124 268L132.5 262" stroke="#333" stroke-width="0.4"/><path d="M135 289L143.5 283" stroke="#333" stroke-width="0.4"/><path d="M131.5 263.5L142 282.5" stroke="#333" stroke-width="0.4"/><path d="M131.5 263.5L133.47 265.84L132.42 266.42Z" stroke="none" fill="#111"/><path d="M142 282.5L140.04 280.15L141.09 279.58Z" stroke="none" fill="#111"/><text x="140.5" y="273" font-size="3" text-anchor="middle" transform="rotate(62 140.5 273)">45.00°</text><path d="M162.5 125L325 125" stroke="#333" stroke-width="0.45" stroke-dasharray="7 1.2 1.2 1.2"/><path d="M305.5 125A9.75 8.5 0 0 1 325 125Z" stroke="#222" stroke-width="0.5" fill="#fff"/><text x="315.25" y="123" font-size="3.8" text-anchor="middle">500</text><text x="302" y="122.8" font-size="4.15" text-anchor="end">T/O SILL</text><path d="M255.5 198.9L325 198.9" stroke="#333" stroke-width="0.45" stroke-dasharray="7 1.2 1.2 1.2"/><path d="M305.5 198.9A9.75 8.5 0 0 1 325 198.9Z" stroke="#222" stroke-width="0.5" fill="#fff"/><text x="315.25" y="196.9" font-size="3.8" text-anchor="middle">0</text><text x="302" y="196.7" font-size="4.15" text-anchor="end">T/O LEVEL 1</text><text x="52.4" y="139.85" font-size="3.9" font-weight="bold">EXTERIOR</text><text x="288" y="87.6" font-size="3.7" text-anchor="middle" font-weight="bold">STUDENT</text><text x="288" y="91.7" font-size="3.7" text-anchor="middle" font-weight="bold">INTERACTION</text><text x="288" y="95.8" font-size="3.7" text-anchor="middle" font-weight="bold">SPACE</text><rect x="283.25" y="98" width="9.5" height="4.6" stroke="#222" stroke-width="0.4" fill="none"/><text x="288" y="101.7" font-size="3.5" text-anchor="middle">115</text><text x="265.8" y="111.95" font-size="4.15">GLULAM COLUMN</text><path d="M263.5 110.5L260 110.5L255.7 105.2" stroke="#222" stroke-width="0.5" fill="none"/><path d="M255.7 105.2L258.72 107.9L257.72 108.72Z" stroke="none" fill="#111"/><text x="265.8" y="131.25" font-size="4.15">CONC-A BASE</text><path d="M263.5 129.8L260 129.8L241.3 135" stroke="#222" stroke-width="0.5" fill="none"/><path d="M241.3 135L244.98 133.3L245.33 134.55Z" stroke="none" fill="#111"/><text x="265.8" y="137.95" font-size="4.15">WD-3</text><path d="M263.5 136.5L258 136.5L157.5 193.8" stroke="#222" stroke-width="0.5" fill="none"/><path d="M157.5 193.8L160.65 191.25L161.3 192.38Z" stroke="none" fill="#111"/><text font-size="4.15"><tspan x="265.8" y="144.25">DASHED LINE INDICATES</tspan><tspan x="265.8" y="148.4">ROUTING OF SUPPLY PIPES</tspan><tspan x="265.8" y="152.55">FOR NFHB WHERE</tspan><tspan x="265.8" y="156.7">APPLICABLE.</tspan></text><path d="M263.5 142.8L258 142.8L182.5 215.5" stroke="#222" stroke-width="0.5" fill="none"/><path d="M182.5 215.5L184.93 212.26L185.83 213.19Z" stroke="none" fill="#111"/><text font-size="4.15"><tspan x="265.8" y="164.75">TRENCH HEATING EMBEDDED</tspan><tspan x="265.8" y="168.9">INTO CONCRETE TOPPING.</tspan><tspan x="265.8" y="173.05">REFER TO MECH.</tspan><tspan x="265.8" y="177.2">ENSURE FINISHED HEIGHT OF</tspan><tspan x="265.8" y="181.35">GRILLE IS FLUSH WITH</tspan><tspan x="265.8" y="185.5">FINISHED FLOOR</tspan></text><path d="M263.5 163.3L260 163.3L243.8 198.8" stroke="#222" stroke-width="0.5" fill="none"/><path d="M243.8 198.8L244.87 194.89L246.05 195.43Z" stroke="none" fill="#111"/><text font-size="4.15"><tspan x="273" y="241.45">DRAINAGE MAT TO EXTEND</tspan><tspan x="273" y="245.6">300mm MIN. ABOVE GRADE</tspan><tspan x="273" y="249.75">(TYP.). REFER TO GEOTECH</tspan></text><path d="M271 240L266 240L114 220.3" stroke="#222" stroke-width="0.5" fill="none"/><path d="M114 220.3L118.05 220.17L117.88 221.46Z" stroke="none" fill="#111"/><text font-size="4.15"><tspan x="273" y="258.05">VAPOUR BARRIER APPLIED</tspan><tspan x="273" y="262.2">ON DRAINAGE MAT</tspan><tspan x="273" y="266.35">INSULATION PLANE. REFER</tspan><tspan x="273" y="270.5">TO GEOTECH</tspan></text><path d="M271 256.6L266 256.6L113.5 236" stroke="#222" stroke-width="0.5" fill="none"/><path d="M113.5 236L117.55 235.89L117.38 237.18Z" stroke="none" fill="#111"/><text font-size="4.15"><tspan x="273" y="278.05">TRANSITION DRAINAGE</tspan><tspan x="273" y="282.2">MAT TO OUTBOARD FACE</tspan><tspan x="273" y="286.35">OF INSULATION PLANE AT</tspan><tspan x="273" y="290.5">CHAMFERED EDGE OF</tspan><tspan x="273" y="294.65">CONCRETE</tspan></text><path d="M271 276.6L266 276.6L114 260.4" stroke="#222" stroke-width="0.5" fill="none"/><path d="M114 260.4L118.05 260.18L117.91 261.47Z" stroke="none" fill="#111"/><text font-size="4.15"><tspan x="265.8" y="315.75">CHAMFER CANTILEVER EDGE</tspan><tspan x="265.8" y="319.9">OF CONCRETE.</tspan><tspan x="265.8" y="324.05">REFER TO STRUCT.</tspan></text><path d="M263.5 314.3L258 314.3L134 285.5" stroke="#222" stroke-width="0.5" fill="none"/><path d="M134 285.5L138.04 285.77L137.75 287.04Z" stroke="none" fill="#111"/><text x="265.8" y="334.75" font-size="4.15">CONCRETE COLUMN</text><path d="M263.5 333.3L260 333.3L224.5 343.6" stroke="#222" stroke-width="0.5" fill="none"/><path d="M224.5 343.6L228.16 341.86L228.52 343.11Z" stroke="none" fill="#111"/></g><g id="p2"><path d="M161.6 606.8L192.7 606.8L192.7 628.1L267.7 628.1L267.7 672.1L225 672.1L225 693.5L177.3 693.5L177.3 747.5L133.5 747.5L133.5 648.2L161.6 648.2Z" stroke="none" fill="url(#conc)"/><rect x="177.3" y="693.5" width="47" height="54" stroke="none" fill="url(#lconc)"/><rect x="73.7" y="625.5" width="39.3" height="27.9" stroke="none" fill="url(#conc)"/><rect x="73.7" y="660.5" width="41.9" height="87" stroke="none" fill="url(#stone)"/><rect x="73.7" y="606.8" width="75.6" height="15.5" stroke="none" fill="url(#pav)"/><rect x="192.7" y="612.6" width="75" height="7.8" stroke="none" fill="url(#conc)"/><rect x="73.7" y="606.8" width="75.6" height="15.5" stroke="#222" stroke-width="0.5" fill="none"/><path d="M73.7 625.5L129.9 625.5" stroke="#222" stroke-width="0.5" fill="none"/><path d="M73.7 623.6L149.3 623.6" stroke="#222" stroke-width="0.45"/><rect x="73.7" y="625.5" width="39.3" height="27.9" stroke="#222" stroke-width="0.5" fill="none"/><rect x="73.7" y="653.4" width="41.9" height="7.1" stroke="#222" stroke-width="0.45" fill="#fff"/><path d="M75.1 660.5V655.67H77.9V660.5M80.7 660.5V655.67H83.5V660.5M86.3 660.5V655.67H89.1V660.5M91.9 660.5V655.67H94.7V660.5M97.5 660.5V655.67H100.3V660.5M103.1 660.5V655.67H105.9V660.5M108.7 660.5V655.67H111.5V660.5" stroke="#222" stroke-width="0.5" fill="none"/><path d="M115.6 625.5L115.6 747.5" stroke="#222" stroke-width="0.5"/><path d="M119 632H126.5M119 639.75H126.5M119 647.5H126.5M119 655.25H126.5M119 663H126.5M119 670.75H126.5M119 678.5H126.5M119 686.25H126.5M119 694H126.5M119 701.75H126.5M119 709.5H126.5M119 717.25H126.5M119 725H126.5M119 732.75H126.5M119 740.5H126.5" stroke="#333" stroke-width="0.4" fill="none"/><rect x="129.2" y="625.5" width="4.3" height="122" stroke="#222" stroke-width="0.4" fill="#fff"/><path d="M131.3 625.5L131.3 747.5" stroke="#111" stroke-width="1.3"/><path d="M131.3 625.5L131.3 747.5" stroke="#fff" stroke-width="0.45" stroke-dasharray="1.6 1.2"/><rect x="133.5" y="623.6" width="26.2" height="23.9" stroke="#222" stroke-width="0.45" fill="#fff"/><path d="M135.1 629.58V625.51H138.3V629.58M141.5 629.58V625.51H144.7V629.58M147.9 629.58V625.51H151.1V629.58M154.3 629.58V625.51H157.5V629.58M133.5 629.58H159.7M138.3 635.55V631.49H141.5V635.55M144.7 635.55V631.49H147.9V635.55M151.1 635.55V631.49H154.3V635.55M133.5 635.55H159.7M135.1 641.52V637.46H138.3V641.52M141.5 641.52V637.46H144.7V641.52M147.9 641.52V637.46H151.1V641.52M154.3 641.52V637.46H157.5V641.52M133.5 641.52H159.7M138.3 647.5V643.44H141.5V647.5M144.7 647.5V643.44H147.9V647.5M151.1 647.5V643.44H154.3V647.5" stroke="#222" stroke-width="0.5" fill="none"/><rect x="150.6" y="606.8" width="9.1" height="16.8" stroke="#222" stroke-width="0.45" fill="#fff"/><path d="M152.2 609.02H158.1M152.2 612.72H158.1M152.2 616.42H158.1M152.2 620.12H158.1" stroke="#777" stroke-width="0.6" fill="none"/><path d="M150.6 606.8L161.8 606.8L161.8 648.2L133.5 648.2" stroke="#111" stroke-width="1.5" fill="none"/><path d="M150.6 606.8L150.6 623.6L133.5 623.6" stroke="#111" stroke-width="0.9" fill="none"/><rect x="134.5" y="642.2" width="26" height="4.6" stroke="none" fill="#fff"/><text x="147.3" y="645.9" font-size="3.3" text-anchor="middle">2% slope min</text><path d="M135 646.9L159.6 646.9" stroke="#222" stroke-width="0.35"/><path d="M134.5 641.5L137.5 640.8L137.5 642.2Z" stroke="none" fill="#111"/><path d="M161.8 606.8L192.7 606.8" stroke="#222" stroke-width="0.6" fill="none"/><path d="M192.7 606.3L192.7 628.1" stroke="#111" stroke-width="0.9"/><path d="M171.5 607L171.5 648" stroke="#333" stroke-width="0.4"/><rect x="192.7" y="606.3" width="75" height="6.3" stroke="none" fill="#fff"/><path d="M192.7 607L267.7 607" stroke="#111" stroke-width="1.3"/><path d="M195.5 607.3V610.4M194.1 612L195.5 610L196.9 612ZM201.1 607.3V610.4M199.7 612L201.1 610L202.5 612ZM206.7 607.3V610.4M205.3 612L206.7 610L208.1 612ZM212.3 607.3V610.4M210.9 612L212.3 610L213.7 612ZM217.9 607.3V610.4M216.5 612L217.9 610L219.3 612ZM223.5 607.3V610.4M222.1 612L223.5 610L224.9 612ZM229.1 607.3V610.4M227.7 612L229.1 610L230.5 612ZM234.7 607.3V610.4M233.3 612L234.7 610L236.1 612ZM240.3 607.3V610.4M238.9 612L240.3 610L241.7 612ZM245.9 607.3V610.4M244.5 612L245.9 610L247.3 612ZM251.5 607.3V610.4M250.1 612L251.5 610L252.9 612ZM257.1 607.3V610.4M255.7 612L257.1 610L258.5 612ZM262.7 607.3V610.4M261.3 612L262.7 610L264.1 612Z" stroke="#111" stroke-width="0.55" fill="#111"/><path d="M192.7 612.6L267.7 612.6" stroke="#222" stroke-width="0.5"/><path d="M192.7 620.4L267.7 620.4" stroke="#222" stroke-width="0.5"/><rect x="192.7" y="620.4" width="75" height="7.7" stroke="#222" stroke-width="0.45" fill="#fff"/><path d="M194.1 628.1V622.86H196.9V628.1M199.7 628.1V622.86H202.5V628.1M205.3 628.1V622.86H208.1V628.1M210.9 628.1V622.86H213.7V628.1M216.5 628.1V622.86H219.3V628.1M222.1 628.1V622.86H224.9V628.1M227.7 628.1V622.86H230.5V628.1M233.3 628.1V622.86H236.1V628.1M238.9 628.1V622.86H241.7V628.1M244.5 628.1V622.86H247.3V628.1M250.1 628.1V622.86H252.9V628.1M255.7 628.1V622.86H258.5V628.1M261.3 628.1V622.86H264.1V628.1" stroke="#222" stroke-width="0.5" fill="none"/><path d="M192.7 628.1L267.7 628.1" stroke="#222" stroke-width="0.6"/><path d="M267.7 600.3L267.7 672.1" stroke="#222" stroke-width="0.45"/><path d="M267.7 635.8L264.62 637.12L270.78 638.88L267.7 640.2" stroke="#222" stroke-width="0.45" fill="#fff"/><path d="M267.7 672.1L225 672.1" stroke="#222" stroke-width="0.55" fill="none"/><path d="M224.3 672.1L224.3 747.5" stroke="#222" stroke-width="0.5"/><path d="M177.3 693.5L242 693.5" stroke="#222" stroke-width="0.5"/><path d="M177.3 693.5L177.3 747.5" stroke="#222" stroke-width="0.5"/><path d="M73.7 747.5L207.5 747.5" stroke="#222" stroke-width="0.45"/><path d="M138.7 747.5L140.26 743.86L142.34 751.14L143.9 747.5" stroke="#222" stroke-width="0.45" fill="#fff"/><path d="M73.7 570.5L73.7 660.5" stroke="#222" stroke-width="0.45"/><path d="M125 483.3L231.3 483.3" stroke="#222" stroke-width="0.45"/><path d="M175.4 483.3L176.96 479.66L179.04 486.94L180.6 483.3" stroke="#222" stroke-width="0.45" fill="#fff"/><path d="M125.2 483.3L125.2 606.3" stroke="#222" stroke-width="0.45"/><path d="M150.7 483.3L150.7 606.3" stroke="#222" stroke-width="0.45"/><path d="M157 483.3L157 585" stroke="#111" stroke-width="0.9"/><path d="M160 483.3L160 585" stroke="#222" stroke-width="0.5"/><path d="M191.4 483.3L191.4 606.3" stroke="#222" stroke-width="0.5"/><path d="M156.4 585L155 588.5L155 603L162 603L162 588.5L160.6 585Z" stroke="#111" stroke-width="0.7" fill="#fff"/><path d="M155 599L162 599" stroke="#222" stroke-width="0.4"/><path d="M155 595L162 595" stroke="#222" stroke-width="0.4"/><rect x="142" y="603.2" width="50.7" height="3.2" stroke="#111" stroke-width="0.8" fill="#fff"/><path d="M73.7 583.6L150.7 583.6" stroke="#555" stroke-width="0.45"/><path d="M73.7 585.6L150.7 585.6" stroke="#555" stroke-width="0.45"/><rect x="123" y="567.9" width="108.5" height="101.6" rx="2.5" stroke="#333" stroke-width="0.45" stroke-dasharray="1.6 1.2" fill="none"/><path d="M254.5 551.8L250 551.8L231.3 568.1" stroke="#222" stroke-width="0.45" fill="none"/><circle cx="261.8" cy="551.8" r="7.3" stroke="#222" stroke-width="0.45" fill="#fff"/><path d="M254.5 551.8L269.1 551.8" stroke="#222" stroke-width="0.4"/><text x="261.8" y="550.9" font-size="3.4" text-anchor="middle">3</text><text x="261.8" y="555.7" font-size="3.5" text-anchor="middle">A-552</text><path d="M193.3 446L193.3 774.2" stroke="#333" stroke-width="0.45" stroke-dasharray="7 1.2 1.2 1.2"/><circle cx="193.3" cy="438.3" r="7.5" stroke="#222" stroke-width="0.5" fill="#fff"/><text x="193.3" y="440.4" font-size="5.8" text-anchor="middle" font-weight="bold">A</text><path d="M160.7 593.4L194.2 593.4" stroke="#333" stroke-width="0.4"/><path d="M160.6 595L163.8 591.8" stroke="#111" stroke-width="0.7"/><path d="M191.1 595L194.3 591.8" stroke="#111" stroke-width="0.7"/><text x="177.45" y="591.6" font-size="4" text-anchor="middle">210</text><path d="M237.3 669.9L237.3 695.7" stroke="#333" stroke-width="0.4"/><path d="M235.7 673.7L238.9 670.5" stroke="#111" stroke-width="0.7"/><path d="M235.7 695.1L238.9 691.9" stroke="#111" stroke-width="0.7"/><text x="234.2" y="682.8" font-size="4" text-anchor="middle" transform="rotate(-90 234.2 682.8)">140</text><path d="M132.3 659.5L151.8 659.5" stroke="#333" stroke-width="0.4"/><path d="M131.9 661.1L135.1 657.9" stroke="#111" stroke-width="0.7"/><path d="M149 661.1L152.2 657.9" stroke="#111" stroke-width="0.7"/><text x="142.05" y="657.7" font-size="3.4" text-anchor="middle">100</text><path d="M175.7 738.3L195.1 738.3" stroke="#333" stroke-width="0.4"/><path d="M175.9 739.9L179.1 736.7" stroke="#111" stroke-width="0.7"/><path d="M191.7 739.9L194.9 736.7" stroke="#111" stroke-width="0.7"/><text x="185.4" y="736.5" font-size="4" text-anchor="middle">105</text><path d="M115.5 715L205.3 715" stroke="#333" stroke-width="0.4"/><circle cx="115.5" cy="715" r="0.8" fill="#111"/><circle cx="133.5" cy="715" r="0.8" fill="#111"/><circle cx="177.5" cy="715" r="0.8" fill="#111"/><path d="M205.2 715L207.1 711.8L212.9 711.8L214.8 715L212.9 718.2L207.1 718.2Z" stroke="#222" stroke-width="0.45" fill="#fff"/><text x="210" y="716.3" font-size="3.7" text-anchor="middle">W4</text><path d="M132.5 747.5L132.5 759" stroke="#333" stroke-width="0.4" stroke-dasharray="1.6 1.2"/><path d="M130.3 755L195.5 755" stroke="#333" stroke-width="0.4"/><path d="M130.9 756.6L134.1 753.4" stroke="#111" stroke-width="0.7"/><path d="M191.7 756.6L194.9 753.4" stroke="#111" stroke-width="0.7"/><text x="189.3" y="762.25" font-size="3.9" text-anchor="end" font-weight="bold">DIM VARIES:</text><text font-size="4.15" text-anchor="end"><tspan x="189.3" y="766.35">FILL IN CONCRETE TO FACE OF</tspan><tspan x="189.3" y="770.5">SCRAPED SECANT PILE WALL</tspan></text><path d="M73.7 584.5L325 584.5" stroke="#333" stroke-width="0.45" stroke-dasharray="7 1.2 1.2 1.2"/><path d="M305.5 584.5A9.75 8.5 0 0 1 325 584.5Z" stroke="#222" stroke-width="0.5" fill="#fff"/><text x="315.25" y="582.5" font-size="3.8" text-anchor="middle">0</text><text x="302" y="582.3" font-size="4.15" text-anchor="end">T/O LEVEL 1</text><path d="M73.7 606.1L325 606.1" stroke="#444" stroke-width="0.45" stroke-dasharray="2.4 1.4"/><path d="M305.5 606.3A9.75 8.5 0 0 1 325 606.3Z" stroke="#222" stroke-width="0.5" fill="#fff"/><text x="315.25" y="604.3" font-size="3.8" text-anchor="middle">-150</text><text x="302" y="604.1" font-size="4.15" text-anchor="end">T/O FFL</text><text x="89.5" y="490.95" font-size="4.15" text-anchor="end">MET-A9</text><path d="M91.5 489.5L96 489.5L104 491.5" stroke="#333" stroke-width="0.4" fill="none"/><path d="M112.5 494.6L108.52 493.84L108.96 492.62Z" stroke="none" fill="#111"/><text x="89.5" y="498.95" font-size="4.15" text-anchor="end">COMPRESSIBLE FILLER</text><path d="M91.5 497.5L96 497.5L144.5 604.6" stroke="#222" stroke-width="0.5" fill="none"/><path d="M144.5 604.6L142.26 601.22L143.44 600.69Z" stroke="none" fill="#111"/><text x="68.8" y="513.95" font-size="3.9" font-weight="bold">EXTERIOR</text><text font-size="4.15" text-anchor="end"><tspan x="89.5" y="527.45">CONCRETE PAVERS</tspan><tspan x="89.5" y="531.6">(REFER TO LANDSCAPE</tspan><tspan x="89.5" y="535.75">ARCH.)</tspan></text><path d="M91.5 526L96 526L135.8 605.8" stroke="#222" stroke-width="0.5" fill="none"/><path d="M135.8 605.8L133.43 602.51L134.6 601.93Z" stroke="none" fill="#111"/><text x="89.5" y="548.45" font-size="4.15" text-anchor="end">CONC-A</text><path d="M91.5 547L96 547L117.5 590.8" stroke="#222" stroke-width="0.5" fill="none"/><path d="M117.5 590.8L115.15 587.5L116.32 586.92Z" stroke="none" fill="#111"/><text font-size="4.15" text-anchor="end"><tspan x="89.5" y="558.95">INS-2 TYP. AT</tspan><tspan x="89.5" y="563.1">ENTRANCES</tspan></text><path d="M91.5 557.5L96 557.5L111.8 658.8" stroke="#222" stroke-width="0.5" fill="none"/><path d="M111.8 658.8L110.54 654.95L111.83 654.75Z" stroke="none" fill="#111"/><text font-size="4.15"><tspan x="265.8" y="500.75">CURTAIN WALL GLAZING</tspan><tspan x="265.8" y="504.9">SYSTEM</tspan></text><path d="M263.5 499.3L260 499.3L186.3 522" stroke="#222" stroke-width="0.5" fill="none"/><path d="M186.3 522L189.93 520.2L190.31 521.44Z" stroke="none" fill="#111"/><text x="265.8" y="518.25" font-size="4.15">GLAZED ALUMINUM DOOR</text><path d="M263.5 516.8L260 516.8L160.2 551.3" stroke="#222" stroke-width="0.5" fill="none"/><path d="M160.2 551.3L163.77 549.38L164.19 550.61Z" stroke="none" fill="#111"/><text x="219.5" y="542.9" font-size="3.7" text-anchor="middle" font-weight="bold">VEST</text><rect x="214.75" y="545.1" width="9.5" height="4.6" stroke="#222" stroke-width="0.4" fill="none"/><text x="219.5" y="548.8" font-size="3.5" text-anchor="middle">113</text><text font-size="4.15"><tspan x="265.8" y="566.75">FOOT GRILLE W/ METAL DRIP</tspan><tspan x="265.8" y="570.9">PAN</tspan></text><path d="M263.5 565.3L260 565.3L237 605.2" stroke="#222" stroke-width="0.5" fill="none"/><path d="M237 605.2L238.43 601.41L239.56 602.06Z" stroke="none" fill="#111"/><text font-size="4.15"><tspan x="265.8" y="718.75">VAPOUR BARRIER APPLIED ON</tspan><tspan x="265.8" y="722.9">DRAINAGE MAT.</tspan><tspan x="265.8" y="727.05">REFER TO GEOTECH</tspan></text><path d="M263.5 717.3L258 717.3L133.7 683.8" stroke="#222" stroke-width="0.5" fill="none"/><path d="M133.7 683.8L137.73 684.21L137.39 685.47Z" stroke="none" fill="#111"/><text x="265.8" y="741.45" font-size="4.15">CONCRETE COLUMN</text><path d="M263.5 740L260 740L224.5 731.3" stroke="#222" stroke-width="0.5" fill="none"/><path d="M224.5 731.3L228.54 731.62L228.23 732.88Z" stroke="none" fill="#111"/></g><g id="p5"><path d="M161.6 969.6L192 969.6L192 1013.2L267.7 1013.2L267.7 1057.8L225 1057.8L225 1078.5L177.5 1078.5L177.5 1132L133.8 1132L133.8 1033.9L161.6 1033.9Z" stroke="none" fill="url(#conc)"/><rect x="177.5" y="1078.5" width="47.1" height="53.5" stroke="none" fill="url(#lconc)"/><rect x="193.3" y="985.4" width="74.4" height="20.6" stroke="none" fill="url(#conc)"/><rect x="125.4" y="970.6" width="25.2" height="37.4" stroke="none" fill="url(#conc)"/><rect x="74.2" y="1010.6" width="38.8" height="27.2" stroke="none" fill="url(#conc)"/><rect x="74.2" y="1044.2" width="40.8" height="87.8" stroke="none" fill="url(#stone)"/><rect x="74.2" y="991.8" width="49.8" height="14.9" stroke="none" fill="url(#pav)"/><rect x="74.2" y="991.8" width="49.8" height="14.9" stroke="#222" stroke-width="0.5" fill="none"/><path d="M125.4 970.6L125.4 1008L150.6 1008L150.6 970.6" stroke="#222" stroke-width="0.6" fill="none"/><path d="M128 979L160 979" stroke="#444" stroke-width="0.4" stroke-dasharray="1.2 1"/><path d="M128 995L160 995" stroke="#444" stroke-width="0.4" stroke-dasharray="1.2 1"/><rect x="74.2" y="1010.6" width="38.8" height="27.2" stroke="#222" stroke-width="0.5" fill="none"/><path d="M74.2 1008.6L129.2 1008.6" stroke="#222" stroke-width="0.45"/><rect x="74.2" y="1037.8" width="40.8" height="6.4" stroke="#222" stroke-width="0.45" fill="#fff"/><path d="M75.6 1044.2V1039.85H78.4V1044.2M81.2 1044.2V1039.85H84V1044.2M86.8 1044.2V1039.85H89.6V1044.2M92.4 1044.2V1039.85H95.2V1044.2M98 1044.2V1039.85H100.8V1044.2M103.6 1044.2V1039.85H106.4V1044.2M109.2 1044.2V1039.85H112V1044.2" stroke="#222" stroke-width="0.5" fill="none"/><path d="M115 1010.6L115 1132" stroke="#222" stroke-width="0.5"/><path d="M119 1018H126.5M119 1025.75H126.5M119 1033.5H126.5M119 1041.25H126.5M119 1049H126.5M119 1056.75H126.5M119 1064.5H126.5M119 1072.25H126.5M119 1080H126.5M119 1087.75H126.5M119 1095.5H126.5M119 1103.25H126.5M119 1111H126.5M119 1118.75H126.5M119 1126.5H126.5" stroke="#333" stroke-width="0.4" fill="none"/><rect x="129.2" y="1010.6" width="4.6" height="121.4" stroke="#222" stroke-width="0.4" fill="#fff"/><path d="M131.5 1010.6L131.5 1132" stroke="#111" stroke-width="1.3"/><path d="M131.5 1010.6L131.5 1132" stroke="#fff" stroke-width="0.45" stroke-dasharray="1.6 1.2"/><rect x="133.8" y="1010.6" width="19.4" height="16.4" stroke="#222" stroke-width="0.45" fill="#fff"/><path d="M135.4 1016.07V1012.35H138.6V1016.07M141.8 1016.07V1012.35H145V1016.07M148.2 1016.07V1012.35H151.4V1016.07M133.8 1016.07H153.2M138.6 1021.53V1017.82H141.8V1021.53M145 1021.53V1017.82H148.2V1021.53M133.8 1021.53H153.2M135.4 1027V1023.28H138.6V1027M141.8 1027V1023.28H145V1027M148.2 1027V1023.28H151.4V1027" stroke="#222" stroke-width="0.5" fill="none"/><rect x="152.5" y="969.6" width="9.1" height="64.3" stroke="#222" stroke-width="0.45" fill="#fff"/><path d="M154.1 971.82H160M154.1 975.52H160M154.1 979.22H160M154.1 982.92H160M154.1 986.62H160M154.1 990.32H160M154.1 994.02H160M154.1 997.72H160M154.1 1001.42H160M154.1 1005.12H160M154.1 1008.82H160M154.1 1012.52H160M154.1 1016.22H160M154.1 1019.92H160M154.1 1023.62H160M154.1 1027.32H160M154.1 1031.02H160" stroke="#777" stroke-width="0.6" fill="none"/><path d="M161.8 969.6L161.8 1034.2L133.8 1034.2" stroke="#111" stroke-width="1.5" fill="none"/><path d="M152.5 969.6L152.5 1010.6L133.8 1010.6" stroke="#111" stroke-width="0.9" fill="none"/><rect x="134.6" y="1027.6" width="26" height="5.2" stroke="none" fill="#fff"/><text x="147.6" y="1031.7" font-size="3.3" text-anchor="middle">2% slope min</text><path d="M135.3 1032.7L159.8 1032.7" stroke="#222" stroke-width="0.35"/><path d="M134.5 1026.6L137.5 1025.9L137.5 1027.3Z" stroke="none" fill="#111"/><path d="M192.6 985L192.6 1013.2" stroke="#111" stroke-width="0.9"/><path d="M193.3 985.4L267.7 985.4" stroke="#222" stroke-width="0.55"/><path d="M193.3 1006L267.7 1006" stroke="#222" stroke-width="0.5"/><rect x="193.3" y="1006" width="74.4" height="7.2" stroke="#222" stroke-width="0.45" fill="#fff"/><path d="M194.7 1013.2V1008.3H197.5V1013.2M200.3 1013.2V1008.3H203.1V1013.2M205.9 1013.2V1008.3H208.7V1013.2M211.5 1013.2V1008.3H214.3V1013.2M217.1 1013.2V1008.3H219.9V1013.2M222.7 1013.2V1008.3H225.5V1013.2M228.3 1013.2V1008.3H231.1V1013.2M233.9 1013.2V1008.3H236.7V1013.2M239.5 1013.2V1008.3H242.3V1013.2M245.1 1013.2V1008.3H247.9V1013.2M250.7 1013.2V1008.3H253.5V1013.2M256.3 1013.2V1008.3H259.1V1013.2M261.9 1013.2V1008.3H264.7V1013.2" stroke="#222" stroke-width="0.5" fill="none"/><path d="M192 1013.2L267.7 1013.2" stroke="#222" stroke-width="0.6"/><path d="M268.4 977L268.4 1083.8" stroke="#222" stroke-width="0.45"/><path d="M268.4 1027.2L265.32 1028.52L271.48 1030.28L268.4 1031.6" stroke="#222" stroke-width="0.45" fill="#fff"/><path d="M225 1057.8L268.4 1057.8" stroke="#222" stroke-width="0.55"/><path d="M224.6 1057.8L224.6 1132" stroke="#222" stroke-width="0.5"/><path d="M177.5 1078.5L242 1078.5" stroke="#222" stroke-width="0.5"/><path d="M177.5 1078.5L177.5 1132" stroke="#222" stroke-width="0.5"/><path d="M75 1132L230 1132" stroke="#222" stroke-width="0.45"/><path d="M150.4 1132L151.96 1128.36L154.04 1135.64L155.6 1132" stroke="#222" stroke-width="0.45" fill="#fff"/><path d="M75 962.5L75 1044.2" stroke="#222" stroke-width="0.45"/><path d="M117 871.8L200.8 871.8" stroke="#222" stroke-width="0.45"/><path d="M125 871.8L125 969.6" stroke="#222" stroke-width="0.45"/><path d="M150.8 871.8L150.8 969.6" stroke="#222" stroke-width="0.45"/><path d="M154.5 870L154.5 957.5" stroke="#222" stroke-width="0.55"/><path d="M156.4 870L156.4 957.5" stroke="#222" stroke-width="0.55"/><path d="M158.2 870L158.2 957.5" stroke="#222" stroke-width="0.55"/><path d="M160 870L160 957.5" stroke="#222" stroke-width="0.55"/><path d="M154.5 870L157.2 866.8L160 870" stroke="#222" stroke-width="0.5" fill="none"/><path d="M162 846L162 957.5" stroke="#333" stroke-width="0.4"/><path d="M191.3 871.8L191.3 969.6" stroke="#222" stroke-width="0.5"/><rect x="150.8" y="957.5" width="40.5" height="10.1" stroke="#111" stroke-width="0.6" fill="#fff"/><rect x="151.5" y="958.2" width="10" height="11" stroke="#111" stroke-width="1.0" fill="#fff"/><rect x="153.5" y="960" width="6" height="6.5" stroke="#222" stroke-width="0.5" fill="none"/><path d="M162 967.8L191.3 967.8" stroke="#111" stroke-width="1.2"/><path d="M75 969.6L150.8 969.6" stroke="#222" stroke-width="0.5"/><path d="M75 972L125 972" stroke="#444" stroke-width="0.45"/><path d="M125 969.6L150.8 970.8" stroke="#111" stroke-width="0.8" fill="none"/><path d="M193.3 831L193.3 1158.2" stroke="#333" stroke-width="0.45" stroke-dasharray="7 1.2 1.2 1.2"/><circle cx="193.3" cy="823.3" r="7.5" stroke="#222" stroke-width="0.5" fill="#fff"/><text x="193.3" y="825.4" font-size="5.8" text-anchor="middle" font-weight="bold">A</text><path d="M160.5 849.3L194.8 849.3" stroke="#333" stroke-width="0.4"/><path d="M160.4 850.9L163.6 847.7" stroke="#111" stroke-width="0.7"/><path d="M191.7 850.9L194.9 847.7" stroke="#111" stroke-width="0.7"/><text x="177.65" y="847.5" font-size="4" text-anchor="middle">210</text><path d="M237.3 1055.6L237.3 1080.7" stroke="#333" stroke-width="0.4"/><path d="M235.7 1059.4L238.9 1056.2" stroke="#111" stroke-width="0.7"/><path d="M235.7 1080.1L238.9 1076.9" stroke="#111" stroke-width="0.7"/><text x="234.2" y="1068.15" font-size="4" text-anchor="middle" transform="rotate(-90 234.2 1068.15)">140</text><path d="M175.7 1117L195.1 1117" stroke="#333" stroke-width="0.4"/><path d="M175.9 1118.6L179.1 1115.4" stroke="#111" stroke-width="0.7"/><path d="M191.7 1118.6L194.9 1115.4" stroke="#111" stroke-width="0.7"/><text x="185.4" y="1115.2" font-size="4" text-anchor="middle">105</text><path d="M115 1102.7L206 1102.7" stroke="#333" stroke-width="0.4"/><circle cx="115.3" cy="1102.7" r="0.8" fill="#111"/><circle cx="133.5" cy="1102.7" r="0.8" fill="#111"/><circle cx="177.5" cy="1102.7" r="0.8" fill="#111"/><path d="M206 1102.7L207.9 1099.5L213.7 1099.5L215.6 1102.7L213.7 1105.9L207.9 1105.9Z" stroke="#222" stroke-width="0.45" fill="#fff"/><text x="210.8" y="1104" font-size="3.7" text-anchor="middle">W4</text><path d="M132.5 1132L132.5 1143.5" stroke="#333" stroke-width="0.4" stroke-dasharray="1.6 1.2"/><path d="M130.3 1139.5L195.5 1139.5" stroke="#333" stroke-width="0.4"/><path d="M130.9 1141.1L134.1 1137.9" stroke="#111" stroke-width="0.7"/><path d="M191.7 1141.1L194.9 1137.9" stroke="#111" stroke-width="0.7"/><text x="189.3" y="1147.75" font-size="3.9" text-anchor="end" font-weight="bold">DIM VARIES:</text><text font-size="4.15" text-anchor="end"><tspan x="189.3" y="1151.85">FILL IN CONCRETE TO FACE OF</tspan><tspan x="189.3" y="1156">SCRAPED SECANT PILE WALL</tspan></text><path d="M258 962L258 1057.8" stroke="#222" stroke-width="0.45"/><circle cx="258" cy="985.4" r="0.8" fill="#111"/><circle cx="258" cy="1057.8" r="0.8" fill="#111"/><path d="M262.27 959.85L259.95 962.17L256.65 962.17L254.33 959.85L254.33 956.55L256.65 954.23L259.95 954.23L262.27 956.55Z" stroke="#222" stroke-width="0.45" fill="#fff"/><text x="258.3" y="959.3" font-size="2.9" text-anchor="middle">FL2</text><path d="M193.3 969.6L325 969.6" stroke="#333" stroke-width="0.45" stroke-dasharray="7 1.2 1.2 1.2"/><path d="M305.5 969.6A9.75 8.5 0 0 1 325 969.6Z" stroke="#222" stroke-width="0.5" fill="#fff"/><text x="315.25" y="967.6" font-size="3.8" text-anchor="middle">0</text><text x="302" y="967.4" font-size="4.15" text-anchor="end">T/O LEVEL 1</text><text x="70" y="862.75" font-size="3.9" font-weight="bold">EXTERIOR</text><text x="90.8" y="872.95" font-size="4.15" text-anchor="end">MET-A9 CLADDING</text><path d="M92.8 871.5L97 871.5L133 908.8" stroke="#222" stroke-width="0.5" fill="none"/><path d="M133 908.8L129.75 906.37L130.69 905.47Z" stroke="none" fill="#111"/><text x="90.8" y="880.75" font-size="4.15" text-anchor="end">MET-A10</text><path d="M92.8 879.3L97 879.3L149.5 966.3" stroke="#222" stroke-width="0.5" fill="none"/><path d="M149.5 966.3L146.88 963.21L147.99 962.54Z" stroke="none" fill="#111"/><text font-size="4.15" text-anchor="end"><tspan x="90.8" y="898.95">PROVIDE SHIM</tspan><tspan x="90.8" y="903.1">UNDERNEATH ALUMINUM</tspan><tspan x="90.8" y="907.25">FLASHING TO ALLOW</tspan><tspan x="90.8" y="911.4">6mm MIN. CONTINUOUS</tspan><tspan x="90.8" y="915.55">AIRGAP. COMPLETE WITH</tspan><tspan x="90.8" y="919.7">INSECT SCREEN.</tspan></text><path d="M92.8 897.5L97 897.5L145.8 968.3" stroke="#222" stroke-width="0.5" fill="none"/><path d="M145.8 968.3L142.99 965.38L144.07 964.64Z" stroke="none" fill="#111"/><text x="90.8" y="933.95" font-size="4.15" text-anchor="end">CONCRETE CLADDING</text><path d="M92.8 932.5L97 932.5L125 980" stroke="#222" stroke-width="0.5" fill="none"/><path d="M125 980L122.41 976.88L123.53 976.22Z" stroke="none" fill="#111"/><text x="90.8" y="940.95" font-size="4.15" text-anchor="end">COMPRESSIBLE FILLER</text><path d="M92.8 939.5L97 939.5L123.3 991.3" stroke="#222" stroke-width="0.5" fill="none"/><path d="M123.3 991.3L120.91 988.03L122.07 987.44Z" stroke="none" fill="#111"/><text font-size="4.15" text-anchor="end"><tspan x="90.8" y="949.75">CONCRETE PAVERS</tspan><tspan x="90.8" y="953.9">(REFER TO</tspan><tspan x="90.8" y="958.05">LANDSCAPE ARCH.)</tspan></text><path d="M92.8 948.3L97 948.3L115.5 992" stroke="#222" stroke-width="0.5" fill="none"/><path d="M115.5 992L113.34 988.57L114.54 988.06Z" stroke="none" fill="#111"/><text font-size="4.15"><tspan x="40" y="1058.25">INS-2 TYP. AT</tspan><tspan x="40" y="1062.4">ENTRANCES</tspan></text><path d="M66.8 1056.8L72.5 1056.8L77.5 1046.3" stroke="#222" stroke-width="0.5" fill="none"/><path d="M77.5 1046.3L76.37 1050.19L75.19 1049.63Z" stroke="none" fill="#111"/><text font-size="4.15"><tspan x="265.8" y="885.75">CURTAIN WALL GLAZING</tspan><tspan x="265.8" y="889.9">SYSTEM</tspan></text><path d="M263.5 884.3L260 884.3L187.5 907" stroke="#222" stroke-width="0.5" fill="none"/><path d="M187.5 907L191.12 905.18L191.51 906.43Z" stroke="none" fill="#111"/><text x="265.8" y="912.25" font-size="4.15">BACKER ROD AND SEALANT</text><path d="M263.5 910.8L260 910.8L165 967.5" stroke="#222" stroke-width="0.5" fill="none"/><path d="M165 967.5L168.1 964.89L168.77 966.01Z" stroke="none" fill="#111"/><text x="219.5" y="913.9" font-size="3.7" text-anchor="middle" font-weight="bold">VEST</text><rect x="214.75" y="916.1" width="9.5" height="4.6" stroke="#222" stroke-width="0.4" fill="none"/><text x="219.5" y="919.8" font-size="3.5" text-anchor="middle">113</text><text font-size="4.15"><tspan x="265.8" y="1106.25">VAPOUR BARRIER APPLIED ON</tspan><tspan x="265.8" y="1110.4">DRAINAGE MAT. REFER TO</tspan><tspan x="265.8" y="1114.55">GEOTECH</tspan></text><path d="M263.5 1104.8L258 1104.8L134 1067.5" stroke="#222" stroke-width="0.5" fill="none"/><path d="M134 1067.5L138.02 1068.03L137.64 1069.27Z" stroke="none" fill="#111"/></g><g id="p4"><rect x="536.4" y="187" width="46.6" height="326.25" stroke="none" fill="url(#lconc)"/><path d="M471.8 199.8L501.6 199.8L501.6 261.75L536.4 261.75L536.4 513.25L491.2 513.25L491.2 346.6L471.8 328Z" stroke="none" fill="url(#conc)"/><rect x="415.6" y="486.3" width="71.9" height="26.95" stroke="none" fill="url(#conc)"/><rect x="415.6" y="297.5" width="37.4" height="21.3" stroke="none" fill="url(#conc)"/><path d="M415.6 318.8L454.4 318.8L473.8 353.8L473.8 486.3L415.6 486.3Z" stroke="none" fill="url(#stone)"/><rect x="415.6" y="278.8" width="31.6" height="15.4" stroke="none" fill="url(#pav)"/><rect x="415.6" y="278.8" width="31.6" height="15.4" stroke="#222" stroke-width="0.5" fill="none"/><path d="M415.6 297.5L455 297.5" stroke="#222" stroke-width="0.45"/><path d="M453 297.5L453 318.8" stroke="#222" stroke-width="0.45"/><path d="M415.6 278.8L415.6 513.25" stroke="#222" stroke-width="0.45"/><path d="M415.6 318.8L454.4 318.8" stroke="#222" stroke-width="0.5"/><path d="M433 112.5L611.3 112.5" stroke="#222" stroke-width="0.45"/><path d="M519.9 112.5L521.46 108.86L523.54 116.14L525.1 112.5" stroke="#222" stroke-width="0.45" fill="#fff"/><path d="M449.3 112.5L449.3 181" stroke="#222" stroke-width="0.4"/><path d="M453.8 112.5L453.8 181" stroke="#222" stroke-width="0.4"/><path d="M455.4 112.5L455.4 181" stroke="#222" stroke-width="0.4"/><path d="M457 112.5L457 181" stroke="#222" stroke-width="0.4"/><path d="M459 112.5L459 181" stroke="#222" stroke-width="0.4"/><path d="M460.8 112.5L460.8 181" stroke="#222" stroke-width="0.4"/><rect x="453.8" y="112.5" width="1.6" height="68.5" stroke="none" fill="#bbb"/><rect x="457" y="112.5" width="2" height="68.5" stroke="none" fill="#bbb"/><path d="M472 87L472 199.8" stroke="#222" stroke-width="0.5"/><path d="M460.8 87L460.8 112.5" stroke="#333" stroke-width="0.4"/><path d="M490.8 112.5L490.8 182.5" stroke="#222" stroke-width="0.45"/><path d="M520.5 98.5L520.5 183.8" stroke="#222" stroke-width="0.45"/><path d="M583 98.5L583 513.25" stroke="#222" stroke-width="0.5"/><path d="M520.5 183.8L583 183.8" stroke="#222" stroke-width="0.5"/><rect x="530.5" y="180" width="43.3" height="3.8" stroke="#333" stroke-width="0.4" fill="none" stroke-dasharray="1.2 1"/><rect x="449.8" y="181" width="40.8" height="6.5" stroke="#111" stroke-width="0.6" fill="#fff"/><rect x="451" y="182" width="10.5" height="4.6" stroke="#111" stroke-width="0.9" fill="none"/><rect x="463" y="181.6" width="4" height="5.9" stroke="#111" stroke-width="0.6" fill="none"/><rect x="449.8" y="187.5" width="22.2" height="4.5" stroke="#111" stroke-width="0.8" fill="#fff"/><rect x="468.5" y="188.3" width="2.9" height="3" stroke="#111" stroke-width="0.5" fill="none"/><rect x="460.8" y="192" width="29.8" height="6.5" stroke="#111" stroke-width="0.7" fill="#fff"/><rect x="454.5" y="192" width="6.3" height="7.5" stroke="#111" stroke-width="0.6" fill="#fff"/><path d="M460.8 199.3L489.6 199.3" stroke="#111" stroke-width="1.9"/><path d="M460.5 199.7L451 200.5L448.8 202L447.5 208" stroke="#111" stroke-width="1.2" fill="none"/><path d="M452 202L450.6 207" stroke="#111" stroke-width="0.8" fill="none"/><rect x="486.5" y="187.6" width="52" height="5" stroke="#111" stroke-width="0.5" fill="#fff"/><rect x="491" y="187.8" width="47" height="2.8" stroke="none" fill="url(#hatchd)"/><path d="M490.6 187.8L538.5 187.8" stroke="#111" stroke-width="1.1"/><path d="M490.6 191L536 191" stroke="#111" stroke-width="0.9"/><rect x="486.3" y="188.5" width="3.7" height="3.8" stroke="#111" stroke-width="0.7" fill="#fff"/><rect x="503.5" y="192.6" width="20.7" height="9.2" stroke="#111" stroke-width="0.6" fill="#fff"/><path d="M504.5 200.6L523 200.6" stroke="#222" stroke-width="0.4"/><rect x="524.2" y="201.8" width="9.8" height="14.2" stroke="#111" stroke-width="0.6" fill="#fff"/><rect x="534" y="192.6" width="2.5" height="23.4" stroke="#111" stroke-width="0.5" fill="#fff"/><path d="M490.6 199.6L569 199.6" stroke="#444" stroke-width="0.4"/><rect x="502.6" y="216.6" width="33.9" height="44" stroke="#111" stroke-width="1.0" fill="#fff"/><circle cx="518.8" cy="229.6" r="4.3" stroke="#222" stroke-width="0.5" fill="none"/><circle cx="518.8" cy="248" r="4.3" stroke="#222" stroke-width="0.5" fill="none"/><path d="M524.2 216.6L524.2 260.6" stroke="#333" stroke-width="0.4" stroke-dasharray="1.6 1.2"/><path d="M501.6 199.8L501.6 261.75" stroke="#222" stroke-width="0.5"/><rect x="448.5" y="201" width="4.8" height="92.6" stroke="#222" stroke-width="0.5" fill="url(#clad)"/><path d="M455 201L455 314.3" stroke="#222" stroke-width="0.5"/><clipPath id="p4c"><path d="M455 199L472 199L472 329.6L455 314.4Z"/></clipPath><g clip-path="url(#p4c)"><rect x="455.6" y="199" width="7.8" height="133" stroke="#222" stroke-width="0.45" fill="#fff"/><path d="M457.2 201.22H461.8M457.2 204.92H461.8M457.2 208.62H461.8M457.2 212.32H461.8M457.2 216.02H461.8M457.2 219.72H461.8M457.2 223.42H461.8M457.2 227.12H461.8M457.2 230.82H461.8M457.2 234.52H461.8M457.2 238.22H461.8M457.2 241.92H461.8M457.2 245.62H461.8M457.2 249.32H461.8M457.2 253.02H461.8M457.2 256.72H461.8M457.2 260.42H461.8M457.2 264.12H461.8M457.2 267.82H461.8M457.2 271.52H461.8M457.2 275.22H461.8M457.2 278.92H461.8M457.2 282.62H461.8M457.2 286.32H461.8M457.2 290.02H461.8M457.2 293.72H461.8M457.2 297.42H461.8M457.2 301.12H461.8M457.2 304.82H461.8M457.2 308.52H461.8M457.2 312.22H461.8M457.2 315.92H461.8M457.2 319.62H461.8M457.2 323.32H461.8M457.2 327.02H461.8M457.2 330.72H461.8" stroke="#777" stroke-width="0.6" fill="none"/><rect x="463.4" y="199" width="7.8" height="133" stroke="#222" stroke-width="0.45" fill="#fff"/><path d="M465 201.22H469.6M465 204.92H469.6M465 208.62H469.6M465 212.32H469.6M465 216.02H469.6M465 219.72H469.6M465 223.42H469.6M465 227.12H469.6M465 230.82H469.6M465 234.52H469.6M465 238.22H469.6M465 241.92H469.6M465 245.62H469.6M465 249.32H469.6M465 253.02H469.6M465 256.72H469.6M465 260.42H469.6M465 264.12H469.6M465 267.82H469.6M465 271.52H469.6M465 275.22H469.6M465 278.92H469.6M465 282.62H469.6M465 286.32H469.6M465 290.02H469.6M465 293.72H469.6M465 297.42H469.6M465 301.12H469.6M465 304.82H469.6M465 308.52H469.6M465 312.22H469.6M465 315.92H469.6M465 319.62H469.6M465 323.32H469.6M465 327.02H469.6M465 330.72H469.6" stroke="#777" stroke-width="0.6" fill="none"/></g><path d="M471.6 199.8L471.6 328L490.3 346.8L490.3 513.25" stroke="#111" stroke-width="1.4" fill="none"/><path d="M455 296L455 314.3L488.6 347.2L488.6 513.25" stroke="#222" stroke-width="0.5" fill="none"/><path d="M490.3 348L490.3 513.25" stroke="#fff" stroke-width="0.45" stroke-dasharray="1.8 1.3"/><path d="M454.4 318.8L456 318.8L487.8 349L487.8 486.3L473.8 486.3L473.8 353.8Z" stroke="none" fill="#fff"/><path d="M454.4 318.8L473.8 353.8L473.8 486.3" stroke="#222" stroke-width="0.5" fill="none"/><path d="M459.5 331L467 325" stroke="#333" stroke-width="0.4"/><path d="M463.5 338L472 330.5" stroke="#333" stroke-width="0.4"/><path d="M467.5 345L477 337" stroke="#333" stroke-width="0.4"/><path d="M471.5 352L482 343" stroke="#333" stroke-width="0.4"/><path d="M477.6 362.2H486M477.6 369.97H486M477.6 377.74H486M477.6 385.51H486M477.6 393.28H486M477.6 401.05H486M477.6 408.82H486M477.6 416.59H486M477.6 424.36H486M477.6 432.13H486M477.6 439.9H486M477.6 447.67H486M477.6 455.44H486M477.6 463.21H486M477.6 470.98H486M477.6 478.75H486" stroke="#333" stroke-width="0.4" fill="none"/><path d="M415.6 486.3L487.5 486.3" stroke="#222" stroke-width="0.5"/><path d="M536.4 261.75L536.4 513.25" stroke="#222" stroke-width="0.6"/><path d="M415.6 513.25L626.8 513.25" stroke="#222" stroke-width="0.45"/><path d="M519.4 513.25L520.96 509.61L523.04 516.89L524.6 513.25" stroke="#222" stroke-width="0.45" fill="#fff"/><rect x="438.3" y="158.3" width="103" height="57.5" rx="2" stroke="#333" stroke-width="0.45" stroke-dasharray="1.6 1.2" fill="none"/><path d="M565.2 141.8L558.8 141.8L541.3 158.3" stroke="#222" stroke-width="0.45" fill="none"/><circle cx="572.5" cy="141.8" r="7.3" stroke="#222" stroke-width="0.45" fill="#fff"/><path d="M565.2 141.8L579.8 141.8" stroke="#222" stroke-width="0.4"/><text x="572.5" y="140.9" font-size="3.4" text-anchor="middle">7</text><text x="572.5" y="145.7" font-size="3.5" text-anchor="middle">A-552</text><path d="M552 60.5L552 573.8" stroke="#333" stroke-width="0.45" stroke-dasharray="7 1.2 1.2 1.2"/><circle cx="552" cy="53" r="7.5" stroke="#222" stroke-width="0.5" fill="#fff"/><text x="552" y="55.1" font-size="5.8" text-anchor="middle" font-weight="bold">A</text><path d="M458.6 90L474.2 90" stroke="#333" stroke-width="0.4"/><path d="M459.2 91.6L462.4 88.4" stroke="#111" stroke-width="0.7"/><path d="M470.4 91.6L473.6 88.4" stroke="#111" stroke-width="0.7"/><text x="466.4" y="88.2" font-size="4" text-anchor="middle">75</text><path d="M469.8 90L554.2 90" stroke="#333" stroke-width="0.4"/><path d="M470.4 91.6L473.6 88.4" stroke="#111" stroke-width="0.7"/><path d="M550.4 91.6L553.6 88.4" stroke="#111" stroke-width="0.7"/><text x="512" y="88.2" font-size="4" text-anchor="middle">540</text><path d="M518.3 101.8L554.2 101.8" stroke="#333" stroke-width="0.4"/><path d="M518.9 103.4L522.1 100.2" stroke="#111" stroke-width="0.7"/><path d="M550.4 103.4L553.6 100.2" stroke="#111" stroke-width="0.7"/><text x="536.25" y="100" font-size="4" text-anchor="middle">eq.</text><path d="M549.8 101.8L585.2 101.8" stroke="#333" stroke-width="0.4"/><path d="M550.4 103.4L553.6 100.2" stroke="#111" stroke-width="0.7"/><path d="M581.4 103.4L584.6 100.2" stroke="#111" stroke-width="0.7"/><text x="567.5" y="100" font-size="4" text-anchor="middle">eq.</text><path d="M564.4 197.4L564.4 263.95" stroke="#333" stroke-width="0.4"/><path d="M562.8 201.2L566 198" stroke="#111" stroke-width="0.7"/><path d="M562.8 263.35L566 260.15" stroke="#111" stroke-width="0.7"/><text x="561.5" y="230.68" font-size="4" text-anchor="middle" transform="rotate(-90 561.5 230.68)">415</text><path d="M424 216L448.5 216" stroke="#333" stroke-width="0.4"/><path d="M427.6 213.8L427.6 263.95" stroke="#333" stroke-width="0.4"/><path d="M426 217.6L429.2 214.4" stroke="#111" stroke-width="0.7"/><path d="M426 263.35L429.2 260.15" stroke="#111" stroke-width="0.7"/><text x="426" y="238.88" font-size="4" text-anchor="middle" transform="rotate(-90 426 238.88)">300</text><text x="432" y="240" font-size="3" text-anchor="middle" transform="rotate(-90 432 240)">min.</text><path d="M424.5 209.5L535.9 209.5" stroke="#333" stroke-width="0.4"/><circle cx="535.9" cy="209.5" r="0.8" fill="#111"/><path d="M414.9 209.5L416.8 206.3L422.6 206.3L424.5 209.5L422.6 212.7L416.8 212.7Z" stroke="#222" stroke-width="0.45" fill="#fff"/><text x="419.7" y="210.8" font-size="3.7" text-anchor="middle">W2</text><path d="M473.8 380L560.2 380" stroke="#333" stroke-width="0.4"/><circle cx="491" cy="380" r="0.8" fill="#111"/><circle cx="536.3" cy="380" r="0.8" fill="#111"/><path d="M560.2 380L562.1 376.8L567.9 376.8L569.8 380L567.9 383.2L562.1 383.2Z" stroke="#222" stroke-width="0.45" fill="#fff"/><text x="565" y="381.3" font-size="3.7" text-anchor="middle">W4</text><path d="M415.6 492L560.2 492" stroke="#333" stroke-width="0.4"/><circle cx="415.6" cy="492" r="0.8" fill="#111"/><circle cx="491" cy="492" r="0.8" fill="#111"/><circle cx="536.3" cy="492" r="0.8" fill="#111"/><path d="M560.2 492L562.1 488.8L567.9 488.8L569.8 492L567.9 495.2L562.1 495.2Z" stroke="#222" stroke-width="0.45" fill="#fff"/><text x="565" y="493.3" font-size="3.7" text-anchor="middle">W3</text><path d="M534.5 408.3L553.8 408.3" stroke="#333" stroke-width="0.4"/><path d="M534.7 409.9L537.9 406.7" stroke="#111" stroke-width="0.7"/><path d="M550.4 409.9L553.6 406.7" stroke="#111" stroke-width="0.7"/><text x="544.15" y="406.5" font-size="4" text-anchor="middle">105</text><path d="M484 330L492.5 324" stroke="#333" stroke-width="0.4"/><path d="M488 350L497 343.5" stroke="#333" stroke-width="0.4"/><path d="M491.5 326L496 342" stroke="#333" stroke-width="0.4"/><path d="M492.3 327L493.6 329.77L492.43 330.06Z" stroke="none" fill="#111"/><path d="M495.6 342.5L494.35 339.71L495.52 339.44Z" stroke="none" fill="#111"/><text x="498.2" y="337.5" font-size="3" text-anchor="middle" transform="rotate(70 498.2 337.5)">45.00°</text><path d="M491.3 513.25L491.3 533" stroke="#333" stroke-width="0.4" stroke-dasharray="1.6 1.2"/><path d="M489.1 527.5L554.2 527.5" stroke="#333" stroke-width="0.4"/><path d="M489.7 529.1L492.9 525.9" stroke="#111" stroke-width="0.7"/><path d="M550.4 529.1L553.6 525.9" stroke="#111" stroke-width="0.7"/><text x="547.5" y="537.75" font-size="3.9" text-anchor="end" font-weight="bold">DIM VARIES:</text><text font-size="4.15" text-anchor="end"><tspan x="547.5" y="545.95">FILL IN CONCRETE TO FACE</tspan><tspan x="547.5" y="550.1">OF SCRAPED SECANT PILE</tspan><tspan x="547.5" y="554.25">WALL</tspan></text><path d="M415.6 486.8L725 486.8" stroke="#888" stroke-width="0.5" stroke-dasharray="6 1.5"/><text x="725" y="484.75" font-size="3.9" text-anchor="end" font-weight="bold">1200 MIN. BELOW FINISHED GRADE</text><path d="M540 187L725 187" stroke="#333" stroke-width="0.45" stroke-dasharray="7 1.2 1.2 1.2"/><path d="M705.5 187A9.75 8.5 0 0 1 725 187Z" stroke="#222" stroke-width="0.5" fill="#fff"/><text x="715.25" y="185" font-size="3.8" text-anchor="middle">500</text><text x="702" y="184.8" font-size="4.15" text-anchor="end">T/O SILL</text><path d="M416 261.75L725 261.75" stroke="#333" stroke-width="0.45" stroke-dasharray="7 1.2 1.2 1.2"/><path d="M705.5 261.75A9.75 8.5 0 0 1 725 261.75Z" stroke="#222" stroke-width="0.5" fill="#fff"/><text x="715.25" y="259.75" font-size="3.8" text-anchor="middle">0</text><text x="702" y="259.55" font-size="4.15" text-anchor="end">T/O LEVEL 1</text><text x="442" y="272.3" font-size="3.7" text-anchor="end" font-weight="bold">2% slope min</text><path d="M417.5 273.3L442 273.3" stroke="#222" stroke-width="0.4"/><path d="M411 273.3L414.6 272.4L414.6 274.2Z" stroke="none" fill="#111"/><text x="609.5" y="361.9" font-size="3.7" text-anchor="middle" font-weight="bold">STAIR F</text><rect x="602.4" y="364.1" width="14.2" height="4.6" stroke="#222" stroke-width="0.4" fill="none"/><text x="609.5" y="367.8" font-size="3.5" text-anchor="middle">F-100</text><text x="383" y="193.75" font-size="3.9" font-weight="bold">EXTERIOR</text><text font-size="4.15"><tspan x="378" y="136.95">CURTAIN WALL GLAZING</tspan><tspan x="378" y="141.1">SYSTEM</tspan></text><path d="M432 135.5L437.5 135.5L446 138.5" stroke="#333" stroke-width="0.4" fill="none"/><path d="M453.8 141.8L449.86 140.84L450.37 139.64Z" stroke="none" fill="#111"/><text font-size="4.15" text-anchor="end"><tspan x="410.5" y="225.95">DRAINAGE MAT TO</tspan><tspan x="410.5" y="230.1">EXTEND 300mm MIN.</tspan><tspan x="410.5" y="234.25">ABOVE GRADE (TYP.).</tspan><tspan x="410.5" y="238.4">REFER TO GEOTECH</tspan></text><path d="M412.5 224.5L417.5 224.5L453.8 217.5" stroke="#222" stroke-width="0.5" fill="none"/><path d="M453.8 217.5L450 218.9L449.75 217.62Z" stroke="none" fill="#111"/><text font-size="4.15" text-anchor="end"><tspan x="410.5" y="254.95">VAPOUR BARRIER</tspan><tspan x="410.5" y="259.1">APPLIED ON DRAINAGE</tspan><tspan x="410.5" y="263.25">MAT OUTBOARD OF</tspan><tspan x="410.5" y="267.4">INSULATION PLANE.</tspan><tspan x="410.5" y="271.55">REFER TO GEOTECH</tspan></text><path d="M412.5 253.5L417.5 253.5L453 240" stroke="#222" stroke-width="0.5" fill="none"/><path d="M453 240L449.49 242.03L449.03 240.81Z" stroke="none" fill="#111"/><text font-size="4.15" text-anchor="end"><tspan x="410.5" y="285.75">CONCRETE PAVERS</tspan><tspan x="410.5" y="289.9">(REFER TO LANDSCAPE</tspan><tspan x="410.5" y="294.05">ARCH.)</tspan></text><path d="M412.5 284.3L416 284.3" stroke="#333" stroke-width="0.4"/><text x="410.5" y="302.45" font-size="4.15" text-anchor="end">COMPRESSIBLE FILLER</text><path d="M412.5 301L417.5 301L459.5 292.8" stroke="#222" stroke-width="0.5" fill="none"/><path d="M459.5 292.8L455.7 294.2L455.45 292.93Z" stroke="none" fill="#111"/><text font-size="4.15" text-anchor="end"><tspan x="410.5" y="312.75">STAINLESS STEEL</tspan><tspan x="410.5" y="316.9">STONE CLADDING</tspan><tspan x="410.5" y="321.05">SUPPORTS.</tspan><tspan x="410.5" y="325.2">SEAL AT PENETRATIONS</tspan></text><path d="M412.5 311.3L417.5 311.3L450.5 298.8" stroke="#222" stroke-width="0.5" fill="none"/><path d="M450.5 298.8L446.99 300.82L446.53 299.61Z" stroke="none" fill="#111"/><text font-size="4.15" text-anchor="end"><tspan x="410.5" y="380.75">CHAMFER CANTILEVER</tspan><tspan x="410.5" y="384.9">EDGE OF CONCRETE.</tspan><tspan x="410.5" y="389.05">REFER TO STRUCT.</tspan></text><path d="M412.5 379.3L416 379.3" stroke="#333" stroke-width="0.4"/><text font-size="4.15" text-anchor="end"><tspan x="410.5" y="506.95">LAP VAPOUR BARRIER</tspan><tspan x="410.5" y="511.1">ONTO SECANT PILE</tspan><tspan x="410.5" y="515.25">WALL (TYP.)</tspan></text><path d="M412.5 505.5L417 505.5L489.5 486.5" stroke="#222" stroke-width="0.5" fill="none"/><path d="M489.5 486.5L485.8 488.14L485.47 486.89Z" stroke="none" fill="#111"/><text x="637.5" y="148.45" font-size="4.15">GLULAM COLUMN</text><path d="M635 147L631.3 147L583.2 162.5" stroke="#222" stroke-width="0.5" fill="none"/><path d="M583.2 162.5L586.81 160.65L587.21 161.89Z" stroke="none" fill="#111"/><text x="637.5" y="179.25" font-size="4.15">CONC-A BASE</text><path d="M635 177.8L631.3 177.8L583.2 192.5" stroke="#222" stroke-width="0.5" fill="none"/><path d="M583.2 192.5L586.84 190.71L587.22 191.95Z" stroke="none" fill="#111"/><text font-size="4.15"><tspan x="637.5" y="194.45">ALIGN GWB W/ FACE OF</tspan><tspan x="637.5" y="198.6">CONCRETE PERIMETER WALL</tspan><tspan x="637.5" y="202.75">BELOW</tspan></text><path d="M635 193L631.3 193L536.5 207.5" stroke="#222" stroke-width="0.5" fill="none"/><path d="M536.5 207.5L540.36 206.25L540.55 207.54Z" stroke="none" fill="#111"/><text x="637.5" y="224.25" font-size="4.15">HEATER</text><path d="M635 222.8L631.3 222.8L521.3 247.5" stroke="#222" stroke-width="0.5" fill="none"/><path d="M521.3 247.5L525.06 245.99L525.35 247.26Z" stroke="none" fill="#111"/><text font-size="4.15"><tspan x="637.5" y="418.25">CONVENTION WALL MEMBRANE</tspan><tspan x="637.5" y="422.4">LAP OVER BLIND SIDED</tspan><tspan x="637.5" y="426.55">MEMBRANE, TYP. AT SECANT</tspan><tspan x="637.5" y="430.7">PILE WALL</tspan></text><path d="M635 416.8L631.3 416.8L490.3 462.5" stroke="#222" stroke-width="0.5" fill="none"/><path d="M490.3 462.5L493.9 460.65L494.31 461.89Z" stroke="none" fill="#111"/><text font-size="4.15"><tspan x="637.5" y="442.95">PROPOSED SECANT PILE WALL</tspan><tspan x="637.5" y="447.1">AT PROPERTY LINE</tspan><tspan x="637.5" y="451.25">(REFER TO SHORING ENG.)</tspan></text><path d="M635 441.5L631.3 441.5L462.5 496.3" stroke="#222" stroke-width="0.5" fill="none"/><path d="M462.5 496.3L466.1 494.45L466.51 495.68Z" stroke="none" fill="#111"/><text font-size="4.15"><tspan x="637.5" y="536.25">SURFACE TO BE SCRAPED</tspan><tspan x="637.5" y="540.4">SMOOTH DURING EXCAVATION</tspan></text><path d="M635 534.8L631.3 534.8L490.5 505" stroke="#222" stroke-width="0.5" fill="none"/><path d="M490.5 505L494.55 505.19L494.28 506.46Z" stroke="none" fill="#111"/></g><g id="p3"><rect x="415.5" y="697.5" width="72" height="406.75" stroke="none" fill="url(#conc)"/><rect x="492.5" y="697.5" width="43.8" height="156.25" stroke="none" fill="url(#conc)"/><rect x="536.3" y="697.5" width="46.7" height="156.25" stroke="none" fill="url(#lconc)"/><rect x="492.5" y="853.75" width="134.3" height="147.55" stroke="none" fill="url(#conc)"/><rect x="488.8" y="1001.3" width="138" height="7.5" stroke="#333" stroke-width="0.4" fill="#eee"/><rect x="488.8" y="1011.8" width="138" height="10.7" stroke="#333" stroke-width="0.4" fill="#eee"/><rect x="488.8" y="1022.5" width="138" height="73" stroke="none" fill="url(#gravel)"/><rect x="488.8" y="1095.5" width="138" height="8.75" stroke="none" fill="url(#weave)"/><path d="M488.8 1095.5L626.8 1095.5" stroke="#222" stroke-width="0.5"/><path d="M488.8 1022.5L626.8 1022.5" stroke="#222" stroke-width="0.5"/><rect x="487.5" y="697.5" width="5" height="312.5" stroke="#222" stroke-width="0.4" fill="#fff"/><path d="M490 697.5L490 1010.3L626.8 1010.3" stroke="#111" stroke-width="1.5" fill="none"/><path d="M490 697.5L490 1010.3L626.8 1010.3" stroke="#fff" stroke-width="0.45" fill="none" stroke-dasharray="1.6 1.2"/><path d="M415.5 697.5L415.5 1104.25" stroke="#222" stroke-width="0.5"/><path d="M415.5 900.3L412.42 901.62L418.58 903.38L415.5 904.7" stroke="#222" stroke-width="0.45" fill="#fff"/><path d="M536.3 677L536.3 853.75" stroke="#222" stroke-width="0.6"/><path d="M583 665L583 853.75" stroke="#222" stroke-width="0.5"/><path d="M488.3 665L488.3 697.5" stroke="#333" stroke-width="0.4"/><path d="M492.5 853.75L626.8 853.75" stroke="#222" stroke-width="0.6"/><path d="M626.8 853.75L626.8 1104.25" stroke="#222" stroke-width="0.5"/><path d="M626.8 974.1L623.72 975.42L629.88 977.18L626.8 978.5" stroke="#222" stroke-width="0.45" fill="#fff"/><path d="M415.5 697.5L626.8 697.5" stroke="#222" stroke-width="0.45"/><path d="M518.7 697.5L520.26 693.86L522.34 701.14L523.9 697.5" stroke="#222" stroke-width="0.45" fill="#fff"/><path d="M415.5 1104.25L626.8 1104.25" stroke="#222" stroke-width="0.45"/><path d="M519.9 1104.25L521.46 1100.61L523.54 1107.89L525.1 1104.25" stroke="#222" stroke-width="0.45" fill="#fff"/><path d="M552 631L552 1105" stroke="#333" stroke-width="0.45" stroke-dasharray="7 1.2 1.2 1.2"/><circle cx="552" cy="623.3" r="7.5" stroke="#222" stroke-width="0.5" fill="#fff"/><text x="552" y="625.4" font-size="5.8" text-anchor="middle" font-weight="bold">A</text><path d="M486.1 668L554.2 668" stroke="#333" stroke-width="0.4"/><path d="M486.7 669.6L489.9 666.4" stroke="#111" stroke-width="0.7"/><path d="M550.4 669.6L553.6 666.4" stroke="#111" stroke-width="0.7"/><path d="M549.8 668L585.2 668" stroke="#333" stroke-width="0.4"/><path d="M550.4 669.6L553.6 666.4" stroke="#111" stroke-width="0.7"/><path d="M581.4 669.6L584.6 666.4" stroke="#111" stroke-width="0.7"/><text x="567.5" y="666.2" font-size="4" text-anchor="middle">211</text><path d="M534.5 680L553.8 680" stroke="#333" stroke-width="0.4"/><path d="M534.7 681.6L537.9 678.4" stroke="#111" stroke-width="0.7"/><path d="M550.4 681.6L553.6 678.4" stroke="#111" stroke-width="0.7"/><text x="544.15" y="678.2" font-size="4" text-anchor="middle">105</text><text x="544.5" y="653.25" font-size="3.9" text-anchor="end" font-weight="bold">DIM VARIES:</text><text font-size="4.15" text-anchor="end"><tspan x="544.5" y="657.35">FILL IN CONCRETE TO FACE OF</tspan><tspan x="544.5" y="661.5">SCRAPED SECANT PILE WALL</tspan></text><path d="M415.5 770.8L558 770.8" stroke="#333" stroke-width="0.4"/><circle cx="415.5" cy="770.8" r="0.8" fill="#111"/><circle cx="536.3" cy="770.8" r="0.8" fill="#111"/><path d="M557.7 770.8L559.6 767.6L565.4 767.6L567.3 770.8L565.4 774L559.6 774Z" stroke="#222" stroke-width="0.45" fill="#fff"/><text x="562.5" y="772.1" font-size="3.7" text-anchor="middle">W3</text><path d="M603.3 840L603.3 1022.5" stroke="#222" stroke-width="0.45"/><circle cx="603.3" cy="853.75" r="0.8" fill="#111"/><circle cx="603.3" cy="1022.5" r="0.8" fill="#111"/><path d="M607.27 837.45L604.95 839.77L601.65 839.77L599.33 837.45L599.33 834.15L601.65 831.83L604.95 831.83L607.27 834.15Z" stroke="#222" stroke-width="0.45" fill="#fff"/><text x="603.3" y="836.9" font-size="2.9" text-anchor="middle">FL3</text><path d="M415.5 853.75L700 853.75" stroke="#888" stroke-width="0.5" stroke-dasharray="6 1.5"/><path d="M680.5 853.75A9.75 8.5 0 0 1 700 853.75Z" stroke="#222" stroke-width="0.5" fill="#fff"/><text x="690.25" y="851.75" font-size="3.8" text-anchor="middle">-4000</text><text x="677" y="851.55" font-size="4.15" text-anchor="end">T/O LOWER LEVEL</text><text x="608" y="780.2" font-size="3.7" text-anchor="middle" font-weight="bold">ZONE A FITNESS</text><rect x="603" y="782.4" width="10" height="4.6" stroke="#222" stroke-width="0.4" fill="none"/><text x="608" y="786.1" font-size="3.5" text-anchor="middle">006</text><text x="637.5" y="711.95" font-size="4.15">CONCRETE COLUMN</text><path d="M635 710.5L631.3 710.5L583.2 725.8" stroke="#222" stroke-width="0.5" fill="none"/><path d="M583.2 725.8L586.81 723.97L587.21 725.21Z" stroke="none" fill="#111"/><text font-size="4.15"><tspan x="637.5" y="893.95">WATERSTOP AT BASE OF</tspan><tspan x="637.5" y="898.1">PERIMETER WALL</tspan></text><path d="M635 892.5L631.3 892.5L513.3 854" stroke="#222" stroke-width="0.5" fill="none"/><path d="M513.3 854L517.3 854.62L516.9 855.86Z" stroke="none" fill="#111"/><text font-size="4.15"><tspan x="637.5" y="910.45">PROPOSED SECANT PILE WALL</tspan><tspan x="637.5" y="914.6">AT PROPERTY LINE</tspan><tspan x="637.5" y="918.75">(REFER TO SHORING ENG.)</tspan></text><path d="M635 909L631.3 909L468.8 857.5" stroke="#222" stroke-width="0.5" fill="none"/><path d="M468.8 857.5L472.81 858.09L472.42 859.33Z" stroke="none" fill="#111"/><text font-size="4.15"><tspan x="637.5" y="944.75">SURFACE TO BE SCRAPED</tspan><tspan x="637.5" y="948.9">SMOOTH DURING EXCAVATION</tspan></text><path d="M635 943.3L631.3 943.3L490.2 895" stroke="#222" stroke-width="0.5" fill="none"/><path d="M490.2 895L494.19 895.68L493.77 896.91Z" stroke="none" fill="#111"/><text font-size="4.15"><tspan x="637.5" y="961.95">TURN UP BELOW GRADE</tspan><tspan x="637.5" y="966.1">MEMBRANE 200 MIN. AND LAP</tspan><tspan x="637.5" y="970.25">WALL MEMBRANE OVER</tspan><tspan x="637.5" y="974.4">BELOW GRADE MEMBRANE</tspan></text><path d="M635 960.5L631.3 960.5L490.2 987.5" stroke="#222" stroke-width="0.5" fill="none"/><path d="M490.2 987.5L494.01 986.11L494.25 987.39Z" stroke="none" fill="#111"/><text font-size="4.15"><tspan x="637.5" y="1043.45">LAP DRAINAGE UNDER</tspan><tspan x="637.5" y="1047.6">VAPOUR BARRIER 300mm MIN.</tspan><tspan x="637.5" y="1051.75">REFER TO GEOTECH</tspan></text><path d="M626.8 1042L635 1042" stroke="#333" stroke-width="0.4"/></g><g id="p6"><rect x="798.8" y="125.3" width="68.6" height="73.8" stroke="none" fill="url(#lconc)"/><rect x="798.8" y="331.2" width="63.7" height="31.8" stroke="none" fill="url(#lconc)"/><path d="M881 137.7L910.8 137.7L910.8 279.8L1060 279.8L1060 331.2L792.5 331.2L775 317.5L773.8 317.5L773.8 221.3L881 221.3Z" stroke="none" fill="url(#conc)"/><rect x="773.8" y="199.1" width="106.2" height="13.4" stroke="none" fill="url(#conc)"/><path d="M1076.6 279.8L1146.8 279.8L1146.8 367.2L1108.3 367.2L1108.3 331.2L1076.6 331.2Z" stroke="none" fill="url(#conc)"/><rect x="927.8" y="199.1" width="51.8" height="43.9" stroke="none" fill="url(#gravel2)"/><rect x="927.8" y="243" width="132.2" height="12.9" stroke="none" fill="url(#stone)"/><rect x="1076.6" y="243" width="79.4" height="12.9" stroke="none" fill="url(#stone)"/><path d="M1155.2 187.5L1227.7 187.5L1227.7 367.2L1162.3 367.2L1162.3 255.9L1155.2 255.9Z" stroke="none" fill="url(#stone)"/><rect x="1155.2" y="163.8" width="72.5" height="23.7" stroke="none" fill="url(#gravel2)"/><rect x="1006.8" y="147.2" width="53.2" height="95.8" stroke="none" fill="url(#weave)"/><rect x="1076.6" y="147.2" width="56.6" height="95.8" stroke="none" fill="url(#weave)"/><path d="M984.1 142.7L1004.8 141.4L1006.8 243L978.3 243L978.3 203.5L982.2 182.8Z" stroke="none" fill="url(#curb)"/><path d="M984.1 142.7L1004.8 141.4L1006.8 243L978.3 243L978.3 203.5L982.2 182.8Z" stroke="#222" stroke-width="0.5" fill="none"/><path d="M1133.2 142.8L1155.2 141.6L1155.2 243L1133.2 243Z" stroke="none" fill="url(#curb)"/><path d="M1133.2 142.8L1155.2 141.6L1155.2 243L1133.2 243Z" stroke="#222" stroke-width="0.5" fill="none"/><rect x="1155.2" y="144.3" width="72.5" height="15.7" stroke="none" fill="url(#curb)"/><rect x="1155.2" y="144.3" width="72.5" height="15.7" stroke="#222" stroke-width="0.5" fill="none"/><path d="M1155.2 163.8L1227.7 163.8" stroke="#222" stroke-width="0.45"/><path d="M1176 144.3L1176 160" stroke="#444" stroke-width="0.35"/><path d="M1193 144.3L1193 160" stroke="#444" stroke-width="0.35"/><path d="M1210 144.3L1210 160" stroke="#444" stroke-width="0.35"/><path d="M1227.7 137.5L1227.7 367.2" stroke="#222" stroke-width="0.5"/><rect x="1006.8" y="147.2" width="53.2" height="95.8" stroke="#222" stroke-width="0.45" fill="none"/><rect x="1076.6" y="147.2" width="56.6" height="95.8" stroke="#222" stroke-width="0.45" fill="none"/><path d="M1058 243L1059.2 240.2L1060.8 245.8L1062 243" stroke="#222" stroke-width="0.45" fill="#fff"/><path d="M1074.6 243L1075.8 240.2L1077.4 245.8L1078.6 243" stroke="#222" stroke-width="0.45" fill="#fff"/><path d="M927.8 243L1060 243" stroke="#222" stroke-width="0.5"/><path d="M1076.6 243L1155.2 243" stroke="#222" stroke-width="0.5"/><path d="M934.3 199.1L978.3 199.1" stroke="#222" stroke-width="0.6"/><rect x="910.8" y="139.6" width="9" height="139.4" stroke="#222" stroke-width="0.45" fill="#fff"/><path d="M912.4 141.82H918.2M912.4 145.52H918.2M912.4 149.22H918.2M912.4 152.92H918.2M912.4 156.62H918.2M912.4 160.32H918.2M912.4 164.02H918.2M912.4 167.72H918.2M912.4 171.42H918.2M912.4 175.12H918.2M912.4 178.82H918.2M912.4 182.52H918.2M912.4 186.22H918.2M912.4 189.92H918.2M912.4 193.62H918.2M912.4 197.32H918.2M912.4 201.02H918.2M912.4 204.72H918.2M912.4 208.42H918.2M912.4 212.12H918.2M912.4 215.82H918.2M912.4 219.52H918.2M912.4 223.22H918.2M912.4 226.92H918.2M912.4 230.62H918.2M912.4 234.32H918.2M912.4 238.02H918.2M912.4 241.72H918.2M912.4 245.42H918.2M912.4 249.12H918.2M912.4 252.82H918.2M912.4 256.52H918.2M912.4 260.22H918.2M912.4 263.92H918.2M912.4 267.62H918.2M912.4 271.32H918.2M912.4 275.02H918.2" stroke="#777" stroke-width="0.6" fill="none"/><rect x="919.8" y="139.6" width="8" height="139.4" stroke="#222" stroke-width="0.45" fill="#fff"/><path d="M921.4 141.82H926.2M921.4 145.52H926.2M921.4 149.22H926.2M921.4 152.92H926.2M921.4 156.62H926.2M921.4 160.32H926.2M921.4 164.02H926.2M921.4 167.72H926.2M921.4 171.42H926.2M921.4 175.12H926.2M921.4 178.82H926.2M921.4 182.52H926.2M921.4 186.22H926.2M921.4 189.92H926.2M921.4 193.62H926.2M921.4 197.32H926.2M921.4 201.02H926.2M921.4 204.72H926.2M921.4 208.42H926.2M921.4 212.12H926.2M921.4 215.82H926.2M921.4 219.52H926.2M921.4 223.22H926.2M921.4 226.92H926.2M921.4 230.62H926.2M921.4 234.32H926.2M921.4 238.02H926.2M921.4 241.72H926.2M921.4 245.42H926.2M921.4 249.12H926.2M921.4 252.82H926.2M921.4 256.52H926.2M921.4 260.22H926.2M921.4 263.92H926.2M921.4 267.62H926.2M921.4 271.32H926.2M921.4 275.02H926.2" stroke="#777" stroke-width="0.6" fill="none"/><rect x="927.8" y="255.9" width="132.2" height="21.3" stroke="#222" stroke-width="0.45" fill="#fff"/><path d="M929.35 263V258.17H932.45V263M935.55 263V258.17H938.65V263M941.75 263V258.17H944.85V263M947.95 263V258.17H951.05V263M954.15 263V258.17H957.25V263M960.35 263V258.17H963.45V263M966.55 263V258.17H969.65V263M972.75 263V258.17H975.85V263M978.95 263V258.17H982.05V263M985.15 263V258.17H988.25V263M991.35 263V258.17H994.45V263M997.55 263V258.17H1000.65V263M1003.75 263V258.17H1006.85V263M1009.95 263V258.17H1013.05V263M1016.15 263V258.17H1019.25V263M1022.35 263V258.17H1025.45V263M1028.55 263V258.17H1031.65V263M1034.75 263V258.17H1037.85V263M1040.95 263V258.17H1044.05V263M1047.15 263V258.17H1050.25V263M1053.35 263V258.17H1056.45V263M927.8 263H1060M932.45 270.1V265.27H935.55V270.1M938.65 270.1V265.27H941.75V270.1M944.85 270.1V265.27H947.95V270.1M951.05 270.1V265.27H954.15V270.1M957.25 270.1V265.27H960.35V270.1M963.45 270.1V265.27H966.55V270.1M969.65 270.1V265.27H972.75V270.1M975.85 270.1V265.27H978.95V270.1M982.05 270.1V265.27H985.15V270.1M988.25 270.1V265.27H991.35V270.1M994.45 270.1V265.27H997.55V270.1M1000.65 270.1V265.27H1003.75V270.1M1006.85 270.1V265.27H1009.95V270.1M1013.05 270.1V265.27H1016.15V270.1M1019.25 270.1V265.27H1022.35V270.1M1025.45 270.1V265.27H1028.55V270.1M1031.65 270.1V265.27H1034.75V270.1M1037.85 270.1V265.27H1040.95V270.1M1044.05 270.1V265.27H1047.15V270.1M1050.25 270.1V265.27H1053.35V270.1M1056.45 270.1V265.27H1059.55V270.1M927.8 270.1H1060M929.35 277.2V272.37H932.45V277.2M935.55 277.2V272.37H938.65V277.2M941.75 277.2V272.37H944.85V277.2M947.95 277.2V272.37H951.05V277.2M954.15 277.2V272.37H957.25V277.2M960.35 277.2V272.37H963.45V277.2M966.55 277.2V272.37H969.65V277.2M972.75 277.2V272.37H975.85V277.2M978.95 277.2V272.37H982.05V277.2M985.15 277.2V272.37H988.25V277.2M991.35 277.2V272.37H994.45V277.2M997.55 277.2V272.37H1000.65V277.2M1003.75 277.2V272.37H1006.85V277.2M1009.95 277.2V272.37H1013.05V277.2M1016.15 277.2V272.37H1019.25V277.2M1022.35 277.2V272.37H1025.45V277.2M1028.55 277.2V272.37H1031.65V277.2M1034.75 277.2V272.37H1037.85V277.2M1040.95 277.2V272.37H1044.05V277.2M1047.15 277.2V272.37H1050.25V277.2M1053.35 277.2V272.37H1056.45V277.2" stroke="#222" stroke-width="0.5" fill="none"/><rect x="1076.6" y="255.9" width="70.8" height="21.3" stroke="#222" stroke-width="0.45" fill="#fff"/><path d="M1078.15 263V258.17H1081.25V263M1084.35 263V258.17H1087.45V263M1090.55 263V258.17H1093.65V263M1096.75 263V258.17H1099.85V263M1102.95 263V258.17H1106.05V263M1109.15 263V258.17H1112.25V263M1115.35 263V258.17H1118.45V263M1121.55 263V258.17H1124.65V263M1127.75 263V258.17H1130.85V263M1133.95 263V258.17H1137.05V263M1140.15 263V258.17H1143.25V263M1076.6 263H1147.4M1081.25 270.1V265.27H1084.35V270.1M1087.45 270.1V265.27H1090.55V270.1M1093.65 270.1V265.27H1096.75V270.1M1099.85 270.1V265.27H1102.95V270.1M1106.05 270.1V265.27H1109.15V270.1M1112.25 270.1V265.27H1115.35V270.1M1118.45 270.1V265.27H1121.55V270.1M1124.65 270.1V265.27H1127.75V270.1M1130.85 270.1V265.27H1133.95V270.1M1137.05 270.1V265.27H1140.15V270.1M1143.25 270.1V265.27H1146.35V270.1M1076.6 270.1H1147.4M1078.15 277.2V272.37H1081.25V277.2M1084.35 277.2V272.37H1087.45V277.2M1090.55 277.2V272.37H1093.65V277.2M1096.75 277.2V272.37H1099.85V277.2M1102.95 277.2V272.37H1106.05V277.2M1109.15 277.2V272.37H1112.25V277.2M1115.35 277.2V272.37H1118.45V277.2M1121.55 277.2V272.37H1124.65V277.2M1127.75 277.2V272.37H1130.85V277.2M1133.95 277.2V272.37H1137.05V277.2M1140.15 277.2V272.37H1143.25V277.2" stroke="#222" stroke-width="0.5" fill="none"/><path d="M910.8 137.7L910.8 279.8L1060 279.8" stroke="#111" stroke-width="1.4" fill="none"/><path d="M1076.6 278.6L1147.6 278.6L1147.6 367.2" stroke="#111" stroke-width="1.6" fill="none"/><path d="M927.8 277.6L1060 277.6" stroke="#111" stroke-width="1.2"/><text x="967.5" y="274.6" font-size="3" text-anchor="middle">2% slope min</text><path d="M981 276.3L978 277L978 275.6Z" stroke="none" fill="#111"/><rect x="1148.7" y="256" width="13.6" height="111.2" stroke="#222" stroke-width="0.4" fill="#fff"/><path d="M1152 263H1160M1152 270.4H1160M1152 277.8H1160M1152 285.2H1160M1152 292.6H1160M1152 300H1160M1152 307.4H1160M1152 314.8H1160M1152 322.2H1160M1152 329.6H1160M1152 337H1160M1152 344.4H1160M1152 351.8H1160M1152 359.2H1160M1152 366.6H1160" stroke="#333" stroke-width="0.4" fill="none"/><rect x="927.8" y="144.6" width="6.5" height="54.5" stroke="#222" stroke-width="0.5" fill="url(#clad)"/><rect x="928.5" y="151.8" width="5.1" height="12.9" stroke="#111" stroke-width="0.5" fill="#fff"/><path d="M931 151.8L931 164.7" stroke="#222" stroke-width="0.4"/><path d="M921.8 137L931 137.6L934.5 139.2L936 143.5L934.5 148" stroke="#111" stroke-width="1.2" fill="none"/><path d="M929 139.5L931 147" stroke="#111" stroke-width="0.9" fill="none"/><path d="M773.8 199.1L880 199.1" stroke="#222" stroke-width="0.6"/><path d="M773.8 212.5L880 212.5" stroke="#222" stroke-width="0.5"/><rect x="773.8" y="213.8" width="106.2" height="7.5" stroke="#222" stroke-width="0.45" fill="#fff"/><path d="M775.2 221.3V216.2H778V221.3M780.8 221.3V216.2H783.6V221.3M786.4 221.3V216.2H789.2V221.3M792 221.3V216.2H794.8V221.3M797.6 221.3V216.2H800.4V221.3M803.2 221.3V216.2H806V221.3M808.8 221.3V216.2H811.6V221.3M814.4 221.3V216.2H817.2V221.3M820 221.3V216.2H822.8V221.3M825.6 221.3V216.2H828.4V221.3M831.2 221.3V216.2H834V221.3M836.8 221.3V216.2H839.6V221.3M842.4 221.3V216.2H845.2V221.3M848 221.3V216.2H850.8V221.3M853.6 221.3V216.2H856.4V221.3M859.2 221.3V216.2H862V221.3M864.8 221.3V216.2H867.6V221.3M870.4 221.3V216.2H873.2V221.3M876 221.3V216.2H878.8V221.3" stroke="#222" stroke-width="0.5" fill="none"/><path d="M773.8 221.3L880 221.3" stroke="#222" stroke-width="0.55"/><path d="M880 199.1L880 221.3" stroke="#222" stroke-width="0.5"/><path d="M773.8 195L773.8 317.2" stroke="#222" stroke-width="0.45"/><path d="M773.8 231.6L770.72 232.92L776.88 234.68L773.8 236" stroke="#222" stroke-width="0.45" fill="#fff"/><path d="M775 317.5L795 331.2" stroke="#222" stroke-width="0.5" fill="none"/><path d="M792.5 331.2L1060 331.2" stroke="#222" stroke-width="0.6"/><path d="M1076.6 331.2L1108.3 331.2" stroke="#222" stroke-width="0.6"/><path d="M1108.3 331.2L1108.3 367.2" stroke="#222" stroke-width="0.5"/><path d="M1060 279.8L1060 339.2" stroke="#222" stroke-width="0.45"/><path d="M1076.6 279.8L1076.6 339.2" stroke="#222" stroke-width="0.45"/><path d="M798.8 331.2L798.8 363" stroke="#222" stroke-width="0.5"/><path d="M862.5 331.2L862.5 363" stroke="#222" stroke-width="0.5"/><path d="M793.3 363L872 363" stroke="#222" stroke-width="0.45"/><path d="M829.9 363L831.46 359.36L833.54 366.64L835.1 363" stroke="#222" stroke-width="0.45" fill="#fff"/><path d="M1097.6 367.2L1227.7 367.2" stroke="#222" stroke-width="0.45"/><path d="M1161 367.2L1162.56 363.56L1164.64 370.84L1166.2 367.2" stroke="#222" stroke-width="0.45" fill="#fff"/><path d="M793.3 98.5L932 98.5" stroke="#222" stroke-width="0.45"/><path d="M859.6 98.5L861.16 94.86L863.24 102.14L864.8 98.5" stroke="#222" stroke-width="0.45" fill="#fff"/><path d="M798.8 84L798.8 199.1" stroke="#222" stroke-width="0.45"/><path d="M862.2 84L862.2 121.5" stroke="#222" stroke-width="0.45"/><path d="M798.8 121.5L862.2 121.5" stroke="#222" stroke-width="0.5"/><rect x="808.1" y="117.6" width="45.1" height="3.9" stroke="#333" stroke-width="0.4" fill="none" stroke-dasharray="1.2 1"/><path d="M798.8 125.3L864.8 125.3" stroke="#222" stroke-width="0.5"/><path d="M867.4 125.3L867.4 199.1" stroke="#444" stroke-width="0.4"/><path d="M921.1 98.5L921.1 120.2" stroke="#222" stroke-width="0.4"/><path d="M923.3 98.5L923.3 120.2" stroke="#222" stroke-width="0.4"/><path d="M925.2 98.5L925.2 120.2" stroke="#222" stroke-width="0.4"/><path d="M927.2 98.5L927.2 120.2" stroke="#222" stroke-width="0.4"/><path d="M928.9 98.5L928.9 120.2" stroke="#222" stroke-width="0.4"/><path d="M932.1 98.5L932.1 120.2" stroke="#222" stroke-width="0.4"/><rect x="923.3" y="98.5" width="1.9" height="21.7" stroke="none" fill="#bbb"/><rect x="927.2" y="98.5" width="1.7" height="21.7" stroke="none" fill="#bbb"/><path d="M891.4 98.5L891.4 119" stroke="#222" stroke-width="0.4"/><path d="M910.1 73L910.1 137.7" stroke="#222" stroke-width="0.45"/><path d="M921.1 73L921.1 98.5" stroke="#333" stroke-width="0.4"/><rect x="891.4" y="118.9" width="40.7" height="6.5" stroke="#111" stroke-width="0.6" fill="#fff"/><rect x="920.5" y="119.8" width="10.5" height="4.8" stroke="#111" stroke-width="0.9" fill="none"/><rect x="915" y="119.4" width="4" height="6" stroke="#111" stroke-width="0.6" fill="none"/><rect x="910.1" y="125.4" width="22" height="5.2" stroke="#111" stroke-width="0.8" fill="#fff"/><rect x="911" y="126.3" width="3" height="3.3" stroke="#111" stroke-width="0.5" fill="none"/><rect x="891.4" y="130.6" width="30.4" height="5.8" stroke="#111" stroke-width="0.7" fill="#fff"/><rect x="921.8" y="130.6" width="6.2" height="6.8" stroke="#111" stroke-width="0.6" fill="#fff"/><path d="M892.4 137.3L921.8 137.3" stroke="#111" stroke-width="1.9"/><rect x="864.5" y="125.3" width="31.5" height="5.5" stroke="#111" stroke-width="0.5" fill="#fff"/><rect x="866" y="125.6" width="25" height="3" stroke="none" fill="url(#hatchd)"/><path d="M864.5 125.7L891.4 125.7" stroke="#111" stroke-width="1.1"/><path d="M867 129L891.4 129" stroke="#111" stroke-width="0.9"/><rect x="892" y="126.6" width="3.6" height="3.8" stroke="#111" stroke-width="0.7" fill="#fff"/><path d="M868 123L870 119.5L872.5 123" stroke="#222" stroke-width="0.4" fill="none"/><path d="M873 119.6L886 119.6" stroke="#999" stroke-width="0.6"/><path d="M866.4 130.8L866.4 199.1" stroke="#222" stroke-width="0.5"/><path d="M868.2 130.8L868.2 199.1" stroke="#222" stroke-width="0.5"/><path d="M870 130.8L870 199.1" stroke="#222" stroke-width="0.5"/><path d="M868.2 182L868.2 199.1" stroke="#111" stroke-width="1.2"/><path d="M878.4 130.8L878.4 199.1" stroke="#222" stroke-width="0.5"/><path d="M881 130.8L881 199.1" stroke="#222" stroke-width="0.5"/><path d="M836 137.3L866 137.3" stroke="#444" stroke-width="0.4"/><rect x="853.8" y="109.9" width="104.2" height="82.2" rx="2.5" stroke="#333" stroke-width="0.45" stroke-dasharray="1.6 1.2" fill="none"/><path d="M970.2 99.3L965 99.3L958 110" stroke="#222" stroke-width="0.45" fill="none"/><circle cx="977.5" cy="99.3" r="7.3" stroke="#222" stroke-width="0.45" fill="#fff"/><path d="M970.2 99.3L984.8 99.3" stroke="#222" stroke-width="0.4"/><text x="977.5" y="98.4" font-size="3.4" text-anchor="middle">2</text><text x="977.5" y="103.2" font-size="3.5" text-anchor="middle">A-552</text><path d="M830.5 60L830.5 384" stroke="#333" stroke-width="0.45" stroke-dasharray="7 1.2 1.2 1.2"/><circle cx="830.5" cy="52.6" r="7.5" stroke="#222" stroke-width="0.5" fill="#fff"/><text x="830.5" y="54.7" font-size="5.8" text-anchor="middle" font-weight="bold">H</text><path d="M828.3 76.2L912.3 76.2" stroke="#333" stroke-width="0.4"/><path d="M828.9 77.8L832.1 74.6" stroke="#111" stroke-width="0.7"/><path d="M908.5 77.8L911.7 74.6" stroke="#111" stroke-width="0.7"/><text x="870.3" y="74.4" font-size="4" text-anchor="middle">540</text><path d="M907.9 76.2L923.3 76.2" stroke="#333" stroke-width="0.4"/><path d="M908.5 77.8L911.7 74.6" stroke="#111" stroke-width="0.7"/><path d="M919.5 77.8L922.7 74.6" stroke="#111" stroke-width="0.7"/><text x="915.6" y="74.4" font-size="4" text-anchor="middle">75</text><path d="M796.6 87.5L832.7 87.5" stroke="#333" stroke-width="0.4"/><path d="M797.2 89.1L800.4 85.9" stroke="#111" stroke-width="0.7"/><path d="M828.9 89.1L832.1 85.9" stroke="#111" stroke-width="0.7"/><text x="814.65" y="85.7" font-size="4" text-anchor="middle">eq.</text><path d="M828.3 87.5L864.4 87.5" stroke="#333" stroke-width="0.4"/><path d="M828.9 89.1L832.1 85.9" stroke="#111" stroke-width="0.7"/><path d="M860.6 89.1L863.8 85.9" stroke="#111" stroke-width="0.7"/><text x="846.35" y="85.7" font-size="4" text-anchor="middle">eq.</text><path d="M839.6 135.1L839.6 201.3" stroke="#333" stroke-width="0.4"/><path d="M838 138.9L841.2 135.7" stroke="#111" stroke-width="0.7"/><path d="M838 200.7L841.2 197.5" stroke="#111" stroke-width="0.7"/><text x="837.5" y="168.2" font-size="4" text-anchor="middle" transform="rotate(-90 837.5 168.2)">415</text><path d="M934.3 154.5L970 154.5" stroke="#333" stroke-width="0.4"/><path d="M967.1 152.3L967.1 201.3" stroke="#333" stroke-width="0.4"/><path d="M965.5 156.1L968.7 152.9" stroke="#111" stroke-width="0.7"/><path d="M965.5 200.7L968.7 197.5" stroke="#111" stroke-width="0.7"/><text x="965" y="176.8" font-size="4" text-anchor="middle" transform="rotate(-90 965 176.8)">300</text><path d="M851.8 172.3L910.8 172.3" stroke="#333" stroke-width="0.4"/><circle cx="867.4" cy="172.3" r="0.8" fill="#111"/><circle cx="910.8" cy="172.3" r="0.8" fill="#111"/><path d="M842.2 172.3L844.1 169.1L849.9 169.1L851.8 172.3L849.9 175.5L844.1 175.5Z" stroke="#222" stroke-width="0.45" fill="#fff"/><text x="847" y="173.6" font-size="3.7" text-anchor="middle">W2</text><path d="M786.5 185L786.5 331.2" stroke="#222" stroke-width="0.45"/><circle cx="786.5" cy="199.1" r="0.8" fill="#111"/><circle cx="786.5" cy="265" r="0.8" fill="#111"/><circle cx="786.5" cy="331.2" r="0.8" fill="#111"/><path d="M790.47 182.45L788.15 184.77L784.85 184.77L782.53 182.45L782.53 179.15L784.85 176.83L788.15 176.83L790.47 179.15Z" stroke="#222" stroke-width="0.45" fill="#fff"/><text x="786.5" y="181.9" font-size="2.9" text-anchor="middle">FL2</text><text x="789.2" y="297.5" font-size="3.4" text-anchor="middle" transform="rotate(-90 789.2 297.5)">690</text><path d="M1032.5 253.8L1032.5 345.5" stroke="#222" stroke-width="0.45"/><circle cx="1032.5" cy="331.2" r="0.8" fill="#111"/><path d="M1027.7 348.8L1029.6 345.6L1035.4 345.6L1037.3 348.8L1035.4 352L1029.6 352Z" stroke="#222" stroke-width="0.45" fill="#fff"/><text x="1032.5" y="350.1" font-size="3.7" text-anchor="middle">R3</text><path d="M1095 343.5L1162.3 343.5" stroke="#333" stroke-width="0.4"/><circle cx="1108.3" cy="343.5" r="0.8" fill="#111"/><circle cx="1162.3" cy="343.5" r="0.8" fill="#111"/><path d="M1085.4 343.5L1087.3 340.3L1093.1 340.3L1095 343.5L1093.1 346.7L1087.3 346.7Z" stroke="#222" stroke-width="0.45" fill="#fff"/><text x="1090.2" y="344.8" font-size="3.7" text-anchor="middle">W4</text><path d="M910.4 210L927.8 210" stroke="#111" stroke-width="0.5"/><path d="M927.5 210L924 210.8L924 209.2Z" stroke="none" fill="#111"/><circle cx="910.8" cy="210" r="0.8" fill="#111"/><path d="M1145.5 367.2L1145.5 384" stroke="#333" stroke-width="0.4"/><path d="M828.3 380.9L1147.7 380.9" stroke="#333" stroke-width="0.4"/><path d="M828.9 382.5L832.1 379.3" stroke="#111" stroke-width="0.7"/><path d="M1143.9 382.5L1147.1 379.3" stroke="#111" stroke-width="0.7"/><text x="987.5" y="379.1" font-size="4" text-anchor="middle">1930</text><path d="M932 125.3L1359.3 125.3" stroke="#333" stroke-width="0.45" stroke-dasharray="7 1.2 1.2 1.2"/><path d="M1339.8 125.3A9.75 8.5 0 0 1 1359.3 125.3Z" stroke="#222" stroke-width="0.5" fill="#fff"/><text x="1349.55" y="123.3" font-size="3.8" text-anchor="middle">500</text><text x="1336.3" y="123.1" font-size="4.15" text-anchor="end">T/O SILL</text><path d="M932.5 144.6L1359.3 144.6" stroke="#333" stroke-width="0.45" stroke-dasharray="7 1.2 1.2 1.2"/><path d="M1339.8 144.6A9.75 8.5 0 0 1 1359.3 144.6Z" stroke="#222" stroke-width="0.5" fill="#fff"/><text x="1349.55" y="142.6" font-size="3.8" text-anchor="middle">370</text><text x="1336.3" y="142.4" font-size="4.15" text-anchor="end">T/O HIGHEST POINT OF GRADE</text><path d="M773.8 199.1L1359.3 199.1" stroke="#333" stroke-width="0.45" stroke-dasharray="7 1.2 1.2 1.2"/><path d="M1339.8 199.1A9.75 8.5 0 0 1 1359.3 199.1Z" stroke="#222" stroke-width="0.5" fill="#fff"/><text x="1349.55" y="197.1" font-size="3.8" text-anchor="middle">0</text><text x="1336.3" y="196.9" font-size="4.15" text-anchor="end">T/O LEVEL 1</text><text x="1200" y="139.6" font-size="3.7" text-anchor="end" font-weight="bold">2% slope min</text><path d="M1176.3 140.6L1200 140.6" stroke="#222" stroke-width="0.4"/><path d="M1208.5 140.6L1204.9 141.5L1204.9 139.7Z" stroke="none" fill="#111"/><text x="784" y="132.6" font-size="3.7" text-anchor="middle" font-weight="bold">TODDLER</text><text x="784" y="136.7" font-size="3.7" text-anchor="middle" font-weight="bold">PLAYROOM</text><rect x="779.25" y="138.9" width="9.5" height="4.6" stroke="#222" stroke-width="0.4" fill="none"/><text x="784" y="142.6" font-size="3.5" text-anchor="middle">140</text><text x="977.5" y="341.7" font-size="3.7" text-anchor="middle" font-weight="bold">MECHANICAL</text><text x="977.5" y="345.8" font-size="3.7" text-anchor="middle" font-weight="bold">ROOM</text><rect x="972.75" y="348" width="9.5" height="4.6" stroke="#222" stroke-width="0.4" fill="none"/><text x="977.5" y="351.7" font-size="3.5" text-anchor="middle">004</text><text x="773" y="166.95" font-size="4.15">RB-2</text><path d="M784 165.5L788 165.5L866.1 187.5" stroke="#222" stroke-width="0.5" fill="none"/><path d="M866.1 187.5L862.07 187.04L862.43 185.79Z" stroke="none" fill="#111"/><text x="945.8" y="72.45" font-size="4.15">GLULAM COLUMN</text><path d="M943.5 71L940 71L862.5 107.5" stroke="#222" stroke-width="0.5" fill="none"/><path d="M862.5 107.5L865.84 105.21L866.4 106.38Z" stroke="none" fill="#111"/><text x="945.8" y="80.95" font-size="4.15">CONC-A BASE</text><path d="M943.5 79.5L940 79.5L844.5 125" stroke="#222" stroke-width="0.5" fill="none"/><path d="M844.5 125L847.83 122.69L848.39 123.87Z" stroke="none" fill="#111"/><text font-size="4.15"><tspan x="945.8" y="88.95">CURTAIN WALL GLAZING</tspan><tspan x="945.8" y="93.1">SYSTEM</tspan></text><path d="M943.5 87.5L940 87.5L929.5 100" stroke="#222" stroke-width="0.5" fill="none"/><path d="M929.5 100L931.58 96.52L932.57 97.36Z" stroke="none" fill="#111"/><text font-size="4.15"><tspan x="1042.5" y="70.95">DRAINAGE MAT TO EXTEND 300mm</tspan><tspan x="1042.5" y="75.1">MIN. ABOVE GRADE (TYP.). REFER</tspan><tspan x="1042.5" y="79.25">TO GEOTECH</tspan></text><path d="M1040 69.5L1036.3 69.5L933.8 147.5" stroke="#222" stroke-width="0.5" fill="none"/><path d="M933.8 147.5L936.59 144.56L937.38 145.59Z" stroke="none" fill="#111"/><text font-size="4.15"><tspan x="1042.5" y="85.25">FLUSH ACCESS PANEL W/ GRANITE</tspan><tspan x="1042.5" y="89.4">STONE INLAY TO MATCH STO-1.</tspan><tspan x="1042.5" y="93.55">REFER TO 2/A-201 FOR MOUNTING</tspan><tspan x="1042.5" y="97.7">HEIGHT</tspan></text><path d="M1040 83.8L1036.3 83.8L933.8 162.5" stroke="#222" stroke-width="0.5" fill="none"/><path d="M933.8 162.5L936.58 159.55L937.37 160.58Z" stroke="none" fill="#111"/><text font-size="4.15"><tspan x="1042.5" y="111.25">PERIMETER GRANITE CURB AT</tspan><tspan x="1042.5" y="115.4">PLANTER. T/O CURB TO SLOPE TO</tspan><tspan x="1042.5" y="119.55">MATCH ADJACENT GRADE (REFER</tspan><tspan x="1042.5" y="123.7">TO LANDSCAPE ARCH.)</tspan></text><path d="M1040 109.8L1036.3 109.8L1006.3 140" stroke="#222" stroke-width="0.5" fill="none"/><path d="M1006.3 140L1008.66 136.7L1009.58 137.62Z" stroke="none" fill="#111"/><text font-size="4.15"><tspan x="1042.5" y="130.95">CRUSHED STONE LEVEL AT</tspan><tspan x="1042.5" y="135.1">APPROX 77.050 GEO</tspan><tspan x="1042.5" y="139.25">(REFER TO LANDSCAPE ARCH.)</tspan></text><path d="M1040 129.5L1036.3 129.5L976.3 198.8" stroke="#222" stroke-width="0.5" fill="none"/><path d="M976.3 198.8L978.43 195.35L979.41 196.2Z" stroke="none" fill="#111"/><text x="1125" y="71.25" font-size="3.9" font-weight="bold">EXTERIOR</text><text font-size="4.15"><tspan x="1182.5" y="101.45">PLANTER AT GRADE</tspan><tspan x="1182.5" y="105.6">(REFER TO LANDSCAPE ARCH.)</tspan></text><path d="M1180 100L1176.3 100L1108.8 148.8" stroke="#222" stroke-width="0.5" fill="none"/><path d="M1108.8 148.8L1111.66 145.93L1112.42 146.98Z" stroke="none" fill="#111"/><text font-size="4.15"><tspan x="1182.5" y="113.75">GRANITE ROLLED CURB AT PLANTER EDGE</tspan><tspan x="1182.5" y="117.9">(REFER TO LANDSCAPE ARCH.)</tspan></text><path d="M1180 112.3L1176.3 112.3L1147.5 145" stroke="#222" stroke-width="0.5" fill="none"/><path d="M1147.5 145L1149.66 141.57L1150.63 142.43Z" stroke="none" fill="#111"/><text font-size="4.15"><tspan x="1247" y="276.45">VAPOUR BARRIER APPLIED</tspan><tspan x="1247" y="280.6">ON DRAINAGE MAT</tspan><tspan x="1247" y="284.75">OUTBOARD OF INSULATION</tspan><tspan x="1247" y="288.9">PLANE. REFER TO GEOTECH</tspan></text><path d="M1244.5 275L1241.3 275L1227.7 280" stroke="#333" stroke-width="0.4" fill="none"/><text font-size="4.15"><tspan x="1247" y="310.75">LAP ROOFING MEMBRANE</tspan><tspan x="1247" y="314.9">OVER WALL MEMBRANE</tspan></text><path d="M1244.5 309.3L1241.3 309.3L1148 338.8" stroke="#222" stroke-width="0.5" fill="none"/><path d="M1148 338.8L1151.62 336.97L1152.01 338.21Z" stroke="none" fill="#111"/><text x="894.3" y="354.75" font-size="4.15">CONCRETE COLUMN</text><path d="M892 353.3L887.5 353.3L875 350.5" stroke="#333" stroke-width="0.4" fill="none"/><path d="M862.7 345.5L866.65 346.4L866.16 347.61Z" stroke="none" fill="#111"/></g><g id="p7"><rect x="798.8" y="510.5" width="68.6" height="73.6" stroke="none" fill="url(#lconc)"/><rect x="824.5" y="694" width="37.5" height="53.5" stroke="none" fill="url(#lconc)"/><path d="M882.3 523L910.8 523L910.8 650L967.7 650L967.7 696.3L792.5 693.3L792.5 650.1L774.2 650.1L774.2 606.4L882.3 606.4Z" stroke="none" fill="url(#conc)"/><rect x="774.2" y="584.1" width="108.1" height="14.9" stroke="none" fill="url(#conc)"/><g transform="translate(0 385.0)"><path d="M793.3 98.5L932 98.5" stroke="#222" stroke-width="0.45"/><path d="M859.6 98.5L861.16 94.86L863.24 102.14L864.8 98.5" stroke="#222" stroke-width="0.45" fill="#fff"/><path d="M798.8 84L798.8 199.1" stroke="#222" stroke-width="0.45"/><path d="M862.2 84L862.2 121.5" stroke="#222" stroke-width="0.45"/><path d="M798.8 121.5L862.2 121.5" stroke="#222" stroke-width="0.5"/><rect x="808.1" y="117.6" width="45.1" height="3.9" stroke="#333" stroke-width="0.4" fill="none" stroke-dasharray="1.2 1"/><path d="M798.8 125.3L864.8 125.3" stroke="#222" stroke-width="0.5"/><path d="M867.4 125.3L867.4 199.1" stroke="#444" stroke-width="0.4"/><path d="M921.1 98.5L921.1 120.2" stroke="#222" stroke-width="0.4"/><path d="M923.3 98.5L923.3 120.2" stroke="#222" stroke-width="0.4"/><path d="M925.2 98.5L925.2 120.2" stroke="#222" stroke-width="0.4"/><path d="M927.2 98.5L927.2 120.2" stroke="#222" stroke-width="0.4"/><path d="M928.9 98.5L928.9 120.2" stroke="#222" stroke-width="0.4"/><path d="M932.1 98.5L932.1 120.2" stroke="#222" stroke-width="0.4"/><rect x="923.3" y="98.5" width="1.9" height="21.7" stroke="none" fill="#bbb"/><rect x="927.2" y="98.5" width="1.7" height="21.7" stroke="none" fill="#bbb"/><path d="M891.4 98.5L891.4 119" stroke="#222" stroke-width="0.4"/><path d="M910.1 73L910.1 137.7" stroke="#222" stroke-width="0.45"/><path d="M921.1 73L921.1 98.5" stroke="#333" stroke-width="0.4"/><rect x="891.4" y="118.9" width="40.7" height="6.5" stroke="#111" stroke-width="0.6" fill="#fff"/><rect x="920.5" y="119.8" width="10.5" height="4.8" stroke="#111" stroke-width="0.9" fill="none"/><rect x="915" y="119.4" width="4" height="6" stroke="#111" stroke-width="0.6" fill="none"/><rect x="910.1" y="125.4" width="22" height="5.2" stroke="#111" stroke-width="0.8" fill="#fff"/><rect x="911" y="126.3" width="3" height="3.3" stroke="#111" stroke-width="0.5" fill="none"/><rect x="891.4" y="130.6" width="30.4" height="5.8" stroke="#111" stroke-width="0.7" fill="#fff"/><rect x="921.8" y="130.6" width="6.2" height="6.8" stroke="#111" stroke-width="0.6" fill="#fff"/><path d="M892.4 137.3L921.8 137.3" stroke="#111" stroke-width="1.9"/><rect x="864.5" y="125.3" width="31.5" height="5.5" stroke="#111" stroke-width="0.5" fill="#fff"/><rect x="866" y="125.6" width="25" height="3" stroke="none" fill="url(#hatchd)"/><path d="M864.5 125.7L891.4 125.7" stroke="#111" stroke-width="1.1"/><path d="M867 129L891.4 129" stroke="#111" stroke-width="0.9"/><rect x="892" y="126.6" width="3.6" height="3.8" stroke="#111" stroke-width="0.7" fill="#fff"/><path d="M868 123L870 119.5L872.5 123" stroke="#222" stroke-width="0.4" fill="none"/><path d="M873 119.6L886 119.6" stroke="#999" stroke-width="0.6"/><path d="M866.4 130.8L866.4 199.1" stroke="#222" stroke-width="0.5"/><path d="M868.2 130.8L868.2 199.1" stroke="#222" stroke-width="0.5"/><path d="M870 130.8L870 199.1" stroke="#222" stroke-width="0.5"/><path d="M868.2 182L868.2 199.1" stroke="#111" stroke-width="1.2"/><path d="M878.4 130.8L878.4 199.1" stroke="#222" stroke-width="0.5"/><path d="M881 130.8L881 199.1" stroke="#222" stroke-width="0.5"/><path d="M836 137.3L866 137.3" stroke="#444" stroke-width="0.4"/></g><rect x="910.8" y="524.6" width="9.7" height="100.3" stroke="#222" stroke-width="0.45" fill="#fff"/><path d="M912.4 526.82H918.9M912.4 530.52H918.9M912.4 534.22H918.9M912.4 537.92H918.9M912.4 541.62H918.9M912.4 545.32H918.9M912.4 549.02H918.9M912.4 552.72H918.9M912.4 556.42H918.9M912.4 560.12H918.9M912.4 563.82H918.9M912.4 567.52H918.9M912.4 571.22H918.9M912.4 574.92H918.9M912.4 578.62H918.9M912.4 582.32H918.9M912.4 586.02H918.9M912.4 589.72H918.9M912.4 593.42H918.9M912.4 597.12H918.9M912.4 600.82H918.9M912.4 604.52H918.9M912.4 608.22H918.9M912.4 611.92H918.9M912.4 615.62H918.9M912.4 619.32H918.9M912.4 623.02H918.9" stroke="#777" stroke-width="0.6" fill="none"/><clipPath id="p7c"><path d="M920.5 524L929 524L929 590L926 595L920.5 597Z"/></clipPath><g clip-path="url(#p7c)"><rect x="920.5" y="524.6" width="8.4" height="73.4" stroke="#222" stroke-width="0.45" fill="#fff"/><path d="M922.1 526.82H927.3M922.1 530.52H927.3M922.1 534.22H927.3M922.1 537.92H927.3M922.1 541.62H927.3M922.1 545.32H927.3M922.1 549.02H927.3M922.1 552.72H927.3M922.1 556.42H927.3M922.1 560.12H927.3M922.1 563.82H927.3M922.1 567.52H927.3M922.1 571.22H927.3M922.1 574.92H927.3M922.1 578.62H927.3M922.1 582.32H927.3M922.1 586.02H927.3M922.1 589.72H927.3M922.1 593.42H927.3M922.1 597.12H927.3" stroke="#777" stroke-width="0.6" fill="none"/></g><path d="M928.9 530.4H934.7V590.6Q933 596 923 597.2" stroke="#222" stroke-width="0.5" fill="none"/><rect x="928.9" y="530.4" width="5.8" height="59.6" stroke="#222" stroke-width="0.5" fill="url(#clad)"/><path d="M920.5 597.5Q930 597 934.7 589" stroke="#111" stroke-width="1.2" fill="none"/><path d="M921.8 522L931 522.6L934.5 524.2L936 528.5L934.5 533" stroke="#111" stroke-width="1.2" fill="none"/><rect x="912" y="624.9" width="55.7" height="22.6" stroke="#222" stroke-width="0.45" fill="#fff"/><path d="M913.6 632.43V627.31H916.8V632.43M920 632.43V627.31H923.2V632.43M926.4 632.43V627.31H929.6V632.43M932.8 632.43V627.31H936V632.43M939.2 632.43V627.31H942.4V632.43M945.6 632.43V627.31H948.8V632.43M952 632.43V627.31H955.2V632.43M958.4 632.43V627.31H961.6V632.43M912 632.43H967.7M916.8 639.97V634.84H920V639.97M923.2 639.97V634.84H926.4V639.97M929.6 639.97V634.84H932.8V639.97M936 639.97V634.84H939.2V639.97M942.4 639.97V634.84H945.6V639.97M948.8 639.97V634.84H952V639.97M955.2 639.97V634.84H958.4V639.97M961.6 639.97V634.84H964.8V639.97M912 639.97H967.7M913.6 647.5V642.38H916.8V647.5M920 647.5V642.38H923.2V647.5M926.4 647.5V642.38H929.6V647.5M932.8 647.5V642.38H936V647.5M939.2 647.5V642.38H942.4V647.5M945.6 647.5V642.38H948.8V647.5M952 647.5V642.38H955.2V647.5M958.4 647.5V642.38H961.6V647.5" stroke="#222" stroke-width="0.5" fill="none"/><path d="M910.8 523L910.8 649.2L967.7 649.2" stroke="#111" stroke-width="1.6" fill="none"/><text x="940" y="645.5" font-size="3" text-anchor="middle">2% slope min</text><path d="M954 646L951 646.7L951 645.3Z" stroke="none" fill="#111"/><rect x="936.7" y="585.4" width="20" height="3.9" stroke="#222" stroke-width="0.5" fill="#fff"/><path d="M948.3 589.3L948.3 624.9" stroke="#222" stroke-width="0.45"/><path d="M956.7 589.3L956.7 624.9" stroke="#222" stroke-width="0.45"/><path d="M938 589.3L938 624.9" stroke="#444" stroke-width="0.4"/><path d="M967.7 568.6L967.7 721" stroke="#222" stroke-width="0.45"/><path d="M967.7 638L964.9 639.2L970.5 640.8L967.7 642" stroke="#222" stroke-width="0.45" fill="#fff"/><path d="M774.2 584.1L882.3 584.1" stroke="#222" stroke-width="0.6"/><path d="M774.2 599L882.3 599" stroke="#222" stroke-width="0.5"/><rect x="774.2" y="599" width="108.1" height="7.4" stroke="#222" stroke-width="0.45" fill="#fff"/><path d="M775.6 606.4V601.37H778.4V606.4M781.2 606.4V601.37H784V606.4M786.8 606.4V601.37H789.6V606.4M792.4 606.4V601.37H795.2V606.4M798 606.4V601.37H800.8V606.4M803.6 606.4V601.37H806.4V606.4M809.2 606.4V601.37H812V606.4M814.8 606.4V601.37H817.6V606.4M820.4 606.4V601.37H823.2V606.4M826 606.4V601.37H828.8V606.4M831.6 606.4V601.37H834.4V606.4M837.2 606.4V601.37H840V606.4M842.8 606.4V601.37H845.6V606.4M848.4 606.4V601.37H851.2V606.4M854 606.4V601.37H856.8V606.4M859.6 606.4V601.37H862.4V606.4M865.2 606.4V601.37H868V606.4M870.8 606.4V601.37H873.6V606.4M876.4 606.4V601.37H879.2V606.4" stroke="#222" stroke-width="0.5" fill="none"/><path d="M882.3 584.1L882.3 606.4" stroke="#222" stroke-width="0.5"/><path d="M774.2 568.6L774.2 662.5" stroke="#222" stroke-width="0.45"/><path d="M774.2 616.2L771.12 617.52L777.28 619.28L774.2 620.6" stroke="#222" stroke-width="0.45" fill="#fff"/><path d="M774.2 650.1L792.5 650.1" stroke="#222" stroke-width="0.5"/><path d="M792.5 693.3L967.7 696.3" stroke="#222" stroke-width="0.6" fill="none"/><rect x="792.5" y="650.1" width="6.3" height="43.4" stroke="#222" stroke-width="0.45" fill="#fff"/><path d="M794.1 652.32H797.2M794.1 656.02H797.2M794.1 659.72H797.2M794.1 663.42H797.2M794.1 667.12H797.2M794.1 670.82H797.2M794.1 674.52H797.2M794.1 678.22H797.2M794.1 681.92H797.2M794.1 685.62H797.2M794.1 689.32H797.2" stroke="#777" stroke-width="0.6" fill="none"/><rect x="792.5" y="693.5" width="32" height="54" stroke="#222" stroke-width="0.5" fill="#fff"/><rect x="792.5" y="693.5" width="4.5" height="54" stroke="#222" stroke-width="0.4" fill="url(#hatchl)"/><rect x="820" y="693.5" width="4.5" height="54" stroke="#222" stroke-width="0.4" fill="url(#hatchl)"/><path d="M797.5 694L819.5 700.6L797.5 707.2L819.5 713.8L797.5 720.4L819.5 727L797.5 733.6L819.5 740.2L797.5 746.8" stroke="#222" stroke-width="0.45" fill="none"/><path d="M819.5 694L797.5 700.6L819.5 707.2L797.5 713.8L819.5 720.4L797.5 727L819.5 733.6L797.5 740.2L819.5 746.8" stroke="#222" stroke-width="0.45" fill="none"/><path d="M862 695L862 747.5" stroke="#222" stroke-width="0.5"/><path d="M785 747.5L877.5 747.5" stroke="#222" stroke-width="0.45"/><path d="M829.9 747.5L831.46 743.86L833.54 751.14L835.1 747.5" stroke="#222" stroke-width="0.45" fill="#fff"/><path d="M927 545.3H877.5Q872.6 545.3 872.6 550V584M927 549.2H879Q875.5 549.2 875.5 553V584" stroke="#333" stroke-width="0.45" stroke-dasharray="1.6 1.2" fill="none"/><rect x="851.3" y="493.3" width="102.5" height="60.5" rx="2" stroke="#333" stroke-width="0.45" stroke-dasharray="1.6 1.2" fill="none"/><path d="M978.2 477L971.3 477L953.8 493.3" stroke="#222" stroke-width="0.45" fill="none"/><circle cx="985.5" cy="477" r="7.3" stroke="#222" stroke-width="0.45" fill="#fff"/><path d="M978.2 477L992.8 477" stroke="#222" stroke-width="0.4"/><text x="985.5" y="476.1" font-size="3.4" text-anchor="middle">7</text><text x="985.5" y="480.9" font-size="3.5" text-anchor="middle">A-552</text><path d="M830.5 446L830.5 750" stroke="#333" stroke-width="0.45" stroke-dasharray="7 1.2 1.2 1.2"/><circle cx="830.5" cy="438.3" r="7.5" stroke="#222" stroke-width="0.5" fill="#fff"/><text x="830.5" y="440.4" font-size="5.8" text-anchor="middle" font-weight="bold">F</text><path d="M828.3 462L912.2 462" stroke="#333" stroke-width="0.4"/><path d="M828.9 463.6L832.1 460.4" stroke="#111" stroke-width="0.7"/><path d="M908.4 463.6L911.6 460.4" stroke="#111" stroke-width="0.7"/><text x="870.25" y="460.2" font-size="4" text-anchor="middle">540</text><path d="M907.8 462L923.5 462" stroke="#333" stroke-width="0.4"/><path d="M908.4 463.6L911.6 460.4" stroke="#111" stroke-width="0.7"/><path d="M919.7 463.6L922.9 460.4" stroke="#111" stroke-width="0.7"/><text x="915.65" y="460.2" font-size="4" text-anchor="middle">75</text><path d="M796.6 473L832.7 473" stroke="#333" stroke-width="0.4"/><path d="M797.2 474.6L800.4 471.4" stroke="#111" stroke-width="0.7"/><path d="M828.9 474.6L832.1 471.4" stroke="#111" stroke-width="0.7"/><text x="814.65" y="471.2" font-size="4" text-anchor="middle">eq.</text><path d="M828.3 473L864.2 473" stroke="#333" stroke-width="0.4"/><path d="M828.9 474.6L832.1 471.4" stroke="#111" stroke-width="0.7"/><path d="M860.4 474.6L863.6 471.4" stroke="#111" stroke-width="0.7"/><text x="846.25" y="471.2" font-size="4" text-anchor="middle">eq.</text><path d="M844.1 520.8L844.1 586.3" stroke="#333" stroke-width="0.4"/><path d="M842.5 524.6L845.7 521.4" stroke="#111" stroke-width="0.7"/><path d="M842.5 585.7L845.7 582.5" stroke="#111" stroke-width="0.7"/><text x="842" y="553.55" font-size="4" text-anchor="middle" transform="rotate(-90 842 553.55)">415</text><path d="M788.8 647.9L788.8 695.7" stroke="#333" stroke-width="0.4"/><path d="M787.2 651.7L790.4 648.5" stroke="#111" stroke-width="0.7"/><path d="M787.2 695.1L790.4 691.9" stroke="#111" stroke-width="0.7"/><text x="786.8" y="671.8" font-size="3.4" text-anchor="middle" transform="rotate(-90 786.8 671.8)">290</text><path d="M783.6 570L783.6 650.1" stroke="#222" stroke-width="0.45"/><circle cx="783.6" cy="584.1" r="0.8" fill="#111"/><circle cx="783.6" cy="650.1" r="0.8" fill="#111"/><path d="M787.57 567.65L785.25 569.97L781.95 569.97L779.63 567.65L779.63 564.35L781.95 562.03L785.25 562.03L787.57 564.35Z" stroke="#222" stroke-width="0.45" fill="#fff"/><text x="783.6" y="567.1" font-size="2.9" text-anchor="middle">FL2</text><path d="M956.3 584.1L956.3 709.6" stroke="#222" stroke-width="0.45"/><circle cx="956.3" cy="649" r="0.8" fill="#111"/><circle cx="956.3" cy="696" r="0.8" fill="#111"/><path d="M951.5 713.3L953.4 710.1L959.2 710.1L961.1 713.3L959.2 716.5L953.4 716.5Z" stroke="#222" stroke-width="0.45" fill="#fff"/><text x="956.3" y="714.6" font-size="3.7" text-anchor="middle">R3</text><path d="M895 510.5L1042.5 510.5" stroke="#333" stroke-width="0.45" stroke-dasharray="7 1.2 1.2 1.2"/><path d="M1023 510.5A9.75 8.5 0 0 1 1042.5 510.5Z" stroke="#222" stroke-width="0.5" fill="#fff"/><text x="1032.75" y="508.5" font-size="3.8" text-anchor="middle">500</text><text x="1019.5" y="508.3" font-size="4.15" text-anchor="end">T/O SILL</text><path d="M774.2 584.1L1042.5 584.1" stroke="#333" stroke-width="0.45" stroke-dasharray="7 1.2 1.2 1.2"/><path d="M1023 584.1A9.75 8.5 0 0 1 1042.5 584.1Z" stroke="#222" stroke-width="0.5" fill="#fff"/><text x="1032.75" y="582.1" font-size="3.8" text-anchor="middle">0</text><text x="1019.5" y="581.9" font-size="4.15" text-anchor="end">T/O LEVEL 1</text><text x="780.3" y="508.5" font-size="3.7" text-anchor="middle" font-weight="bold">OFFICE</text><rect x="775.55" y="510.7" width="9.5" height="4.6" stroke="#222" stroke-width="0.4" fill="none"/><text x="780.3" y="514.4" font-size="3.5" text-anchor="middle">137</text><text x="979.3" y="442.25" font-size="4.15">GLULAM COLUMN</text><path d="M977 440.8L971.3 440.8L862.5 489.3" stroke="#222" stroke-width="0.5" fill="none"/><path d="M862.5 489.3L865.89 487.08L866.42 488.27Z" stroke="none" fill="#111"/><text x="979.3" y="452.75" font-size="4.15">CONC-A BASE</text><path d="M977 451.3L971.3 451.3L837.5 510.5" stroke="#222" stroke-width="0.5" fill="none"/><path d="M837.5 510.5L840.89 508.29L841.42 509.48Z" stroke="none" fill="#111"/><text font-size="4.15"><tspan x="979.3" y="459.75">CURTAIN WALL GLAZING</tspan><tspan x="979.3" y="463.9">SYSTEM</tspan></text><path d="M977 458.3L971.3 458.3L928.8 489.3" stroke="#222" stroke-width="0.5" fill="none"/><path d="M928.8 489.3L931.65 486.42L932.41 487.47Z" stroke="none" fill="#111"/><text x="966.3" y="499.45" font-size="3.9" font-weight="bold">EXTERIOR</text><text font-size="4.15"><tspan x="979.3" y="517.95">DASHED LINE INDICATES</tspan><tspan x="979.3" y="522.1">ROUTING OF SUPPLY PIPES</tspan><tspan x="979.3" y="526.25">FOR NFHB WHERE</tspan><tspan x="979.3" y="530.4">APPLICABLE.</tspan></text><path d="M977 516.5L971.3 516.5L892.5 545" stroke="#222" stroke-width="0.5" fill="none"/><path d="M892.5 545L896.04 543.03L896.48 544.25Z" stroke="none" fill="#111"/><text font-size="4.15"><tspan x="979.3" y="562.25">STAINLESS STEEL STONE</tspan><tspan x="979.3" y="566.4">CLADDING SUPPORTS.</tspan><tspan x="979.3" y="570.55">SEAL AT PENETRATIONS</tspan></text><path d="M977 560.8L971.3 560.8L936.3 586.3" stroke="#222" stroke-width="0.5" fill="none"/><path d="M936.3 586.3L939.15 583.42L939.92 584.47Z" stroke="none" fill="#111"/><text font-size="4.15"><tspan x="979.3" y="597.95">OUTDOOR PLAY AREA</tspan><tspan x="979.3" y="602.1">(REFER TO LANDSCAPE ARCH.)</tspan></text><path d="M977 596.5L965 596.5L958 592" stroke="#333" stroke-width="0.4" fill="none"/><path d="M950 587.5L953.8 588.89L953.17 590.03Z" stroke="none" fill="#111"/><text x="979.3" y="623.25" font-size="4.15">RB-2</text><path d="M977 621.8L971.3 621.8L883.8 595" stroke="#222" stroke-width="0.5" fill="none"/><path d="M883.8 595L887.81 595.55L887.43 596.79Z" stroke="none" fill="#111"/><text x="979.3" y="631.45" font-size="4.15">ISOLATION BOARD</text><path d="M977 630L971.3 630L905 603.8" stroke="#222" stroke-width="0.5" fill="none"/><path d="M905 603.8L908.96 604.67L908.48 605.87Z" stroke="none" fill="#111"/><text x="892.5" y="737.25" font-size="4.15">CONCRETE COLUMN</text><path d="M890 735.8L885 735.8L874 734.5" stroke="#333" stroke-width="0.4" fill="none"/><path d="M862.2 732.5L866.25 732.53L866.04 733.81Z" stroke="none" fill="#111"/></g><g id="p8"><path d="M1133.2 540.8L1157.8 540.8L1162.7 542.7L1162.7 624.2L1090.5 624.2L1090.5 584.1L1133.2 584.1Z" stroke="none" fill="url(#conc)"/><path d="M1090.5 605.5L1100.2 605.5L1108 624.2L1090.5 624.2Z" stroke="none" fill="url(#gravel2)"/><rect x="1090.5" y="650" width="55" height="97.5" stroke="none" fill="url(#conc)"/><rect x="1162.7" y="552.4" width="65" height="195.1" stroke="none" fill="url(#gravel)"/><path d="M1133.2 529.1L1147.5 530L1162.7 532.6L1162.7 542.7L1157.8 540.8L1133.2 540.8Z" stroke="none" fill="url(#curb)"/><path d="M1133.2 529.1L1147.5 530L1162.7 532.6L1162.7 542.7L1157.8 540.8L1133.2 540.8Z" stroke="#222" stroke-width="0.5" fill="none"/><path d="M1162.7 533Q1195 531.5 1227.7 534.5V549.8H1162.7Z" fill="url(#curb)" stroke="#222" stroke-width="0.5"/><path d="M1175 533.5L1175 549.8" stroke="#444" stroke-width="0.35"/><path d="M1187.5 533.5L1187.5 549.8" stroke="#444" stroke-width="0.35"/><path d="M1204.5 533.5L1204.5 549.8" stroke="#444" stroke-width="0.35"/><path d="M1217 533.5L1217 549.8" stroke="#444" stroke-width="0.35"/><path d="M1162.7 552.4L1227.7 552.4" stroke="#222" stroke-width="0.45"/><path d="M1227.7 520.7L1227.7 747.5" stroke="#222" stroke-width="0.5"/><path d="M1115.8 418.3L1115.8 584.1" stroke="#222" stroke-width="0.5"/><path d="M1124.8 418.3L1124.8 584.1" stroke="#222" stroke-width="0.5"/><path d="M1126.8 418.3L1126.8 584.1" stroke="#222" stroke-width="0.5"/><path d="M1133.2 418.3L1133.2 584.1" stroke="#222" stroke-width="0.5"/><rect x="1124.8" y="418.3" width="2" height="165.8" stroke="none" fill="#bbb"/><path d="M1090.5 584.1L1133.2 584.1" stroke="#222" stroke-width="0.6"/><path d="M1133.2 540.8L1133.2 584.1" stroke="#222" stroke-width="0.5"/><path d="M1090.5 571.2L1090.5 747.5" stroke="#222" stroke-width="0.45"/><path d="M1090.5 657.8L1087.42 659.12L1093.58 660.88L1090.5 662.2" stroke="#222" stroke-width="0.45" fill="#fff"/><path d="M1100 610L1162 610" stroke="#555" stroke-width="0.45" stroke-dasharray="3 1.5"/><path d="M1090.5 605.5L1100.2 605.5L1108 624.2" stroke="#222" stroke-width="0.5" fill="none"/><rect x="1090.5" y="624.2" width="72.2" height="23.3" stroke="#222" stroke-width="0.45" fill="#fff"/><path d="M1092.05 631.97V626.69H1095.15V631.97M1098.25 631.97V626.69H1101.35V631.97M1104.45 631.97V626.69H1107.55V631.97M1110.65 631.97V626.69H1113.75V631.97M1116.85 631.97V626.69H1119.95V631.97M1123.05 631.97V626.69H1126.15V631.97M1129.25 631.97V626.69H1132.35V631.97M1135.45 631.97V626.69H1138.55V631.97M1141.65 631.97V626.69H1144.75V631.97M1147.85 631.97V626.69H1150.95V631.97M1154.05 631.97V626.69H1157.15V631.97M1090.5 631.97H1162.7M1095.15 639.73V634.45H1098.25V639.73M1101.35 639.73V634.45H1104.45V639.73M1107.55 639.73V634.45H1110.65V639.73M1113.75 639.73V634.45H1116.85V639.73M1119.95 639.73V634.45H1123.05V639.73M1126.15 639.73V634.45H1129.25V639.73M1132.35 639.73V634.45H1135.45V639.73M1138.55 639.73V634.45H1141.65V639.73M1144.75 639.73V634.45H1147.85V639.73M1150.95 639.73V634.45H1154.05V639.73M1157.15 639.73V634.45H1160.25V639.73M1090.5 639.73H1162.7M1092.05 647.5V642.22H1095.15V647.5M1098.25 647.5V642.22H1101.35V647.5M1104.45 647.5V642.22H1107.55V647.5M1110.65 647.5V642.22H1113.75V647.5M1116.85 647.5V642.22H1119.95V647.5M1123.05 647.5V642.22H1126.15V647.5M1129.25 647.5V642.22H1132.35V647.5M1135.45 647.5V642.22H1138.55V647.5M1141.65 647.5V642.22H1144.75V647.5M1147.85 647.5V642.22H1150.95V647.5M1154.05 647.5V642.22H1157.15V647.5" stroke="#222" stroke-width="0.5" fill="none"/><path d="M1090.5 648.8L1162.7 648.8" stroke="#111" stroke-width="1.6"/><text x="1112" y="641.8" font-size="3" text-anchor="middle">2% slope min</text><path d="M1098.5 640.5L1101.5 639.8L1101.5 641.2Z" stroke="none" fill="#111"/><rect x="1145.5" y="650" width="3.3" height="97.5" stroke="#222" stroke-width="0.4" fill="#fff"/><path d="M1147.1 650L1147.1 747.5" stroke="#111" stroke-width="1.4"/><path d="M1147.1 650L1147.1 747.5" stroke="#fff" stroke-width="0.45" stroke-dasharray="1.6 1.2"/><rect x="1148.8" y="650" width="13.9" height="97.5" stroke="#222" stroke-width="0.4" fill="#fff"/><path d="M1152 655H1160M1152 662.4H1160M1152 669.8H1160M1152 677.2H1160M1152 684.6H1160M1152 692H1160M1152 699.4H1160M1152 706.8H1160M1152 714.2H1160M1152 721.6H1160M1152 729H1160M1152 736.4H1160M1152 743.8H1160" stroke="#333" stroke-width="0.4" fill="none"/><path d="M1162.7 532.6L1162.7 747.5" stroke="#222" stroke-width="0.5"/><path d="M1086.3 747.5L1227.7 747.5" stroke="#222" stroke-width="0.45"/><path d="M1154.9 747.5L1156.46 743.86L1158.54 751.14L1160.1 747.5" stroke="#222" stroke-width="0.45" fill="#fff"/><path d="M1162.6 418L1162.6 533" stroke="#222" stroke-width="0.6" stroke-dasharray="9 2"/><text x="1157.6" y="437.5" font-size="3.6" text-anchor="middle" font-weight="bold" transform="rotate(-90 1157.6 437.5)">PROPERTY LINE</text><rect x="1105" y="466.3" width="85" height="143.7" stroke="#333" stroke-width="0.45" stroke-dasharray="1.6 1.2" fill="none"/><path d="M1212.2 451.3L1206.3 451.3L1190 466.3" stroke="#222" stroke-width="0.45" fill="none"/><circle cx="1219.5" cy="451.3" r="7.3" stroke="#222" stroke-width="0.45" fill="#fff"/><path d="M1212.2 451.3L1226.8 451.3" stroke="#222" stroke-width="0.4"/><text x="1219.5" y="450.4" font-size="3.4" text-anchor="middle">8</text><text x="1219.5" y="455.2" font-size="3.5" text-anchor="middle">A-506</text><path d="M1090.5 731.3L1237.3 731.3" stroke="#333" stroke-width="0.4"/><circle cx="1090.5" cy="731.3" r="0.8" fill="#111"/><circle cx="1145.5" cy="731.3" r="0.8" fill="#111"/><path d="M1237.2 731.3L1239.1 728.1L1244.9 728.1L1246.8 731.3L1244.9 734.5L1239.1 734.5Z" stroke="#222" stroke-width="0.45" fill="#fff"/><text x="1242" y="732.6" font-size="3.7" text-anchor="middle">W4</text><path d="M1133.2 584.1L1227.7 584.1" stroke="#aaa" stroke-width="0.4" stroke-dasharray="4 1.5"/><path d="M1227.7 584.1L1359.3 584.1" stroke="#666" stroke-width="0.5" stroke-dasharray="5 1.2 1.2 1.2"/><path d="M1339.8 584.1A9.75 8.5 0 0 1 1359.3 584.1Z" stroke="#222" stroke-width="0.5" fill="#fff"/><text x="1349.55" y="582.1" font-size="3.8" text-anchor="middle">0</text><text x="1336.3" y="581.9" font-size="4.15" text-anchor="end">T/O LEVEL 1</text><text x="1196.8" y="528.9" font-size="3.7" text-anchor="end" font-weight="bold">2% slope min</text><path d="M1171.8 529.9L1196.8 529.9" stroke="#222" stroke-width="0.4"/><path d="M1203.5 529.9L1199.9 530.8L1199.9 529Z" stroke="none" fill="#111"/><text font-size="4.15"><tspan x="1247" y="671.45">LAP ROOFING MEMBRANE</tspan><tspan x="1247" y="675.6">OVER WALL MEMBRANE</tspan></text><path d="M1244.5 670L1241.3 670L1227.7 673.8" stroke="#333" stroke-width="0.4" fill="none"/><path d="M1162.7 695L1147.8 698.8" stroke="#222" stroke-width="0.5" fill="none"/><path d="M1147.8 698.8L1151.52 697.18L1151.84 698.44Z" stroke="none" fill="#111"/><text font-size="4.15"><tspan x="1247" y="698.75">CONCRETE PERIMETER WALL</tspan><tspan x="1247" y="702.9">(REFER TO STRUCTURAL)</tspan></text><path d="M1244.5 697.3L1241.3 697.3L1227.7 700.5" stroke="#333" stroke-width="0.4" fill="none"/><path d="M1162.7 711.3L1132.5 716.3" stroke="#222" stroke-width="0.5" fill="none"/><path d="M1132.5 716.3L1136.34 715.01L1136.55 716.29Z" stroke="none" fill="#111"/></g><g id="p9"><rect x="798.8" y="895" width="63.2" height="74.5" stroke="none" fill="url(#lconc)"/><rect x="824.5" y="1079" width="37.5" height="53.5" stroke="none" fill="url(#lconc)"/><path d="M881.7 969.5L910.8 969.5L910.8 1035.2L967.7 1035.2L967.7 1082.2L792.5 1078L775 1067.5L774.2 1067.5L774.2 991.6L881.7 991.6Z" stroke="none" fill="url(#conc)"/><rect x="774.2" y="976.4" width="106.8" height="7.7" stroke="none" fill="url(#conc)"/><path d="M793.3 868.8L891.3 868.8" stroke="#222" stroke-width="0.45"/><path d="M858.7 868.8L860.26 865.16L862.34 872.44L863.9 868.8" stroke="#222" stroke-width="0.45" fill="#fff"/><path d="M798.8 854L798.8 969.5" stroke="#222" stroke-width="0.45"/><path d="M862 854L862 969.5" stroke="#222" stroke-width="0.45"/><path d="M867.5 895.5L867.5 969.5" stroke="#222" stroke-width="0.45"/><path d="M798.8 891.3L862 891.3" stroke="#222" stroke-width="0.5"/><path d="M792.5 895L862 895" stroke="#222" stroke-width="0.5"/><rect x="808.8" y="888" width="43.7" height="3.3" stroke="#333" stroke-width="0.4" fill="none" stroke-dasharray="1.2 1"/><path d="M891.3 868.8L891.3 966.6" stroke="#222" stroke-width="0.45"/><path d="M910 843L910 966.6" stroke="#222" stroke-width="0.45"/><path d="M867.5 899.3L891.3 899.3" stroke="#222" stroke-width="0.45"/><rect x="864.8" y="954.4" width="26.6" height="15.1" stroke="#222" stroke-width="0.45" fill="none"/><path d="M923 868.8L923 948" stroke="#111" stroke-width="0.9"/><path d="M925.5 868.8L925.5 948" stroke="#222" stroke-width="0.5"/><path d="M932.5 868.8L932.5 966.6" stroke="#222" stroke-width="0.45"/><path d="M938 868.8L938 966.6" stroke="#222" stroke-width="0.45"/><path d="M922.4 948L921.1 951.5L921.1 964.7L927.6 964.7L927.6 951.5L926.2 948Z" stroke="#111" stroke-width="0.7" fill="#fff"/><path d="M921.1 961L927.6 961" stroke="#222" stroke-width="0.4"/><path d="M921.1 957L927.6 957" stroke="#222" stroke-width="0.4"/><path d="M936 911L940 909L940 913L936 911" stroke="#555" stroke-width="0.4" fill="none"/><path d="M881 969.5L883 966.8L939.2 966.8L940.5 969.5" stroke="#111" stroke-width="0.9" fill="#fff"/><path d="M893 968.4L928 968.4" stroke="#111" stroke-width="1.4"/><rect x="774.2" y="969.5" width="106.8" height="6.9" stroke="none" fill="#fff"/><path d="M774.2 970.2L881 970.2" stroke="#111" stroke-width="1.3"/><path d="M777.15 970.5V974.2M775.75 975.8L777.15 973.8L778.55 975.8ZM783.05 970.5V974.2M781.65 975.8L783.05 973.8L784.45 975.8ZM788.95 970.5V974.2M787.55 975.8L788.95 973.8L790.35 975.8ZM794.85 970.5V974.2M793.45 975.8L794.85 973.8L796.25 975.8ZM800.75 970.5V974.2M799.35 975.8L800.75 973.8L802.15 975.8ZM806.65 970.5V974.2M805.25 975.8L806.65 973.8L808.05 975.8ZM812.55 970.5V974.2M811.15 975.8L812.55 973.8L813.95 975.8ZM818.45 970.5V974.2M817.05 975.8L818.45 973.8L819.85 975.8ZM824.35 970.5V974.2M822.95 975.8L824.35 973.8L825.75 975.8ZM830.25 970.5V974.2M828.85 975.8L830.25 973.8L831.65 975.8ZM836.15 970.5V974.2M834.75 975.8L836.15 973.8L837.55 975.8ZM842.05 970.5V974.2M840.65 975.8L842.05 973.8L843.45 975.8ZM847.95 970.5V974.2M846.55 975.8L847.95 973.8L849.35 975.8ZM853.85 970.5V974.2M852.45 975.8L853.85 973.8L855.25 975.8ZM859.75 970.5V974.2M858.35 975.8L859.75 973.8L861.15 975.8ZM865.65 970.5V974.2M864.25 975.8L865.65 973.8L867.05 975.8ZM871.55 970.5V974.2M870.15 975.8L871.55 973.8L872.95 975.8ZM877.45 970.5V974.2M876.05 975.8L877.45 973.8L878.85 975.8Z" stroke="#111" stroke-width="0.55" fill="#111"/><path d="M774.2 976.4L881 976.4" stroke="#222" stroke-width="0.5"/><path d="M774.2 984.1L881 984.1" stroke="#222" stroke-width="0.5"/><rect x="774.2" y="984.1" width="106.8" height="7.5" stroke="#222" stroke-width="0.45" fill="#fff"/><path d="M775.6 991.6V986.5H778.4V991.6M781.2 991.6V986.5H784V991.6M786.8 991.6V986.5H789.6V991.6M792.4 991.6V986.5H795.2V991.6M798 991.6V986.5H800.8V991.6M803.6 991.6V986.5H806.4V991.6M809.2 991.6V986.5H812V991.6M814.8 991.6V986.5H817.6V991.6M820.4 991.6V986.5H823.2V991.6M826 991.6V986.5H828.8V991.6M831.6 991.6V986.5H834.4V991.6M837.2 991.6V986.5H840V991.6M842.8 991.6V986.5H845.6V991.6M848.4 991.6V986.5H851.2V991.6M854 991.6V986.5H856.8V991.6M859.6 991.6V986.5H862.4V991.6M865.2 991.6V986.5H868V991.6M870.8 991.6V986.5H873.6V991.6M876.4 991.6V986.5H879.2V991.6" stroke="#222" stroke-width="0.5" fill="none"/><path d="M774.2 991.6L881.7 991.6" stroke="#222" stroke-width="0.55"/><path d="M881.3 969.5L881.3 991.6" stroke="#222" stroke-width="0.6"/><rect x="910.8" y="972" width="9.7" height="38" stroke="#222" stroke-width="0.45" fill="#fff"/><path d="M912.4 974.22H918.9M912.4 977.92H918.9M912.4 981.62H918.9M912.4 985.32H918.9M912.4 989.02H918.9M912.4 992.72H918.9M912.4 996.42H918.9M912.4 1000.12H918.9M912.4 1003.82H918.9M912.4 1007.52H918.9" stroke="#777" stroke-width="0.6" fill="none"/><rect x="920.5" y="972" width="7.1" height="38" stroke="#222" stroke-width="0.45" fill="#fff"/><path d="M922.1 974.22H926M922.1 977.92H926M922.1 981.62H926M922.1 985.32H926M922.1 989.02H926M922.1 992.72H926M922.1 996.42H926M922.1 1000.12H926M922.1 1003.82H926M922.1 1007.52H926" stroke="#777" stroke-width="0.6" fill="none"/><rect x="912" y="1010" width="55.7" height="23.3" stroke="#222" stroke-width="0.45" fill="#fff"/><path d="M913.6 1017.77V1012.49H916.8V1017.77M920 1017.77V1012.49H923.2V1017.77M926.4 1017.77V1012.49H929.6V1017.77M932.8 1017.77V1012.49H936V1017.77M939.2 1017.77V1012.49H942.4V1017.77M945.6 1017.77V1012.49H948.8V1017.77M952 1017.77V1012.49H955.2V1017.77M958.4 1017.77V1012.49H961.6V1017.77M912 1017.77H967.7M916.8 1025.53V1020.25H920V1025.53M923.2 1025.53V1020.25H926.4V1025.53M929.6 1025.53V1020.25H932.8V1025.53M936 1025.53V1020.25H939.2V1025.53M942.4 1025.53V1020.25H945.6V1025.53M948.8 1025.53V1020.25H952V1025.53M955.2 1025.53V1020.25H958.4V1025.53M961.6 1025.53V1020.25H964.8V1025.53M912 1025.53H967.7M913.6 1033.3V1028.02H916.8V1033.3M920 1033.3V1028.02H923.2V1033.3M926.4 1033.3V1028.02H929.6V1033.3M932.8 1033.3V1028.02H936V1033.3M939.2 1033.3V1028.02H942.4V1033.3M945.6 1033.3V1028.02H948.8V1033.3M952 1033.3V1028.02H955.2V1033.3M958.4 1033.3V1028.02H961.6V1033.3" stroke="#222" stroke-width="0.5" fill="none"/><path d="M910.8 969.5L910.8 1034.6L967.7 1034.6" stroke="#111" stroke-width="1.6" fill="none"/><path d="M910.8 970.6L929 970.6" stroke="#111" stroke-width="1.4" fill="none"/><text x="940" y="1031.2" font-size="3" text-anchor="middle">2% slope min</text><path d="M954 1031.5L951 1032.2L951 1030.8Z" stroke="none" fill="#111"/><rect x="932.1" y="971.8" width="14.3" height="3.9" stroke="#222" stroke-width="0.5" fill="#fff"/><path d="M944.4 975.7L944.4 1010" stroke="#222" stroke-width="0.45"/><path d="M934 975.7L934 1010" stroke="#444" stroke-width="0.4"/><path d="M940.5 969.5L967.7 969.5" stroke="#222" stroke-width="0.5"/><path d="M967.7 963.4L967.7 1102.5" stroke="#222" stroke-width="0.45"/><path d="M967.7 1024L964.9 1025.2L970.5 1026.8L967.7 1028" stroke="#222" stroke-width="0.45" fill="#fff"/><path d="M961.3 1038.8L961.3 1082" stroke="#222" stroke-width="0.45"/><path d="M774.2 963L774.2 1067.5" stroke="#222" stroke-width="0.45"/><path d="M774.2 1016.2L771.12 1017.52L777.28 1019.28L774.2 1020.6" stroke="#222" stroke-width="0.45" fill="#fff"/><path d="M775 1067.5L792.5 1078L967.7 1082.2" stroke="#222" stroke-width="0.6" fill="none"/><rect x="792.5" y="1078" width="32" height="54.5" stroke="#222" stroke-width="0.5" fill="#fff"/><rect x="792.5" y="1078" width="4.5" height="54.5" stroke="#222" stroke-width="0.4" fill="url(#hatchl)"/><rect x="820" y="1078" width="4.5" height="54.5" stroke="#222" stroke-width="0.4" fill="url(#hatchl)"/><path d="M797.5 1078.5L819.5 1085.1L797.5 1091.7L819.5 1098.3L797.5 1104.9L819.5 1111.5L797.5 1118.1L819.5 1124.7L797.5 1131.3" stroke="#222" stroke-width="0.45" fill="none"/><path d="M819.5 1078.5L797.5 1085.1L819.5 1091.7L797.5 1098.3L819.5 1104.9L797.5 1111.5L819.5 1118.1L797.5 1124.7L819.5 1131.3" stroke="#222" stroke-width="0.45" fill="none"/><path d="M862 1080L862 1132.5" stroke="#222" stroke-width="0.5"/><path d="M792.5 1132.5L872 1132.5" stroke="#222" stroke-width="0.45"/><path d="M831.2 1132.5L832.76 1128.86L834.84 1136.14L836.4 1132.5" stroke="#222" stroke-width="0.45" fill="#fff"/><rect x="848.7" y="945" width="103.5" height="101.2" stroke="#333" stroke-width="0.45" stroke-dasharray="1.6 1.2" fill="none"/><path d="M975.2 928.8L968.8 928.8L952.2 945" stroke="#222" stroke-width="0.45" fill="none"/><circle cx="982.5" cy="928.8" r="7.3" stroke="#222" stroke-width="0.45" fill="#fff"/><path d="M975.2 928.8L989.8 928.8" stroke="#222" stroke-width="0.4"/><text x="982.5" y="927.9" font-size="3.4" text-anchor="middle">9</text><text x="982.5" y="932.7" font-size="3.5" text-anchor="middle">A-552</text><path d="M830.5 831L830.5 1136" stroke="#333" stroke-width="0.45" stroke-dasharray="7 1.2 1.2 1.2"/><circle cx="830.5" cy="823.3" r="7.5" stroke="#222" stroke-width="0.5" fill="#fff"/><text x="830.5" y="825.4" font-size="5.8" text-anchor="middle" font-weight="bold">F</text><path d="M828.3 846.3L912.2 846.3" stroke="#333" stroke-width="0.4"/><path d="M828.9 847.9L832.1 844.7" stroke="#111" stroke-width="0.7"/><path d="M908.4 847.9L911.6 844.7" stroke="#111" stroke-width="0.7"/><text x="870.25" y="844.5" font-size="4" text-anchor="middle">540</text><path d="M796.6 857.5L832.7 857.5" stroke="#333" stroke-width="0.4"/><path d="M797.2 859.1L800.4 855.9" stroke="#111" stroke-width="0.7"/><path d="M828.9 859.1L832.1 855.9" stroke="#111" stroke-width="0.7"/><text x="814.65" y="855.7" font-size="4" text-anchor="middle">eq.</text><path d="M828.3 857.5L864.2 857.5" stroke="#333" stroke-width="0.4"/><path d="M828.9 859.1L832.1 855.9" stroke="#111" stroke-width="0.7"/><path d="M860.4 859.1L863.6 855.9" stroke="#111" stroke-width="0.7"/><text x="846.25" y="855.7" font-size="4" text-anchor="middle">eq.</text><path d="M790 895L799 895" stroke="#333" stroke-width="0.4"/><path d="M795 892.8L795 971.7" stroke="#333" stroke-width="0.4"/><path d="M793.4 896.6L796.6 893.4" stroke="#111" stroke-width="0.7"/><path d="M793.4 971.1L796.6 967.9" stroke="#111" stroke-width="0.7"/><text x="792.6" y="932.25" font-size="4" text-anchor="middle" transform="rotate(-90 792.6 932.25)">500</text><path d="M786.5 955.5L786.5 1070" stroke="#222" stroke-width="0.45"/><circle cx="786.5" cy="969.5" r="0.8" fill="#111"/><circle cx="786.5" cy="1070" r="0.8" fill="#111"/><path d="M790.47 952.75L788.15 955.07L784.85 955.07L782.53 952.75L782.53 949.45L784.85 947.13L788.15 947.13L790.47 949.45Z" stroke="#222" stroke-width="0.45" fill="#fff"/><text x="786.5" y="952.2" font-size="2.9" text-anchor="middle">FL2</text><path d="M961.3 1082L961.3 1095.6" stroke="#222" stroke-width="0.45"/><circle cx="961.3" cy="1011.3" r="0.8" fill="#111"/><circle cx="961.3" cy="1082" r="0.8" fill="#111"/><path d="M956.5 1099.3L958.4 1096.1L964.2 1096.1L966.1 1099.3L964.2 1102.5L958.4 1102.5Z" stroke="#222" stroke-width="0.45" fill="#fff"/><text x="961.3" y="1100.6" font-size="3.7" text-anchor="middle">R3</text><path d="M967.7 969.5L1042.5 969.5" stroke="#333" stroke-width="0.45" stroke-dasharray="7 1.2 1.2 1.2"/><path d="M1023 969.5A9.75 8.5 0 0 1 1042.5 969.5Z" stroke="#222" stroke-width="0.5" fill="#fff"/><text x="1032.75" y="967.5" font-size="3.8" text-anchor="middle">0</text><text x="1019.5" y="967.3" font-size="4.15" text-anchor="end">T/O LEVEL 1</text><text x="780.8" y="876.9" font-size="3.7" text-anchor="middle" font-weight="bold">INFANT</text><text x="780.8" y="881" font-size="3.7" text-anchor="middle" font-weight="bold">PLAYROOM</text><text x="780.8" y="885.1" font-size="3.7" text-anchor="middle" font-weight="bold">SPACES</text><rect x="776.05" y="887.3" width="9.5" height="4.6" stroke="#222" stroke-width="0.4" fill="none"/><text x="780.8" y="891" font-size="3.5" text-anchor="middle">130</text><text x="979.3" y="852.25" font-size="4.15">GLULAM COLUMN</text><path d="M977 850.8L971.3 850.8L862.5 885" stroke="#222" stroke-width="0.5" fill="none"/><path d="M862.5 885L866.12 883.18L866.51 884.42Z" stroke="none" fill="#111"/><text x="979.3" y="859.75" font-size="4.15">CONC-A BASE</text><path d="M977 858.3L971.3 858.3L862.5 907" stroke="#222" stroke-width="0.5" fill="none"/><path d="M862.5 907L865.89 904.77L866.42 905.96Z" stroke="none" fill="#111"/><text x="979.3" y="876.95" font-size="3.9" font-weight="bold">EXTERIOR</text><text font-size="4.15"><tspan x="979.3" y="893.75">CURTAIN WALL GLAZING</tspan><tspan x="979.3" y="897.9">SYSTEM</tspan></text><path d="M977 892.3L971.3 892.3L925.7 907" stroke="#222" stroke-width="0.5" fill="none"/><path d="M925.7 907L929.31 905.15L929.71 906.39Z" stroke="none" fill="#111"/><text x="979.3" y="909.25" font-size="4.15">ALUMINUM GLAZED DOOR</text><path d="M977 907.8L971.3 907.8L923.2 923.8" stroke="#222" stroke-width="0.5" fill="none"/><path d="M923.2 923.8L926.79 921.92L927.2 923.15Z" stroke="none" fill="#111"/><text font-size="4.15"><tspan x="979.3" y="950.95">OUTDOOR PLAY AREA</tspan><tspan x="979.3" y="955.1">(REFER TO LANDSCAPE ARCH.)</tspan></text><path d="M977 949.5L971.3 949.5L957.5 968.8" stroke="#222" stroke-width="0.5" fill="none"/><path d="M957.5 968.8L959.3 965.17L960.36 965.92Z" stroke="none" fill="#111"/><text font-size="4.15"><tspan x="979.3" y="988.25">VAPOUR BARRIER APPLIED ON</tspan><tspan x="979.3" y="992.4">DRAINAGE MAT OUTBOARD OF</tspan><tspan x="979.3" y="996.55">INSULATION PLANE. REFER TO</tspan><tspan x="979.3" y="1000.7">GEOTECH</tspan></text><path d="M977 986.8L971.3 986.8L926.3 1001.8" stroke="#222" stroke-width="0.5" fill="none"/><path d="M926.3 1001.8L929.89 999.92L930.3 1001.15Z" stroke="none" fill="#111"/><text x="894.3" y="1115.75" font-size="4.15">CONCRETE COLUMN</text><path d="M892 1114.3L887.5 1114.3L875 1111" stroke="#333" stroke-width="0.4" fill="none"/><path d="M862.2 1106.3L866.18 1107.07L865.73 1108.29Z" stroke="none" fill="#111"/></g><g id="p10"><path d="M1108.3 885.5L1145 885.5L1145 961.3L1160 968.5L1160 1108.8L1108.3 1108.8Z" stroke="none" fill="url(#conc)"/><rect x="1163.3" y="968.8" width="31.7" height="140" stroke="none" fill="url(#conc)"/><rect x="1208.8" y="969.5" width="35.7" height="139.3" stroke="none" fill="url(#conc)"/><rect x="1244.5" y="1087" width="33" height="21.8" stroke="none" fill="url(#conc)"/><rect x="1162.5" y="885.5" width="32.5" height="83.3" stroke="none" fill="url(#stone)"/><path d="M1208.8 885.5L1240 885.5L1208.8 942.5Z" stroke="none" fill="url(#gravel)"/><path d="M1240 885.5L1277.5 885.5L1277.5 1087L1244.5 1087L1244.5 969.5L1208.8 969.5L1208.8 942.5Z" stroke="none" fill="url(#weave)"/><rect x="1244.5" y="1087" width="33" height="3" stroke="#333" stroke-width="0.4" fill="#ddd"/><path d="M1148 885.5L1162.5 885.5L1162.5 968.5L1148 961.5Z" stroke="none" fill="#fff"/><path d="M1150.5 892H1159.5M1150.5 899.4H1159.5M1150.5 906.8H1159.5M1150.5 914.2H1159.5M1150.5 921.6H1159.5M1150.5 929H1159.5M1150.5 936.4H1159.5M1150.5 943.8H1159.5M1150.5 951.2H1159.5M1150.5 958.6H1159.5" stroke="#333" stroke-width="0.4" fill="none"/><path d="M1146.5 885.5L1146.5 961L1161.5 968.3L1161.5 1108.8" stroke="#111" stroke-width="1.7" fill="none"/><path d="M1146.5 885.5L1146.5 961L1161.5 968.3" stroke="#fff" stroke-width="0.5" fill="none"/><path d="M1161.5 969L1161.5 1108.8" stroke="#fff" stroke-width="0.5" stroke-dasharray="1.8 1.3"/><path d="M1148.6 961.6L1162.5 968.6L1195 968.8" stroke="#222" stroke-width="0.5" fill="none"/><path d="M1162.5 885.5L1162.5 968.6" stroke="#222" stroke-width="0.45"/><path d="M1163.3 968.8L1163.3 1108.8" stroke="#222" stroke-width="0.45"/><path d="M1108.3 885.5L1108.3 1152.5" stroke="#222" stroke-width="0.5"/><path d="M1195 885.5L1195 1108.8" stroke="#222" stroke-width="0.5"/><path d="M1208.8 885.5L1208.8 1108.8" stroke="#222" stroke-width="0.5"/><path d="M1195 994.8L1191.92 996.12L1198.08 997.88L1195 999.2" stroke="#222" stroke-width="0.45" fill="#fff"/><path d="M1208.8 994.8L1205.72 996.12L1211.88 997.88L1208.8 999.2" stroke="#222" stroke-width="0.45" fill="#fff"/><path d="M1244.5 969.5L1244.5 1108.8" stroke="#222" stroke-width="0.5"/><path d="M1208.8 969.5L1244.5 969.5" stroke="#222" stroke-width="0.55"/><path d="M1240 885.5L1208.8 942.5" stroke="#222" stroke-width="0.5" fill="none"/><path d="M1277.5 885.5L1277.5 1108.8" stroke="#222" stroke-width="0.5"/><path d="M1277.5 994.8L1274.42 996.12L1280.58 997.88L1277.5 999.2" stroke="#222" stroke-width="0.45" fill="#fff"/><path d="M1244.5 1087L1277.5 1087" stroke="#222" stroke-width="0.5"/><path d="M1089.5 885.5L1195 885.5" stroke="#222" stroke-width="0.45"/><path d="M1208.8 885.5L1277.5 885.5" stroke="#222" stroke-width="0.45"/><path d="M1137.4 885.5L1138.96 881.86L1141.04 889.14L1142.6 885.5" stroke="#222" stroke-width="0.45" fill="#fff"/><path d="M1238.7 885.5L1240.26 881.86L1242.34 889.14L1243.9 885.5" stroke="#222" stroke-width="0.45" fill="#fff"/><path d="M1098.8 1108.8L1195 1108.8" stroke="#222" stroke-width="0.45"/><path d="M1208.8 1108.8L1277.5 1108.8" stroke="#222" stroke-width="0.45"/><path d="M1143.7 1108.8L1145.26 1105.16L1147.34 1112.44L1148.9 1108.8" stroke="#222" stroke-width="0.45" fill="#fff"/><path d="M1241.9 1108.8L1243.46 1105.16L1245.54 1112.44L1247.1 1108.8" stroke="#222" stroke-width="0.45" fill="#fff"/><path d="M1094.7 938.3L1162.5 938.3" stroke="#333" stroke-width="0.4"/><circle cx="1108.3" cy="938.3" r="0.8" fill="#111"/><circle cx="1146.5" cy="938.3" r="0.8" fill="#111"/><path d="M1085.2 938.3L1087.1 935.1L1092.9 935.1L1094.8 938.3L1092.9 941.5L1087.1 941.5Z" stroke="#222" stroke-width="0.45" fill="#fff"/><text x="1090" y="939.6" font-size="3.7" text-anchor="middle">W4</text><path d="M1094.7 1061.3L1195 1061.3" stroke="#333" stroke-width="0.4"/><path d="M1195 1061.3L1208.8 1061.3" stroke="#333" stroke-width="0.4" stroke-dasharray="1.5 1.2"/><path d="M1208.8 1061.3L1244.5 1061.3" stroke="#333" stroke-width="0.4"/><circle cx="1108.3" cy="1061.3" r="0.8" fill="#111"/><circle cx="1244.5" cy="1061.3" r="0.8" fill="#111"/><path d="M1085.2 1061.3L1087.1 1058.1L1092.9 1058.1L1094.8 1061.3L1092.9 1064.5L1087.1 1064.5Z" stroke="#222" stroke-width="0.45" fill="#fff"/><text x="1090" y="1062.6" font-size="3.7" text-anchor="middle">W3</text><path d="M1160 1108.8L1160 1121.5" stroke="#333" stroke-width="0.4" stroke-dasharray="1.6 1.2"/><path d="M1106.1 1117.5L1162.2 1117.5" stroke="#333" stroke-width="0.4"/><path d="M1106.7 1119.1L1109.9 1115.9" stroke="#111" stroke-width="0.7"/><path d="M1158.4 1119.1L1161.6 1115.9" stroke="#111" stroke-width="0.7"/><text x="1112" y="1128.95" font-size="3.9" font-weight="bold">VARIES:</text><text font-size="4.15"><tspan x="1112" y="1137.25">FILL IN CONCRETE TO FACE</tspan><tspan x="1112" y="1141.4">OF SCRAPED SECANT PILE</tspan><tspan x="1112" y="1145.55">WALL</tspan></text><text font-size="4.15"><tspan x="1295.8" y="925.95">VAPOUR BARRIER APPLIED ON</tspan><tspan x="1295.8" y="930.1">DRAINAGE MAT OUTBOARD OF</tspan><tspan x="1295.8" y="934.25">INSULATION PLANE. REFER TO</tspan><tspan x="1295.8" y="938.4">GEOTECH</tspan></text><path d="M1293.5 924.5L1290 924.5L1195 944" stroke="#333" stroke-width="0.4" fill="none"/><text font-size="3.9" font-weight="bold"><tspan x="1295.8" y="944.75">VAPOUR BARRIER NOT</tspan><tspan x="1295.8" y="948.9">REQUIRED AT FOUNDATION</tspan><tspan x="1295.8" y="953.05">WALLS AT PERIMETER OF</tspan><tspan x="1295.8" y="957.2">OUTDOOR DAYCARE AREA.</tspan><tspan x="1295.8" y="961.35">REFER TO GEOTECH</tspan></text><text font-size="4.15"><tspan x="1295.8" y="979.75">EXISTING CAISON WALL AT</tspan><tspan x="1295.8" y="983.9">PROPERTY LINE</tspan><tspan x="1295.8" y="988.05">(REFER TO STRUCTURAL)</tspan></text><path d="M1293.5 978.3L1290 978.3L1244.7 978.3" stroke="#222" stroke-width="0.5" fill="none"/><path d="M1244.7 978.3L1248.7 977.65L1248.7 978.95Z" stroke="none" fill="#111"/><text font-size="4.15"><tspan x="1295.8" y="1009.75">LAP VAPOUR BARRIER ONTO</tspan><tspan x="1295.8" y="1013.9">SECANT PILE WALL (TYP.)</tspan></text><path d="M1293.5 1008.3H1290Q1275 998 1240 985T1188 968.9" stroke="#333" stroke-width="0.4" fill="none"/><path d="M1187.5 968.8L1191.5 969.43L1191.1 970.67Z" stroke="none" fill="#111"/><text font-size="4.15"><tspan x="1295.8" y="1079.75">CONCRETE SLAB AT DAPHNE</tspan><tspan x="1295.8" y="1083.9">COCKWELL</tspan></text><path d="M1293.5 1078.3L1290 1078.3L1263.8 1087" stroke="#222" stroke-width="0.5" fill="none"/><path d="M1263.8 1087L1267.39 1085.12L1267.8 1086.36Z" stroke="none" fill="#111"/></g></g></svg></body></html>
